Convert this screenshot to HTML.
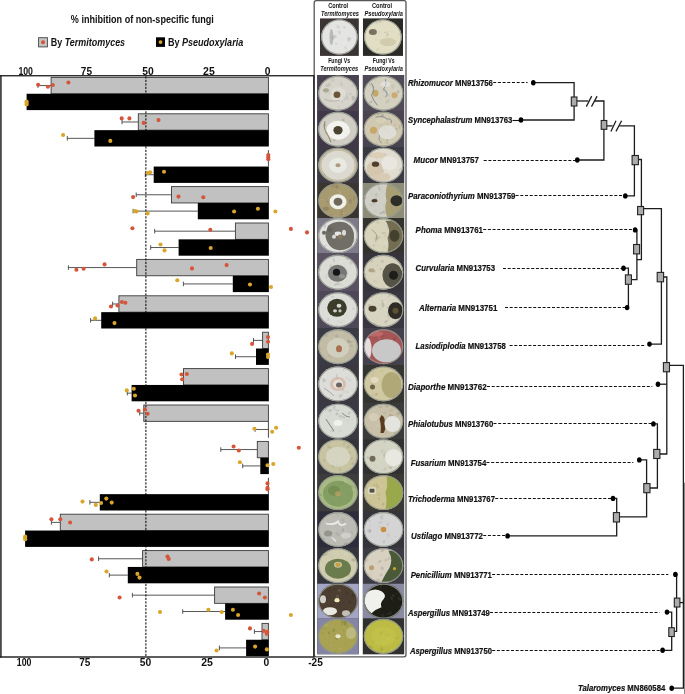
<!DOCTYPE html>
<html><head><meta charset="utf-8"><style>
html,body{margin:0;padding:0;background:#fff;}
svg{display:block;font-family:"Liberation Sans", sans-serif;filter:blur(0.3px);}
</style></head><body>
<svg width="685" height="694" viewBox="0 0 685 694">
<rect width="685" height="694" fill="#fff"/>
<line x1="38.0" y1="85.58" x2="51.1" y2="85.58" stroke="#444" stroke-width="0.9"/>
<line x1="38.0" y1="83.28" x2="38.0" y2="87.88" stroke="#444" stroke-width="0.9"/>
<line x1="122.0" y1="121.98" x2="138.3" y2="121.98" stroke="#444" stroke-width="0.9"/>
<line x1="122.0" y1="119.68" x2="122.0" y2="124.28" stroke="#444" stroke-width="0.9"/>
<line x1="67.3" y1="138.33" x2="94.4" y2="138.33" stroke="#444" stroke-width="0.9"/>
<line x1="67.3" y1="136.03" x2="67.3" y2="140.63" stroke="#444" stroke-width="0.9"/>
<line x1="145.3" y1="174.72" x2="153.7" y2="174.72" stroke="#444" stroke-width="0.9"/>
<line x1="145.3" y1="172.42" x2="145.3" y2="177.03" stroke="#444" stroke-width="0.9"/>
<line x1="136.2" y1="194.78" x2="171.5" y2="194.78" stroke="#444" stroke-width="0.9"/>
<line x1="136.2" y1="192.47" x2="136.2" y2="197.08" stroke="#444" stroke-width="0.9"/>
<line x1="133.1" y1="211.12" x2="197.8" y2="211.12" stroke="#444" stroke-width="0.9"/>
<line x1="133.1" y1="208.82" x2="133.1" y2="213.43" stroke="#444" stroke-width="0.9"/>
<line x1="154.7" y1="231.18" x2="235.4" y2="231.18" stroke="#444" stroke-width="0.9"/>
<line x1="154.7" y1="228.88" x2="154.7" y2="233.48" stroke="#444" stroke-width="0.9"/>
<line x1="150.7" y1="247.53" x2="178.6" y2="247.53" stroke="#444" stroke-width="0.9"/>
<line x1="150.7" y1="245.22" x2="150.7" y2="249.83" stroke="#444" stroke-width="0.9"/>
<line x1="68.4" y1="267.57" x2="136.7" y2="267.57" stroke="#444" stroke-width="0.9"/>
<line x1="68.4" y1="265.27" x2="68.4" y2="269.88" stroke="#444" stroke-width="0.9"/>
<line x1="183.4" y1="283.93" x2="232.8" y2="283.93" stroke="#444" stroke-width="0.9"/>
<line x1="183.4" y1="281.62" x2="183.4" y2="286.23" stroke="#444" stroke-width="0.9"/>
<line x1="112.6" y1="303.97" x2="118.9" y2="303.97" stroke="#444" stroke-width="0.9"/>
<line x1="112.6" y1="301.67" x2="112.6" y2="306.27" stroke="#444" stroke-width="0.9"/>
<line x1="90.6" y1="320.32" x2="101.2" y2="320.32" stroke="#444" stroke-width="0.9"/>
<line x1="90.6" y1="318.02" x2="90.6" y2="322.62" stroke="#444" stroke-width="0.9"/>
<line x1="253.5" y1="340.38" x2="262.6" y2="340.38" stroke="#444" stroke-width="0.9"/>
<line x1="253.5" y1="338.07" x2="253.5" y2="342.68" stroke="#444" stroke-width="0.9"/>
<line x1="235.5" y1="356.73" x2="256.0" y2="356.73" stroke="#444" stroke-width="0.9"/>
<line x1="235.5" y1="354.43" x2="235.5" y2="359.03" stroke="#444" stroke-width="0.9"/>
<line x1="127.3" y1="393.13" x2="131.6" y2="393.13" stroke="#444" stroke-width="0.9"/>
<line x1="127.3" y1="390.83" x2="127.3" y2="395.43" stroke="#444" stroke-width="0.9"/>
<line x1="139.7" y1="413.18" x2="143.8" y2="413.18" stroke="#444" stroke-width="0.9"/>
<line x1="139.7" y1="410.88" x2="139.7" y2="415.48" stroke="#444" stroke-width="0.9"/>
<line x1="255.1" y1="429.53" x2="268.4" y2="429.53" stroke="#444" stroke-width="0.9"/>
<line x1="255.1" y1="427.23" x2="255.1" y2="431.83" stroke="#444" stroke-width="0.9"/>
<line x1="220.8" y1="449.57" x2="257.3" y2="449.57" stroke="#444" stroke-width="0.9"/>
<line x1="220.8" y1="447.27" x2="220.8" y2="451.88" stroke="#444" stroke-width="0.9"/>
<line x1="242.7" y1="465.93" x2="260.3" y2="465.93" stroke="#444" stroke-width="0.9"/>
<line x1="242.7" y1="463.62" x2="242.7" y2="468.23" stroke="#444" stroke-width="0.9"/>
<line x1="89.9" y1="502.32" x2="99.8" y2="502.32" stroke="#444" stroke-width="0.9"/>
<line x1="89.9" y1="500.02" x2="89.9" y2="504.62" stroke="#444" stroke-width="0.9"/>
<line x1="51.4" y1="522.37" x2="60.3" y2="522.37" stroke="#444" stroke-width="0.9"/>
<line x1="51.4" y1="520.07" x2="51.4" y2="524.67" stroke="#444" stroke-width="0.9"/>
<line x1="98.6" y1="558.77" x2="142.6" y2="558.77" stroke="#444" stroke-width="0.9"/>
<line x1="98.6" y1="556.48" x2="98.6" y2="561.07" stroke="#444" stroke-width="0.9"/>
<line x1="109.3" y1="575.12" x2="127.8" y2="575.12" stroke="#444" stroke-width="0.9"/>
<line x1="109.3" y1="572.83" x2="109.3" y2="577.42" stroke="#444" stroke-width="0.9"/>
<line x1="132.4" y1="595.17" x2="214.6" y2="595.17" stroke="#444" stroke-width="0.9"/>
<line x1="132.4" y1="592.88" x2="132.4" y2="597.47" stroke="#444" stroke-width="0.9"/>
<line x1="182.7" y1="611.52" x2="225.1" y2="611.52" stroke="#444" stroke-width="0.9"/>
<line x1="182.7" y1="609.23" x2="182.7" y2="613.82" stroke="#444" stroke-width="0.9"/>
<line x1="254.4" y1="631.57" x2="262.0" y2="631.57" stroke="#444" stroke-width="0.9"/>
<line x1="254.4" y1="629.27" x2="254.4" y2="633.87" stroke="#444" stroke-width="0.9"/>
<line x1="219.4" y1="647.92" x2="246.1" y2="647.92" stroke="#444" stroke-width="0.9"/>
<line x1="219.4" y1="645.62" x2="219.4" y2="650.22" stroke="#444" stroke-width="0.9"/>
<rect x="51.1" y="77.40" width="217.30" height="16.35" fill="#c0c1c0" stroke="#3a3a3a" stroke-width="0.9"/>
<rect x="26.6" y="93.75" width="242.25" height="16.35" fill="#000"/>
<rect x="138.3" y="113.80" width="130.10" height="16.35" fill="#c0c1c0" stroke="#3a3a3a" stroke-width="0.9"/>
<rect x="94.4" y="130.15" width="174.45" height="16.35" fill="#000"/>
<line x1="268.4" y1="150.20" x2="268.4" y2="166.55" stroke="#333" stroke-width="0.9"/>
<rect x="153.7" y="166.55" width="115.15" height="16.35" fill="#000"/>
<rect x="171.5" y="186.60" width="96.90" height="16.35" fill="#c0c1c0" stroke="#3a3a3a" stroke-width="0.9"/>
<rect x="197.8" y="202.95" width="71.05" height="16.35" fill="#000"/>
<rect x="235.4" y="223.00" width="33.00" height="16.35" fill="#c0c1c0" stroke="#3a3a3a" stroke-width="0.9"/>
<rect x="178.6" y="239.35" width="90.25" height="16.35" fill="#000"/>
<rect x="136.7" y="259.40" width="131.70" height="16.35" fill="#c0c1c0" stroke="#3a3a3a" stroke-width="0.9"/>
<rect x="232.8" y="275.75" width="36.05" height="16.35" fill="#000"/>
<rect x="118.9" y="295.80" width="149.50" height="16.35" fill="#c0c1c0" stroke="#3a3a3a" stroke-width="0.9"/>
<rect x="101.2" y="312.15" width="167.65" height="16.35" fill="#000"/>
<rect x="262.6" y="332.20" width="5.80" height="16.35" fill="#c0c1c0" stroke="#3a3a3a" stroke-width="0.9"/>
<rect x="256.0" y="348.55" width="12.85" height="16.35" fill="#000"/>
<rect x="183.5" y="368.60" width="84.90" height="16.35" fill="#c0c1c0" stroke="#3a3a3a" stroke-width="0.9"/>
<rect x="131.6" y="384.95" width="137.25" height="16.35" fill="#000"/>
<rect x="143.8" y="405.00" width="124.60" height="16.35" fill="#c0c1c0" stroke="#3a3a3a" stroke-width="0.9"/>
<line x1="268.4" y1="421.35" x2="268.4" y2="437.70" stroke="#333" stroke-width="0.9"/>
<rect x="257.3" y="441.40" width="11.10" height="16.35" fill="#c0c1c0" stroke="#3a3a3a" stroke-width="0.9"/>
<rect x="260.3" y="457.75" width="8.55" height="16.35" fill="#000"/>
<line x1="268.4" y1="477.80" x2="268.4" y2="494.15" stroke="#333" stroke-width="0.9"/>
<rect x="99.8" y="494.15" width="169.05" height="16.35" fill="#000"/>
<rect x="60.3" y="514.20" width="208.10" height="16.35" fill="#c0c1c0" stroke="#3a3a3a" stroke-width="0.9"/>
<rect x="25.1" y="530.55" width="243.75" height="16.35" fill="#000"/>
<rect x="142.6" y="550.60" width="125.80" height="16.35" fill="#c0c1c0" stroke="#3a3a3a" stroke-width="0.9"/>
<rect x="127.8" y="566.95" width="141.05" height="16.35" fill="#000"/>
<rect x="214.6" y="587.00" width="53.80" height="16.35" fill="#c0c1c0" stroke="#3a3a3a" stroke-width="0.9"/>
<rect x="225.1" y="603.35" width="43.75" height="16.35" fill="#000"/>
<rect x="262.0" y="623.40" width="6.40" height="16.35" fill="#c0c1c0" stroke="#3a3a3a" stroke-width="0.9"/>
<rect x="246.1" y="639.75" width="22.75" height="16.35" fill="#000"/>
<line x1="145.9" y1="76.3" x2="145.9" y2="656" stroke="#000" stroke-width="1" stroke-dasharray="2.2,1.3"/>
<circle cx="38.1" cy="84.8" r="2.05" fill="#d5553a"/>
<circle cx="47.9" cy="86.7" r="2.05" fill="#d5553a"/>
<circle cx="52.8" cy="85" r="2.05" fill="#d5553a"/>
<circle cx="68.4" cy="82.5" r="2.05" fill="#d5553a"/>
<circle cx="121.7" cy="118.4" r="2.05" fill="#d5553a"/>
<circle cx="129.4" cy="118.4" r="2.05" fill="#d5553a"/>
<circle cx="143.7" cy="122.9" r="2.05" fill="#d5553a"/>
<circle cx="158.5" cy="120.1" r="2.05" fill="#d5553a"/>
<circle cx="268.3" cy="155" r="2.05" fill="#d5553a"/>
<circle cx="268.3" cy="157.3" r="2.05" fill="#d5553a"/>
<circle cx="268.3" cy="159.2" r="2.05" fill="#d5553a"/>
<circle cx="133.1" cy="197.1" r="2.05" fill="#d5553a"/>
<circle cx="178.5" cy="196.6" r="2.05" fill="#d5553a"/>
<circle cx="203.3" cy="197.3" r="2.05" fill="#d5553a"/>
<circle cx="132.4" cy="228.2" r="2.05" fill="#d5553a"/>
<circle cx="210.3" cy="229.8" r="2.05" fill="#d5553a"/>
<circle cx="290.9" cy="228.9" r="2.05" fill="#d5553a"/>
<circle cx="307" cy="232.4" r="2.05" fill="#d5553a"/>
<circle cx="76.4" cy="269.8" r="2.05" fill="#d5553a"/>
<circle cx="83.6" cy="268.8" r="2.05" fill="#d5553a"/>
<circle cx="104.6" cy="264.4" r="2.05" fill="#d5553a"/>
<circle cx="192" cy="268.4" r="2.05" fill="#d5553a"/>
<circle cx="226.6" cy="265.1" r="2.05" fill="#d5553a"/>
<circle cx="111" cy="306.5" r="2.05" fill="#d5553a"/>
<circle cx="117.5" cy="305.5" r="2.05" fill="#d5553a"/>
<circle cx="121.9" cy="302" r="2.05" fill="#d5553a"/>
<circle cx="125.4" cy="302.7" r="2.05" fill="#d5553a"/>
<circle cx="268" cy="337.1" r="2.05" fill="#d5553a"/>
<circle cx="268" cy="341.8" r="2.05" fill="#d5553a"/>
<circle cx="252.1" cy="343.9" r="2.05" fill="#d5553a"/>
<circle cx="181.5" cy="374.5" r="2.05" fill="#d5553a"/>
<circle cx="186.9" cy="374" r="2.05" fill="#d5553a"/>
<circle cx="182.2" cy="379.2" r="2.05" fill="#d5553a"/>
<circle cx="138.5" cy="410.7" r="2.05" fill="#d5553a"/>
<circle cx="144.8" cy="409.5" r="2.05" fill="#d5553a"/>
<circle cx="147.6" cy="413.8" r="2.05" fill="#d5553a"/>
<circle cx="233.6" cy="446.5" r="2.05" fill="#d5553a"/>
<circle cx="238.8" cy="450.5" r="2.05" fill="#d5553a"/>
<circle cx="298.8" cy="447.7" r="2.05" fill="#d5553a"/>
<circle cx="267.5" cy="483.4" r="2.05" fill="#d5553a"/>
<circle cx="267.5" cy="487.9" r="2.05" fill="#d5553a"/>
<circle cx="267.5" cy="489.3" r="2.05" fill="#d5553a"/>
<circle cx="51.4" cy="519.2" r="2.05" fill="#d5553a"/>
<circle cx="60.3" cy="519.2" r="2.05" fill="#d5553a"/>
<circle cx="70.1" cy="522.5" r="2.05" fill="#d5553a"/>
<circle cx="91.8" cy="559.4" r="2.05" fill="#d5553a"/>
<circle cx="167.5" cy="556.6" r="2.05" fill="#d5553a"/>
<circle cx="168.7" cy="558.9" r="2.05" fill="#d5553a"/>
<circle cx="119.6" cy="597.5" r="2.05" fill="#d5553a"/>
<circle cx="259.1" cy="593.5" r="2.05" fill="#d5553a"/>
<circle cx="264.9" cy="597.5" r="2.05" fill="#d5553a"/>
<circle cx="250" cy="628.4" r="2.05" fill="#d5553a"/>
<circle cx="263.8" cy="630.9" r="2.05" fill="#d5553a"/>
<circle cx="266.8" cy="633.7" r="2.05" fill="#d5553a"/>
<circle cx="267.3" cy="631.9" r="2.05" fill="#d5553a"/>
<circle cx="26.6" cy="101.5" r="2.05" fill="#d9a52a"/>
<circle cx="26.6" cy="103" r="2.05" fill="#d9a52a"/>
<circle cx="26.6" cy="104.5" r="2.05" fill="#d9a52a"/>
<circle cx="63.1" cy="135" r="2.05" fill="#d9a52a"/>
<circle cx="110.3" cy="140.9" r="2.05" fill="#d9a52a"/>
<circle cx="147.9" cy="173" r="2.05" fill="#d9a52a"/>
<circle cx="150.2" cy="172.3" r="2.05" fill="#d9a52a"/>
<circle cx="164" cy="171.8" r="2.05" fill="#d9a52a"/>
<circle cx="135" cy="211.1" r="2.05" fill="#d9a52a"/>
<circle cx="136.5" cy="211.5" r="2.05" fill="#d9a52a"/>
<circle cx="147.6" cy="213.4" r="2.05" fill="#d9a52a"/>
<circle cx="234.1" cy="211.5" r="2.05" fill="#d9a52a"/>
<circle cx="257.9" cy="208.7" r="2.05" fill="#d9a52a"/>
<circle cx="275.4" cy="211.5" r="2.05" fill="#d9a52a"/>
<circle cx="160.5" cy="244.5" r="2.05" fill="#d9a52a"/>
<circle cx="164.5" cy="250.4" r="2.05" fill="#d9a52a"/>
<circle cx="210.7" cy="248" r="2.05" fill="#d9a52a"/>
<circle cx="177.3" cy="280.3" r="2.05" fill="#d9a52a"/>
<circle cx="250" cy="284.5" r="2.05" fill="#d9a52a"/>
<circle cx="271" cy="287" r="2.05" fill="#d9a52a"/>
<circle cx="95.1" cy="318.4" r="2.05" fill="#d9a52a"/>
<circle cx="114.5" cy="323.1" r="2.05" fill="#d9a52a"/>
<circle cx="231.8" cy="353.4" r="2.05" fill="#d9a52a"/>
<circle cx="268" cy="354.5" r="2.05" fill="#d9a52a"/>
<circle cx="268" cy="357" r="2.05" fill="#d9a52a"/>
<circle cx="126.8" cy="390.4" r="2.05" fill="#d9a52a"/>
<circle cx="133.8" cy="388.8" r="2.05" fill="#d9a52a"/>
<circle cx="135" cy="395.5" r="2.05" fill="#d9a52a"/>
<circle cx="254.4" cy="428.7" r="2.05" fill="#d9a52a"/>
<circle cx="272.2" cy="431.7" r="2.05" fill="#d9a52a"/>
<circle cx="276.1" cy="427.8" r="2.05" fill="#d9a52a"/>
<circle cx="239.9" cy="462.2" r="2.05" fill="#d9a52a"/>
<circle cx="267.5" cy="465.2" r="2.05" fill="#d9a52a"/>
<circle cx="273.3" cy="464" r="2.05" fill="#d9a52a"/>
<circle cx="82.5" cy="501.6" r="2.05" fill="#d9a52a"/>
<circle cx="95.8" cy="504.9" r="2.05" fill="#d9a52a"/>
<circle cx="101.1" cy="503" r="2.05" fill="#d9a52a"/>
<circle cx="106.3" cy="498.6" r="2.05" fill="#d9a52a"/>
<circle cx="111.7" cy="502.6" r="2.05" fill="#d9a52a"/>
<circle cx="25.2" cy="536.5" r="2.05" fill="#d9a52a"/>
<circle cx="25.2" cy="537.9" r="2.05" fill="#d9a52a"/>
<circle cx="25.2" cy="539.3" r="2.05" fill="#d9a52a"/>
<circle cx="106.5" cy="571.5" r="2.05" fill="#d9a52a"/>
<circle cx="137.4" cy="573.9" r="2.05" fill="#d9a52a"/>
<circle cx="139.5" cy="577.6" r="2.05" fill="#d9a52a"/>
<circle cx="160" cy="612" r="2.05" fill="#d9a52a"/>
<circle cx="208.4" cy="609.7" r="2.05" fill="#d9a52a"/>
<circle cx="221.7" cy="612" r="2.05" fill="#d9a52a"/>
<circle cx="232.9" cy="609.7" r="2.05" fill="#d9a52a"/>
<circle cx="238.1" cy="615" r="2.05" fill="#d9a52a"/>
<circle cx="290.9" cy="615" r="2.05" fill="#d9a52a"/>
<circle cx="216.6" cy="650.5" r="2.05" fill="#d9a52a"/>
<circle cx="255.1" cy="646.6" r="2.05" fill="#d9a52a"/>
<circle cx="266.8" cy="649.4" r="2.05" fill="#d9a52a"/>
<rect x="0" y="75.2" width="1.8" height="582.4" fill="#4a4a4a"/>
<rect x="0" y="75.1" width="314.5" height="1.3" fill="#1a1a1a"/>
<rect x="0" y="656.3" width="314.5" height="1.4" fill="#1a1a1a"/>
<text x="25.7" y="74.6" font-size="10.4" font-weight="bold" text-anchor="middle" fill="#111" textLength="14.6" lengthAdjust="spacingAndGlyphs">100</text>
<text x="86.4" y="74.6" font-size="10.4" font-weight="bold" text-anchor="middle" fill="#111" textLength="11.2" lengthAdjust="spacingAndGlyphs">75</text>
<text x="148.1" y="74.6" font-size="10.4" font-weight="bold" text-anchor="middle" fill="#111" textLength="11.5" lengthAdjust="spacingAndGlyphs">50</text>
<text x="208.9" y="74.6" font-size="10.4" font-weight="bold" text-anchor="middle" fill="#111" textLength="11.7" lengthAdjust="spacingAndGlyphs">25</text>
<text x="267.5" y="74.6" font-size="10.4" font-weight="bold" text-anchor="middle" fill="#111" textLength="5.7" lengthAdjust="spacingAndGlyphs">0</text>
<text x="24.1" y="666" font-size="10.4" font-weight="bold" text-anchor="middle" fill="#111" textLength="14.6" lengthAdjust="spacingAndGlyphs">100</text>
<text x="84.8" y="666" font-size="10.4" font-weight="bold" text-anchor="middle" fill="#111" textLength="11.2" lengthAdjust="spacingAndGlyphs">75</text>
<text x="145.5" y="666" font-size="10.4" font-weight="bold" text-anchor="middle" fill="#111" textLength="11.5" lengthAdjust="spacingAndGlyphs">50</text>
<text x="207.1" y="666" font-size="10.4" font-weight="bold" text-anchor="middle" fill="#111" textLength="11.7" lengthAdjust="spacingAndGlyphs">25</text>
<text x="266.4" y="666" font-size="10.4" font-weight="bold" text-anchor="middle" fill="#111" textLength="5.7" lengthAdjust="spacingAndGlyphs">0</text>
<text x="315.5" y="666" font-size="10.4" font-weight="bold" text-anchor="middle" fill="#111" textLength="14.6" lengthAdjust="spacingAndGlyphs">-25</text>
<text x="70.8" y="23.3" font-size="10.2" font-weight="bold" fill="#111" textLength="143" lengthAdjust="spacingAndGlyphs">% inhibition of non-specific fungi</text>
<rect x="38.6" y="37.7" width="8.8" height="9.2" fill="#c4c4c4" stroke="#444" stroke-width="0.9"/>
<circle cx="43" cy="42.3" r="2" fill="#d5553a"/>
<text x="50.8" y="45.9" font-size="10.2" font-weight="bold" fill="#111" textLength="74.3" lengthAdjust="spacingAndGlyphs">By <tspan font-style="italic">Termitomyces</tspan></text>
<rect x="156" y="37.3" width="9" height="9.6" fill="#000"/>
<circle cx="160.5" cy="42.1" r="1.9" fill="#d9a52a"/>
<text x="167.9" y="45.9" font-size="10.2" font-weight="bold" fill="#111" textLength="75.3" lengthAdjust="spacingAndGlyphs">By <tspan font-style="italic">Pseudoxylaria</tspan></text>
<rect x="314.2" y="0.6" width="91.8" height="656.2" rx="2" fill="#fff" stroke="#555" stroke-width="1.3"/>
<rect x="313.1" y="75.1" width="1.5" height="582.5" fill="#2a2a2a"/>
<text x="328.2" y="7.9" font-size="6.8" font-weight="bold" fill="#111" textLength="20" lengthAdjust="spacingAndGlyphs">Control</text>
<text x="321" y="15.9" font-size="6.8" font-weight="bold" fill="#111" font-style="italic" textLength="37.9" lengthAdjust="spacingAndGlyphs">Termitomyces</text>
<text x="372" y="7.9" font-size="6.8" font-weight="bold" fill="#111" textLength="20.1" lengthAdjust="spacingAndGlyphs">Control</text>
<text x="364.5" y="15.9" font-size="6.8" font-weight="bold" fill="#111" font-style="italic" textLength="38.5" lengthAdjust="spacingAndGlyphs">Pseudoxylaria</text>
<text x="328.2" y="63.1" font-size="6.8" font-weight="bold" fill="#111" textLength="21.9" lengthAdjust="spacingAndGlyphs">Fungi Vs</text>
<text x="320.2" y="71.4" font-size="6.8" font-weight="bold" fill="#111" font-style="italic" textLength="38" lengthAdjust="spacingAndGlyphs">Termitomyces</text>
<text x="372.8" y="63.1" font-size="6.8" font-weight="bold" fill="#111" textLength="21.9" lengthAdjust="spacingAndGlyphs">Fungi Vs</text>
<text x="364.5" y="71.4" font-size="6.8" font-weight="bold" fill="#111" font-style="italic" textLength="38.5" lengthAdjust="spacingAndGlyphs">Pseudoxylaria</text>
<clipPath id="cp1"><rect x="319.9" y="18.20" width="39" height="37.70"/></clipPath>
<clipPath id="cp1d"><ellipse cx="339.40" cy="37.05" rx="18.2" ry="17.5"/></clipPath>
<g clip-path="url(#cp1)">
<rect x="319.9" y="18.20" width="39" height="37.70" fill="#3a3434"/>
<ellipse cx="339.40" cy="37.05" rx="18.2" ry="17.5" fill="#e4e4e2"/>
<g clip-path="url(#cp1d)"><g transform="translate(339.40,37.05)">
<ellipse cx="9.8" cy="2.5" rx="2.4" ry="1.4" transform="rotate(131 9.8 2.5)" fill="#bdbdbc" opacity="0.55"/>
<ellipse cx="-3.7" cy="-13.3" rx="0.9" ry="0.7" transform="rotate(61 -3.7 -13.3)" fill="#e6e6e5" opacity="0.55"/>
<ellipse cx="-0.2" cy="-4.6" rx="1.7" ry="1.7" transform="rotate(110 -0.2 -4.6)" fill="#c3c3c1" opacity="0.55"/>
<ellipse cx="-6.1" cy="0.3" rx="2.2" ry="1.8" transform="rotate(130 -6.1 0.3)" fill="#b6b6b5" opacity="0.55"/>
<ellipse cx="7.7" cy="-7.2" rx="0.9" ry="1.8" transform="rotate(176 7.7 -7.2)" fill="#e8e8e6" opacity="0.55"/>
<ellipse cx="5.8" cy="5.4" rx="2.5" ry="1.6" transform="rotate(111 5.8 5.4)" fill="#e7e7e5" opacity="0.55"/>
<ellipse cx="-7.8" cy="-5.4" rx="1.8" ry="1.6" transform="rotate(70 -7.8 -5.4)" fill="#e2e2e0" opacity="0.55"/>
<ellipse cx="8.6" cy="10.7" rx="0.9" ry="0.6" transform="rotate(168 8.6 10.7)" fill="#e3e3e1" opacity="0.55"/>
<ellipse cx="-1.5" cy="-4.0" rx="1.4" ry="0.8" transform="rotate(2 -1.5 -4.0)" fill="#e5e5e4" opacity="0.55"/>
<ellipse cx="-2.7" cy="-10.4" rx="1.9" ry="0.8" transform="rotate(48 -2.7 -10.4)" fill="#d3d3d1" opacity="0.55"/>
<ellipse cx="-2.1" cy="-13.7" rx="0.9" ry="0.8" transform="rotate(129 -2.1 -13.7)" fill="#e7e7e5" opacity="0.55"/>
<ellipse cx="-5.8" cy="14.0" rx="2.4" ry="0.8" transform="rotate(23 -5.8 14.0)" fill="#e4e4e2" opacity="0.55"/>
<ellipse cx="3.6" cy="2.5" rx="2.3" ry="0.7" transform="rotate(0 3.6 2.5)" fill="#dededc" opacity="0.55"/>
<ellipse cx="9.2" cy="1.3" rx="1.7" ry="1.0" transform="rotate(15 9.2 1.3)" fill="#bcbcbb" opacity="0.55"/>
<ellipse cx="-3.2" cy="-11.7" rx="1.6" ry="0.8" transform="rotate(115 -3.2 -11.7)" fill="#e6e6e4" opacity="0.55"/>
<ellipse cx="-10.3" cy="-11.5" rx="2.5" ry="1.4" transform="rotate(124 -10.3 -11.5)" fill="#d7d7d5" opacity="0.55"/>
<ellipse cx="-5.2" cy="7.1" rx="1.0" ry="1.7" transform="rotate(156 -5.2 7.1)" fill="#e8e8e6" opacity="0.55"/>
<ellipse cx="4.9" cy="-9.7" rx="1.2" ry="1.2" transform="rotate(158 4.9 -9.7)" fill="#c2c2c1" opacity="0.55"/>
<ellipse cx="-9.3" cy="-4.0" rx="1.8" ry="1.3" transform="rotate(84 -9.3 -4.0)" fill="#e6e6e4" opacity="0.55"/>
<ellipse cx="1.3" cy="8.7" rx="1.2" ry="1.2" transform="rotate(137 1.3 8.7)" fill="#e4e4e2" opacity="0.55"/>
<ellipse cx="-1.0" cy="-10.4" rx="2.3" ry="1.3" transform="rotate(54 -1.0 -10.4)" fill="#cccccb" opacity="0.55"/>
<ellipse cx="3.3" cy="4.6" rx="1.4" ry="1.3" transform="rotate(32 3.3 4.6)" fill="#e5e5e3" opacity="0.55"/>
<ellipse cx="-7.4" cy="4.5" rx="1.5" ry="0.6" transform="rotate(53 -7.4 4.5)" fill="#e6e6e4" opacity="0.55"/>
<ellipse cx="7.2" cy="14.7" rx="1.4" ry="1.5" transform="rotate(115 7.2 14.7)" fill="#d8d8d6" opacity="0.55"/>
<ellipse cx="-3.2" cy="6.6" rx="1.1" ry="0.9" transform="rotate(120 -3.2 6.6)" fill="#bebebd" opacity="0.55"/>
<ellipse cx="9.1" cy="-3.5" rx="1.8" ry="1.2" transform="rotate(127 9.1 -3.5)" fill="#e6e6e4" opacity="0.55"/>
<ellipse cx="-3.9" cy="-0.6" rx="1.2" ry="1.4" transform="rotate(154 -3.9 -0.6)" fill="#babab8" opacity="0.55"/>
<ellipse cx="14.8" cy="6.9" rx="1.1" ry="1.6" transform="rotate(95 14.8 6.9)" fill="#e8e8e6" opacity="0.55"/>
<ellipse cx="-1.1" cy="9.9" rx="1.1" ry="0.9" transform="rotate(127 -1.1 9.9)" fill="#e7e7e5" opacity="0.55"/>
<ellipse cx="6.3" cy="10.9" rx="0.9" ry="1.4" transform="rotate(158 6.3 10.9)" fill="#b9b9b7" opacity="0.55"/>
<ellipse cx="-8" cy="0" rx="2" ry="8" fill="#909090" opacity="0.5"/>
</g></g>
<ellipse cx="339.40" cy="37.05" rx="17.7" ry="17.0" fill="none" stroke="#8e968c" stroke-width="1.1" opacity="0.9"/>
</g>
<clipPath id="cp2"><rect x="362.8" y="18.20" width="40.2" height="37.70"/></clipPath>
<clipPath id="cp2d"><ellipse cx="382.90" cy="37.05" rx="18.8" ry="17.5"/></clipPath>
<g clip-path="url(#cp2)">
<rect x="362.8" y="18.20" width="40.2" height="37.70" fill="#2a2a26"/>
<ellipse cx="382.90" cy="37.05" rx="18.8" ry="17.5" fill="#e2dec4"/>
<g clip-path="url(#cp2d)"><g transform="translate(382.90,37.05)">
<ellipse cx="-2.1" cy="3.3" rx="1.0" ry="1.6" transform="rotate(51 -2.1 3.3)" fill="#d1ceb6" opacity="0.55"/>
<ellipse cx="8.1" cy="10.2" rx="2.4" ry="1.0" transform="rotate(82 8.1 10.2)" fill="#e6e2cc" opacity="0.55"/>
<ellipse cx="-13.3" cy="2.3" rx="1.5" ry="0.8" transform="rotate(12 -13.3 2.3)" fill="#e3e0c7" opacity="0.55"/>
<ellipse cx="13.3" cy="-6.6" rx="1.3" ry="1.2" transform="rotate(140 13.3 -6.6)" fill="#e5e2cb" opacity="0.55"/>
<ellipse cx="-6.3" cy="-14.2" rx="2.2" ry="0.9" transform="rotate(44 -6.3 -14.2)" fill="#c4c1aa" opacity="0.55"/>
<ellipse cx="1.9" cy="10.4" rx="2.3" ry="1.7" transform="rotate(71 1.9 10.4)" fill="#e1ddc3" opacity="0.55"/>
<ellipse cx="12.6" cy="4.2" rx="1.1" ry="1.0" transform="rotate(17 12.6 4.2)" fill="#dfdbc1" opacity="0.55"/>
<ellipse cx="-11.9" cy="2.6" rx="1.2" ry="1.3" transform="rotate(33 -11.9 2.6)" fill="#e4e1c9" opacity="0.55"/>
<ellipse cx="-3.5" cy="-15.8" rx="1.9" ry="1.3" transform="rotate(20 -3.5 -15.8)" fill="#b2af9a" opacity="0.55"/>
<ellipse cx="4.6" cy="-2.4" rx="2.0" ry="1.1" transform="rotate(104 4.6 -2.4)" fill="#bdbaa4" opacity="0.55"/>
<ellipse cx="16.9" cy="1.5" rx="0.9" ry="0.6" transform="rotate(106 16.9 1.5)" fill="#e2dec5" opacity="0.55"/>
<ellipse cx="-11.6" cy="-4.2" rx="1.6" ry="1.3" transform="rotate(77 -11.6 -4.2)" fill="#c1bda7" opacity="0.55"/>
<ellipse cx="-4.1" cy="-4.7" rx="1.4" ry="0.8" transform="rotate(121 -4.1 -4.7)" fill="#bdbaa4" opacity="0.55"/>
<ellipse cx="3.2" cy="14.5" rx="2.6" ry="1.5" transform="rotate(169 3.2 14.5)" fill="#dddac0" opacity="0.55"/>
<ellipse cx="16.9" cy="-1.4" rx="2.6" ry="0.7" transform="rotate(104 16.9 -1.4)" fill="#e6e3cc" opacity="0.55"/>
<ellipse cx="3.6" cy="-7.0" rx="2.2" ry="1.4" transform="rotate(92 3.6 -7.0)" fill="#e3dfc6" opacity="0.55"/>
<ellipse cx="16.7" cy="-2.4" rx="1.8" ry="1.2" transform="rotate(86 16.7 -2.4)" fill="#cecab2" opacity="0.55"/>
<ellipse cx="-7.4" cy="-8.3" rx="0.9" ry="1.4" transform="rotate(112 -7.4 -8.3)" fill="#e5e1ca" opacity="0.55"/>
<ellipse cx="-7.0" cy="3.0" rx="1.5" ry="0.8" transform="rotate(23 -7.0 3.0)" fill="#d5d2b9" opacity="0.55"/>
<ellipse cx="5.6" cy="-10.6" rx="2.5" ry="1.2" transform="rotate(7 5.6 -10.6)" fill="#e2dec5" opacity="0.55"/>
<ellipse cx="-7.0" cy="-6.8" rx="1.0" ry="1.4" transform="rotate(6 -7.0 -6.8)" fill="#e4e0c8" opacity="0.55"/>
<ellipse cx="3.1" cy="-4.8" rx="2.1" ry="0.6" transform="rotate(168 3.1 -4.8)" fill="#b9b5a0" opacity="0.55"/>
<ellipse cx="-7.9" cy="-3.7" rx="2.3" ry="1.7" transform="rotate(62 -7.9 -3.7)" fill="#d9d5bc" opacity="0.55"/>
<ellipse cx="-11.3" cy="-11.6" rx="2.1" ry="0.9" transform="rotate(168 -11.3 -11.6)" fill="#e6e3cd" opacity="0.55"/>
<ellipse cx="-8.8" cy="-12.3" rx="2.4" ry="1.7" transform="rotate(129 -8.8 -12.3)" fill="#e0dcc2" opacity="0.55"/>
<ellipse cx="-5.6" cy="-6.6" rx="0.9" ry="1.0" transform="rotate(176 -5.6 -6.6)" fill="#e5e2cb" opacity="0.55"/>
<ellipse cx="-5.3" cy="12.6" rx="1.7" ry="1.4" transform="rotate(166 -5.3 12.6)" fill="#cdc9b2" opacity="0.55"/>
<ellipse cx="-4.6" cy="-4.6" rx="1.0" ry="1.5" transform="rotate(86 -4.6 -4.6)" fill="#e6e3cd" opacity="0.55"/>
<ellipse cx="-15.5" cy="-8.0" rx="1.2" ry="1.6" transform="rotate(5 -15.5 -8.0)" fill="#e4e0c8" opacity="0.55"/>
<ellipse cx="-1.1" cy="-15.9" rx="1.8" ry="1.1" transform="rotate(100 -1.1 -15.9)" fill="#d5d1b9" opacity="0.55"/>
<ellipse cx="-10" cy="-5" rx="4" ry="3" fill="#605848" opacity="0.8"/>
<ellipse cx="5" cy="5" rx="8" ry="4" fill="#c8c0a0" opacity="0.6"/>
</g></g>
<ellipse cx="382.90" cy="37.05" rx="18.3" ry="17.0" fill="none" stroke="#8e968c" stroke-width="1.1" opacity="0.9"/>
</g>
<rect x="317.2" y="75" width="41.6" height="579.3" fill="#3a3840"/>
<rect x="362.8" y="75" width="41.4" height="579.3" fill="#3a3840"/>
<clipPath id="c0_0"><rect x="317.2" y="75.00" width="41.6" height="36.50"/></clipPath>
<clipPath id="c0_0d"><ellipse cx="338.00" cy="93.25" rx="19.7" ry="17.4"/></clipPath>
<g clip-path="url(#c0_0)">
<rect x="317.2" y="75.00" width="41.6" height="36.50" fill="#4a4250"/>
<ellipse cx="338.00" cy="93.25" rx="19.7" ry="17.4" fill="#d6d4ca"/>
<g clip-path="url(#c0_0d)"><g transform="translate(338.00,93.25)">
<ellipse cx="8.6" cy="0.8" rx="1.8" ry="1.3" transform="rotate(17 8.6 0.8)" fill="#b5b4ab" opacity="0.55"/>
<ellipse cx="15.0" cy="-7.6" rx="2.3" ry="0.8" transform="rotate(133 15.0 -7.6)" fill="#bdbbb2" opacity="0.55"/>
<ellipse cx="-15.2" cy="0.6" rx="2.4" ry="1.1" transform="rotate(51 -15.2 0.6)" fill="#dbd9d0" opacity="0.55"/>
<ellipse cx="1.1" cy="13.7" rx="1.4" ry="0.8" transform="rotate(94 1.1 13.7)" fill="#bfbdb4" opacity="0.55"/>
<ellipse cx="9.4" cy="1.3" rx="1.1" ry="1.5" transform="rotate(148 9.4 1.3)" fill="#dcdad1" opacity="0.55"/>
<ellipse cx="-7.2" cy="0.3" rx="1.7" ry="1.5" transform="rotate(58 -7.2 0.3)" fill="#b2b0a8" opacity="0.55"/>
<ellipse cx="12.4" cy="0.7" rx="1.4" ry="1.2" transform="rotate(163 12.4 0.7)" fill="#b9b8af" opacity="0.55"/>
<ellipse cx="-11.3" cy="-2.1" rx="2.2" ry="1.6" transform="rotate(4 -11.3 -2.1)" fill="#d6d4ca" opacity="0.55"/>
<ellipse cx="-0.5" cy="-2.0" rx="2.1" ry="0.8" transform="rotate(46 -0.5 -2.0)" fill="#aeaca4" opacity="0.55"/>
<ellipse cx="14.8" cy="3.9" rx="1.5" ry="1.6" transform="rotate(156 14.8 3.9)" fill="#c4c2b9" opacity="0.55"/>
<ellipse cx="-10.4" cy="-7.8" rx="2.6" ry="1.2" transform="rotate(176 -10.4 -7.8)" fill="#b1b0a7" opacity="0.55"/>
<ellipse cx="6.2" cy="4.4" rx="2.6" ry="1.8" transform="rotate(64 6.2 4.4)" fill="#bbb9b0" opacity="0.55"/>
<ellipse cx="-8.3" cy="-8.9" rx="2.4" ry="1.8" transform="rotate(54 -8.3 -8.9)" fill="#c1bfb6" opacity="0.55"/>
<ellipse cx="16.2" cy="4.9" rx="2.4" ry="1.3" transform="rotate(135 16.2 4.9)" fill="#d6d4ca" opacity="0.55"/>
<ellipse cx="14.8" cy="6.3" rx="1.4" ry="1.1" transform="rotate(93 14.8 6.3)" fill="#b4b2aa" opacity="0.55"/>
<ellipse cx="15.7" cy="4.6" rx="2.1" ry="1.8" transform="rotate(23 15.7 4.6)" fill="#afada5" opacity="0.55"/>
<ellipse cx="-5.2" cy="-8.9" rx="2.2" ry="0.8" transform="rotate(23 -5.2 -8.9)" fill="#dbd9d1" opacity="0.55"/>
<ellipse cx="9.6" cy="5.5" rx="0.9" ry="1.5" transform="rotate(127 9.6 5.5)" fill="#bcbab1" opacity="0.55"/>
<ellipse cx="-3.6" cy="-9.8" rx="1.9" ry="1.1" transform="rotate(128 -3.6 -9.8)" fill="#d6d4ca" opacity="0.55"/>
<ellipse cx="-11.3" cy="-4.8" rx="2.1" ry="0.9" transform="rotate(149 -11.3 -4.8)" fill="#d1cfc6" opacity="0.55"/>
<ellipse cx="3.5" cy="-9.1" rx="2.2" ry="0.9" transform="rotate(57 3.5 -9.1)" fill="#b7b5ad" opacity="0.55"/>
<ellipse cx="9.2" cy="3.4" rx="1.7" ry="1.3" transform="rotate(117 9.2 3.4)" fill="#c7c5bc" opacity="0.55"/>
<ellipse cx="10.5" cy="-0.4" rx="0.9" ry="1.6" transform="rotate(44 10.5 -0.4)" fill="#d8d7cd" opacity="0.55"/>
<ellipse cx="-5.1" cy="-13.4" rx="2.3" ry="1.7" transform="rotate(128 -5.1 -13.4)" fill="#c2c1b7" opacity="0.55"/>
<ellipse cx="-0.4" cy="2.5" rx="1.2" ry="1.1" transform="rotate(179 -0.4 2.5)" fill="#d7d5cb" opacity="0.55"/>
<ellipse cx="4.2" cy="8.3" rx="1.2" ry="1.2" transform="rotate(167 4.2 8.3)" fill="#c0bfb6" opacity="0.55"/>
<ellipse cx="-9.0" cy="-1.4" rx="1.2" ry="1.3" transform="rotate(58 -9.0 -1.4)" fill="#d3d1c7" opacity="0.55"/>
<ellipse cx="-6.5" cy="-6.5" rx="1.8" ry="1.8" transform="rotate(96 -6.5 -6.5)" fill="#d7d5cb" opacity="0.55"/>
<ellipse cx="-13.1" cy="-4.3" rx="2.3" ry="1.0" transform="rotate(36 -13.1 -4.3)" fill="#dcdbd2" opacity="0.55"/>
<ellipse cx="-12.4" cy="-1.0" rx="2.0" ry="1.8" transform="rotate(76 -12.4 -1.0)" fill="#cccac0" opacity="0.55"/>
<ellipse cx="0" cy="1" rx="8" ry="7" fill="#e0e0da" opacity="0.7"/>
<ellipse cx="-1" cy="1.5" rx="3.4" ry="3.2" fill="#6a5636" opacity="1"/>
<ellipse cx="-12" cy="-3" rx="3" ry="2" fill="#a09c88" opacity="0.8"/>
<path d="M-14 6 Q-6 9 2 7" fill="none" stroke="#b8b4a4" stroke-width="1.2" opacity="0.8"/>
</g></g>
<ellipse cx="338.00" cy="93.25" rx="19.2" ry="16.9" fill="none" stroke="#8e968c" stroke-width="1.1" opacity="0.9"/>
</g>
<clipPath id="c0_1"><rect x="362.8" y="75.00" width="41.4" height="36.50"/></clipPath>
<clipPath id="c0_1d"><ellipse cx="383.50" cy="93.25" rx="19.7" ry="17.4"/></clipPath>
<g clip-path="url(#c0_1)">
<rect x="362.8" y="75.00" width="41.4" height="36.50" fill="#504a58"/>
<ellipse cx="383.50" cy="93.25" rx="19.7" ry="17.4" fill="#d4d0c0"/>
<g clip-path="url(#c0_1d)"><g transform="translate(383.50,93.25)">
<ellipse cx="16.8" cy="2.8" rx="2.1" ry="1.3" transform="rotate(75 16.8 2.8)" fill="#d5d1c1" opacity="0.55"/>
<ellipse cx="9.3" cy="-6.4" rx="2.3" ry="1.7" transform="rotate(85 9.3 -6.4)" fill="#c2beb0" opacity="0.55"/>
<ellipse cx="5.4" cy="2.0" rx="1.4" ry="1.1" transform="rotate(66 5.4 2.0)" fill="#bbb7a9" opacity="0.55"/>
<ellipse cx="16.0" cy="-0.0" rx="2.1" ry="1.1" transform="rotate(65 16.0 -0.0)" fill="#d7d3c5" opacity="0.55"/>
<ellipse cx="-16.8" cy="-6.6" rx="1.8" ry="1.6" transform="rotate(70 -16.8 -6.6)" fill="#d5d1c1" opacity="0.55"/>
<ellipse cx="11.6" cy="-4.5" rx="1.5" ry="1.1" transform="rotate(78 11.6 -4.5)" fill="#dad7ca" opacity="0.55"/>
<ellipse cx="-3.8" cy="-8.6" rx="1.9" ry="1.7" transform="rotate(149 -3.8 -8.6)" fill="#dbd7ca" opacity="0.55"/>
<ellipse cx="-7.7" cy="-13.2" rx="2.2" ry="1.0" transform="rotate(112 -7.7 -13.2)" fill="#c4c0b2" opacity="0.55"/>
<ellipse cx="3.4" cy="-15.9" rx="2.5" ry="1.3" transform="rotate(178 3.4 -15.9)" fill="#d6d2c2" opacity="0.55"/>
<ellipse cx="0.6" cy="-2.8" rx="1.3" ry="1.5" transform="rotate(169 0.6 -2.8)" fill="#c6c3b4" opacity="0.55"/>
<ellipse cx="8.3" cy="0.7" rx="2.4" ry="0.7" transform="rotate(22 8.3 0.7)" fill="#d7d3c5" opacity="0.55"/>
<ellipse cx="15.3" cy="0.6" rx="1.1" ry="1.3" transform="rotate(45 15.3 0.6)" fill="#d9d5c7" opacity="0.55"/>
<ellipse cx="-14.4" cy="5.4" rx="1.0" ry="1.5" transform="rotate(89 -14.4 5.4)" fill="#d3cfbf" opacity="0.55"/>
<ellipse cx="-11.9" cy="-1.6" rx="1.9" ry="0.8" transform="rotate(89 -11.9 -1.6)" fill="#d4d1c1" opacity="0.55"/>
<ellipse cx="0.1" cy="-3.0" rx="1.8" ry="1.0" transform="rotate(92 0.1 -3.0)" fill="#bfbbad" opacity="0.55"/>
<ellipse cx="6.8" cy="-3.8" rx="2.1" ry="0.6" transform="rotate(109 6.8 -3.8)" fill="#d8d5c7" opacity="0.55"/>
<ellipse cx="-10.4" cy="-6.1" rx="1.3" ry="1.2" transform="rotate(138 -10.4 -6.1)" fill="#bebaac" opacity="0.55"/>
<ellipse cx="14.7" cy="-1.4" rx="1.3" ry="1.7" transform="rotate(9 14.7 -1.4)" fill="#a6a396" opacity="0.55"/>
<ellipse cx="4.0" cy="8.2" rx="2.6" ry="1.3" transform="rotate(137 4.0 8.2)" fill="#b9b6a8" opacity="0.55"/>
<ellipse cx="-13.2" cy="-8.6" rx="1.4" ry="1.7" transform="rotate(165 -13.2 -8.6)" fill="#bcb9ab" opacity="0.55"/>
<ellipse cx="-3.3" cy="5.3" rx="2.1" ry="0.6" transform="rotate(40 -3.3 5.3)" fill="#cfcbbc" opacity="0.55"/>
<ellipse cx="5.5" cy="11.7" rx="1.8" ry="1.1" transform="rotate(31 5.5 11.7)" fill="#d5d1c2" opacity="0.55"/>
<ellipse cx="-12.5" cy="8.8" rx="1.4" ry="1.6" transform="rotate(65 -12.5 8.8)" fill="#aaa699" opacity="0.55"/>
<ellipse cx="-4.9" cy="-9.7" rx="1.2" ry="0.6" transform="rotate(140 -4.9 -9.7)" fill="#a6a396" opacity="0.55"/>
<ellipse cx="11.9" cy="4.0" rx="2.6" ry="1.1" transform="rotate(19 11.9 4.0)" fill="#d6d2c3" opacity="0.55"/>
<ellipse cx="5.4" cy="-0.3" rx="2.5" ry="1.4" transform="rotate(84 5.4 -0.3)" fill="#d7d3c5" opacity="0.55"/>
<ellipse cx="-17.2" cy="-3.0" rx="1.6" ry="1.0" transform="rotate(104 -17.2 -3.0)" fill="#d2cebe" opacity="0.55"/>
<ellipse cx="-5.6" cy="-9.6" rx="2.3" ry="1.4" transform="rotate(91 -5.6 -9.6)" fill="#d9d5c7" opacity="0.55"/>
<ellipse cx="4.7" cy="-13.4" rx="1.5" ry="1.2" transform="rotate(162 4.7 -13.4)" fill="#d4d0c0" opacity="0.55"/>
<ellipse cx="-13.0" cy="0.1" rx="1.6" ry="0.6" transform="rotate(98 -13.0 0.1)" fill="#d4d0c1" opacity="0.55"/>
<ellipse cx="-8" cy="0" rx="3" ry="3.5" fill="#c4a868" opacity="1"/>
<ellipse cx="11" cy="2" rx="3" ry="3" fill="#c8ac70" opacity="1"/>
<path d="M-12 -10 Q-8 -4 -12 2 Q-10 8 -6 12" fill="none" stroke="#6a7890" stroke-width="1" opacity="0.8"/>
<path d="M2 -14 Q4 -8 0 -4 Q6 0 2 4" fill="none" stroke="#6a7890" stroke-width="1" opacity="0.8"/>
<ellipse cx="2" cy="-9" rx="5" ry="3" fill="#e8e8e6" opacity="0.6"/>
</g></g>
<ellipse cx="383.50" cy="93.25" rx="19.2" ry="16.9" fill="none" stroke="#8e968c" stroke-width="1.1" opacity="0.9"/>
</g>
<clipPath id="c1_0"><rect x="317.2" y="111.00" width="41.6" height="36.50"/></clipPath>
<clipPath id="c1_0d"><ellipse cx="338.00" cy="129.25" rx="19.7" ry="17.4"/></clipPath>
<g clip-path="url(#c1_0)">
<rect x="317.2" y="111.00" width="41.6" height="36.50" fill="#403848"/>
<ellipse cx="338.00" cy="129.25" rx="19.7" ry="17.4" fill="#d0cec4"/>
<g clip-path="url(#c1_0d)"><g transform="translate(338.00,129.25)">
<ellipse cx="-4.4" cy="2.6" rx="1.1" ry="1.6" transform="rotate(53 -4.4 2.6)" fill="#d8d6ce" opacity="0.55"/>
<ellipse cx="5.3" cy="-5.8" rx="1.5" ry="1.7" transform="rotate(36 5.3 -5.8)" fill="#d7d6ce" opacity="0.55"/>
<ellipse cx="3.6" cy="6.5" rx="2.2" ry="1.1" transform="rotate(179 3.6 6.5)" fill="#d5d3ca" opacity="0.55"/>
<ellipse cx="9.9" cy="-4.1" rx="2.4" ry="1.0" transform="rotate(67 9.9 -4.1)" fill="#cdcbc1" opacity="0.55"/>
<ellipse cx="7.2" cy="-0.1" rx="2.4" ry="0.8" transform="rotate(58 7.2 -0.1)" fill="#a8a69e" opacity="0.55"/>
<ellipse cx="17.6" cy="-2.6" rx="2.3" ry="0.7" transform="rotate(73 17.6 -2.6)" fill="#d1cfc6" opacity="0.55"/>
<ellipse cx="7.2" cy="10.9" rx="0.9" ry="1.0" transform="rotate(126 7.2 10.9)" fill="#c0bfb5" opacity="0.55"/>
<ellipse cx="-6.7" cy="7.6" rx="1.1" ry="1.0" transform="rotate(131 -6.7 7.6)" fill="#d4d2ca" opacity="0.55"/>
<ellipse cx="0.9" cy="4.5" rx="1.8" ry="1.2" transform="rotate(173 0.9 4.5)" fill="#d4d2c9" opacity="0.55"/>
<ellipse cx="1.2" cy="2.5" rx="1.4" ry="1.5" transform="rotate(138 1.2 2.5)" fill="#d2d0c6" opacity="0.55"/>
<ellipse cx="-12.7" cy="-9.9" rx="1.9" ry="1.1" transform="rotate(37 -12.7 -9.9)" fill="#d3d1c8" opacity="0.55"/>
<ellipse cx="-13.4" cy="-3.9" rx="1.6" ry="1.2" transform="rotate(94 -13.4 -3.9)" fill="#a6a59d" opacity="0.55"/>
<ellipse cx="-0.5" cy="-4.8" rx="1.7" ry="1.6" transform="rotate(4 -0.5 -4.8)" fill="#c9c7bd" opacity="0.55"/>
<ellipse cx="-4.3" cy="-3.5" rx="1.8" ry="1.0" transform="rotate(88 -4.3 -3.5)" fill="#bfbdb4" opacity="0.55"/>
<ellipse cx="-7.0" cy="-4.9" rx="2.2" ry="0.6" transform="rotate(55 -7.0 -4.9)" fill="#d3d1c8" opacity="0.55"/>
<ellipse cx="6.1" cy="3.0" rx="2.0" ry="0.9" transform="rotate(61 6.1 3.0)" fill="#cfcdc3" opacity="0.55"/>
<ellipse cx="-4.4" cy="-9.1" rx="2.6" ry="0.9" transform="rotate(3 -4.4 -9.1)" fill="#d7d5cc" opacity="0.55"/>
<ellipse cx="-2.4" cy="7.5" rx="1.1" ry="0.9" transform="rotate(140 -2.4 7.5)" fill="#d6d5cc" opacity="0.55"/>
<ellipse cx="11.5" cy="-1.5" rx="1.7" ry="1.4" transform="rotate(141 11.5 -1.5)" fill="#d3d1c8" opacity="0.55"/>
<ellipse cx="8.0" cy="12.2" rx="1.7" ry="1.6" transform="rotate(51 8.0 12.2)" fill="#d7d5cd" opacity="0.55"/>
<ellipse cx="-12.0" cy="4.1" rx="1.2" ry="1.4" transform="rotate(18 -12.0 4.1)" fill="#b8b7ae" opacity="0.55"/>
<ellipse cx="-8.5" cy="3.6" rx="1.3" ry="1.6" transform="rotate(50 -8.5 3.6)" fill="#aaa8a0" opacity="0.55"/>
<ellipse cx="5.2" cy="-9.3" rx="1.2" ry="1.4" transform="rotate(99 5.2 -9.3)" fill="#a4a29b" opacity="0.55"/>
<ellipse cx="7.3" cy="-2.4" rx="1.6" ry="1.5" transform="rotate(20 7.3 -2.4)" fill="#d7d6ce" opacity="0.55"/>
<ellipse cx="-11.8" cy="-12.0" rx="1.9" ry="1.0" transform="rotate(126 -11.8 -12.0)" fill="#c4c2b9" opacity="0.55"/>
<ellipse cx="-6.9" cy="-14.5" rx="1.6" ry="0.9" transform="rotate(161 -6.9 -14.5)" fill="#d7d5cc" opacity="0.55"/>
<ellipse cx="5.5" cy="-2.3" rx="1.0" ry="1.5" transform="rotate(12 5.5 -2.3)" fill="#d1cfc6" opacity="0.55"/>
<ellipse cx="5.1" cy="15.0" rx="1.6" ry="1.0" transform="rotate(160 5.1 15.0)" fill="#c1bfb6" opacity="0.55"/>
<ellipse cx="-6.2" cy="13.1" rx="1.8" ry="0.9" transform="rotate(169 -6.2 13.1)" fill="#cccac0" opacity="0.55"/>
<ellipse cx="-3.8" cy="10.4" rx="2.1" ry="1.3" transform="rotate(90 -3.8 10.4)" fill="#acaaa2" opacity="0.55"/>
<ellipse cx="0" cy="1" rx="11.5" ry="9.5" fill="#f2f2ee" opacity="1"/>
<ellipse cx="9" cy="2" rx="3" ry="3" fill="#f0f0ec" opacity="1"/>
<ellipse cx="0" cy="1" rx="4.6" ry="4.2" fill="#4a4430" opacity="1"/>
<path d="M-13 -8 Q-15 0 -11 4 Q-9 8 -7 13" fill="none" stroke="#8a8260" stroke-width="1.2" opacity="0.8"/>
</g></g>
<ellipse cx="338.00" cy="129.25" rx="19.2" ry="16.9" fill="none" stroke="#8e968c" stroke-width="1.1" opacity="0.9"/>
</g>
<clipPath id="c1_1"><rect x="362.8" y="111.00" width="41.4" height="36.50"/></clipPath>
<clipPath id="c1_1d"><ellipse cx="383.50" cy="129.25" rx="19.7" ry="17.4"/></clipPath>
<g clip-path="url(#c1_1)">
<rect x="362.8" y="111.00" width="41.4" height="36.50" fill="#4a4450"/>
<ellipse cx="383.50" cy="129.25" rx="19.7" ry="17.4" fill="#d0c8b0"/>
<g clip-path="url(#c1_1d)"><g transform="translate(383.50,129.25)">
<ellipse cx="8.1" cy="5.9" rx="0.8" ry="1.2" transform="rotate(128 8.1 5.9)" fill="#bdb6a0" opacity="0.55"/>
<ellipse cx="-1.2" cy="-13.9" rx="1.8" ry="1.8" transform="rotate(7 -1.2 -13.9)" fill="#a39c89" opacity="0.55"/>
<ellipse cx="-5.2" cy="4.1" rx="1.0" ry="1.6" transform="rotate(163 -5.2 4.1)" fill="#c4bca6" opacity="0.55"/>
<ellipse cx="3.3" cy="13.8" rx="2.1" ry="0.7" transform="rotate(6 3.3 13.8)" fill="#b2ab97" opacity="0.55"/>
<ellipse cx="-6.4" cy="14.0" rx="1.6" ry="0.8" transform="rotate(66 -6.4 14.0)" fill="#c4bda6" opacity="0.55"/>
<ellipse cx="-8.7" cy="-2.1" rx="1.3" ry="1.5" transform="rotate(2 -8.7 -2.1)" fill="#d2cab3" opacity="0.55"/>
<ellipse cx="-2.8" cy="-3.6" rx="0.9" ry="0.7" transform="rotate(142 -2.8 -3.6)" fill="#bbb49e" opacity="0.55"/>
<ellipse cx="-0.4" cy="5.1" rx="1.2" ry="1.3" transform="rotate(104 -0.4 5.1)" fill="#bdb6a0" opacity="0.55"/>
<ellipse cx="-15.7" cy="-1.1" rx="2.5" ry="0.7" transform="rotate(16 -15.7 -1.1)" fill="#d6cfba" opacity="0.55"/>
<ellipse cx="3.8" cy="11.2" rx="1.6" ry="1.0" transform="rotate(95 3.8 11.2)" fill="#a6a08d" opacity="0.55"/>
<ellipse cx="-4.7" cy="-15.7" rx="2.5" ry="1.4" transform="rotate(125 -4.7 -15.7)" fill="#aea793" opacity="0.55"/>
<ellipse cx="-4.3" cy="7.0" rx="2.3" ry="1.0" transform="rotate(155 -4.3 7.0)" fill="#d0c8b0" opacity="0.55"/>
<ellipse cx="5.5" cy="12.4" rx="1.3" ry="1.4" transform="rotate(26 5.5 12.4)" fill="#d6cfba" opacity="0.55"/>
<ellipse cx="-9.8" cy="1.0" rx="1.7" ry="1.1" transform="rotate(26 -9.8 1.0)" fill="#b1aa96" opacity="0.55"/>
<ellipse cx="7.8" cy="0.4" rx="1.9" ry="1.1" transform="rotate(54 7.8 0.4)" fill="#d8d1bd" opacity="0.55"/>
<ellipse cx="5.3" cy="0.9" rx="2.3" ry="1.2" transform="rotate(16 5.3 0.9)" fill="#d3ccb6" opacity="0.55"/>
<ellipse cx="16.1" cy="-2.2" rx="2.2" ry="1.0" transform="rotate(95 16.1 -2.2)" fill="#b3ad98" opacity="0.55"/>
<ellipse cx="-8.6" cy="2.5" rx="1.2" ry="1.1" transform="rotate(111 -8.6 2.5)" fill="#d3cbb5" opacity="0.55"/>
<ellipse cx="1.7" cy="-8.8" rx="2.4" ry="1.1" transform="rotate(61 1.7 -8.8)" fill="#d7d0bb" opacity="0.55"/>
<ellipse cx="3.9" cy="-4.1" rx="1.9" ry="1.0" transform="rotate(79 3.9 -4.1)" fill="#bdb59f" opacity="0.55"/>
<ellipse cx="11.6" cy="-4.2" rx="1.9" ry="1.5" transform="rotate(179 11.6 -4.2)" fill="#c5bda7" opacity="0.55"/>
<ellipse cx="12.0" cy="-0.1" rx="1.9" ry="0.8" transform="rotate(156 12.0 -0.1)" fill="#afa894" opacity="0.55"/>
<ellipse cx="17.6" cy="-4.4" rx="0.9" ry="1.2" transform="rotate(26 17.6 -4.4)" fill="#c0b9a3" opacity="0.55"/>
<ellipse cx="-8.4" cy="-2.3" rx="1.3" ry="1.7" transform="rotate(103 -8.4 -2.3)" fill="#d6cfba" opacity="0.55"/>
<ellipse cx="-16.8" cy="4.8" rx="1.7" ry="0.7" transform="rotate(34 -16.8 4.8)" fill="#d2cbb4" opacity="0.55"/>
<ellipse cx="3.4" cy="1.4" rx="1.4" ry="1.0" transform="rotate(46 3.4 1.4)" fill="#a29c89" opacity="0.55"/>
<ellipse cx="-0.6" cy="11.0" rx="2.5" ry="1.3" transform="rotate(39 -0.6 11.0)" fill="#d0c9b1" opacity="0.55"/>
<ellipse cx="-2.5" cy="15.5" rx="2.4" ry="1.2" transform="rotate(157 -2.5 15.5)" fill="#d5cdb8" opacity="0.55"/>
<ellipse cx="12.4" cy="0.8" rx="2.3" ry="1.5" transform="rotate(94 12.4 0.8)" fill="#b3ac97" opacity="0.55"/>
<ellipse cx="0.7" cy="-0.9" rx="1.8" ry="1.5" transform="rotate(115 0.7 -0.9)" fill="#ada793" opacity="0.55"/>
<ellipse cx="-10" cy="1" rx="3.6" ry="3.6" fill="#c8a868" opacity="1"/>
<ellipse cx="4" cy="3" rx="9" ry="7" fill="#e2e2de" opacity="0.8"/>
<ellipse cx="-3" cy="-9" rx="5" ry="3" fill="#d8d0b8" opacity="0.8"/>
<path d="M-8 -12 Q0 -14 4 -10 Q8 -12 8 -6" fill="none" stroke="#6a7890" stroke-width="1" opacity="0.7"/>
<path d="M-4 6 Q-6 10 -2 14" fill="none" stroke="#6a7890" stroke-width="1" opacity="0.6"/>
</g></g>
<ellipse cx="383.50" cy="129.25" rx="19.2" ry="16.9" fill="none" stroke="#8e968c" stroke-width="1.1" opacity="0.9"/>
</g>
<clipPath id="c2_0"><rect x="317.2" y="147.00" width="41.6" height="36.40"/></clipPath>
<clipPath id="c2_0d"><ellipse cx="338.00" cy="165.20" rx="19.7" ry="17.4"/></clipPath>
<g clip-path="url(#c2_0)">
<rect x="317.2" y="147.00" width="41.6" height="36.40" fill="#3e3a44"/>
<ellipse cx="338.00" cy="165.20" rx="19.7" ry="17.4" fill="#c4bca4"/>
<g clip-path="url(#c2_0d)"><g transform="translate(338.00,165.20)">
<ellipse cx="16.8" cy="2.8" rx="2.1" ry="1.3" transform="rotate(75 16.8 2.8)" fill="#c5bda6" opacity="0.55"/>
<ellipse cx="9.3" cy="-6.4" rx="2.3" ry="1.7" transform="rotate(85 9.3 -6.4)" fill="#b3ac96" opacity="0.55"/>
<ellipse cx="5.4" cy="2.0" rx="1.4" ry="1.1" transform="rotate(66 5.4 2.0)" fill="#ada690" opacity="0.55"/>
<ellipse cx="16.0" cy="-0.0" rx="2.1" ry="1.1" transform="rotate(65 16.0 -0.0)" fill="#c9c1ab" opacity="0.55"/>
<ellipse cx="-16.8" cy="-6.6" rx="1.8" ry="1.6" transform="rotate(70 -16.8 -6.6)" fill="#c5bda6" opacity="0.55"/>
<ellipse cx="11.6" cy="-4.5" rx="1.5" ry="1.1" transform="rotate(78 11.6 -4.5)" fill="#cdc6b2" opacity="0.55"/>
<ellipse cx="-3.8" cy="-8.6" rx="1.9" ry="1.7" transform="rotate(149 -3.8 -8.6)" fill="#cdc7b3" opacity="0.55"/>
<ellipse cx="-7.7" cy="-13.2" rx="2.2" ry="1.0" transform="rotate(112 -7.7 -13.2)" fill="#b5ae98" opacity="0.55"/>
<ellipse cx="3.4" cy="-15.9" rx="2.5" ry="1.3" transform="rotate(178 3.4 -15.9)" fill="#c6bfa8" opacity="0.55"/>
<ellipse cx="0.6" cy="-2.8" rx="1.3" ry="1.5" transform="rotate(169 0.6 -2.8)" fill="#b7b099" opacity="0.55"/>
<ellipse cx="8.3" cy="0.7" rx="2.4" ry="0.7" transform="rotate(22 8.3 0.7)" fill="#c8c1ab" opacity="0.55"/>
<ellipse cx="15.3" cy="0.6" rx="1.1" ry="1.3" transform="rotate(45 15.3 0.6)" fill="#cbc4af" opacity="0.55"/>
<ellipse cx="-14.4" cy="5.4" rx="1.0" ry="1.5" transform="rotate(89 -14.4 5.4)" fill="#c3bba3" opacity="0.55"/>
<ellipse cx="-11.9" cy="-1.6" rx="1.9" ry="0.8" transform="rotate(89 -11.9 -1.6)" fill="#c5bda5" opacity="0.55"/>
<ellipse cx="0.1" cy="-3.0" rx="1.8" ry="1.0" transform="rotate(92 0.1 -3.0)" fill="#b0a994" opacity="0.55"/>
<ellipse cx="6.8" cy="-3.8" rx="2.1" ry="0.6" transform="rotate(109 6.8 -3.8)" fill="#cac3ae" opacity="0.55"/>
<ellipse cx="-10.4" cy="-6.1" rx="1.3" ry="1.2" transform="rotate(138 -10.4 -6.1)" fill="#b0a893" opacity="0.55"/>
<ellipse cx="14.7" cy="-1.4" rx="1.3" ry="1.7" transform="rotate(9 14.7 -1.4)" fill="#999380" opacity="0.55"/>
<ellipse cx="4.0" cy="8.2" rx="2.6" ry="1.3" transform="rotate(137 4.0 8.2)" fill="#aba48f" opacity="0.55"/>
<ellipse cx="-13.2" cy="-8.6" rx="1.4" ry="1.7" transform="rotate(165 -13.2 -8.6)" fill="#aea792" opacity="0.55"/>
<ellipse cx="-3.3" cy="5.3" rx="2.1" ry="0.6" transform="rotate(40 -3.3 5.3)" fill="#c0b8a0" opacity="0.55"/>
<ellipse cx="5.5" cy="11.7" rx="1.8" ry="1.1" transform="rotate(31 5.5 11.7)" fill="#c6bea7" opacity="0.55"/>
<ellipse cx="-12.5" cy="8.8" rx="1.4" ry="1.6" transform="rotate(65 -12.5 8.8)" fill="#9d9683" opacity="0.55"/>
<ellipse cx="-4.9" cy="-9.7" rx="1.2" ry="0.6" transform="rotate(140 -4.9 -9.7)" fill="#999380" opacity="0.55"/>
<ellipse cx="11.9" cy="4.0" rx="2.6" ry="1.1" transform="rotate(19 11.9 4.0)" fill="#c7bfa9" opacity="0.55"/>
<ellipse cx="5.4" cy="-0.3" rx="2.5" ry="1.4" transform="rotate(84 5.4 -0.3)" fill="#c8c1ab" opacity="0.55"/>
<ellipse cx="-17.2" cy="-3.0" rx="1.6" ry="1.0" transform="rotate(104 -17.2 -3.0)" fill="#c2baa2" opacity="0.55"/>
<ellipse cx="-5.6" cy="-9.6" rx="2.3" ry="1.4" transform="rotate(91 -5.6 -9.6)" fill="#cbc4af" opacity="0.55"/>
<ellipse cx="4.7" cy="-13.4" rx="1.5" ry="1.2" transform="rotate(162 4.7 -13.4)" fill="#c4bca4" opacity="0.55"/>
<ellipse cx="-13.0" cy="0.1" rx="1.6" ry="0.6" transform="rotate(98 -13.0 0.1)" fill="#c5bda5" opacity="0.55"/>
<ellipse cx="0" cy="0" rx="16.5" ry="14.5" fill="#dcdad0" opacity="1"/>
<ellipse cx="0" cy="0" rx="9" ry="7.5" fill="#eaeae6" opacity="0.9"/>
<ellipse cx="0" cy="0" rx="2.5" ry="2" fill="#a89070" opacity="0.9"/>
</g></g>
<ellipse cx="338.00" cy="165.20" rx="19.2" ry="16.9" fill="none" stroke="#8e968c" stroke-width="1.1" opacity="0.9"/>
</g>
<clipPath id="c2_1"><rect x="362.8" y="147.00" width="41.4" height="36.40"/></clipPath>
<clipPath id="c2_1d"><ellipse cx="383.50" cy="165.20" rx="19.7" ry="17.4"/></clipPath>
<g clip-path="url(#c2_1)">
<rect x="362.8" y="147.00" width="41.4" height="36.40" fill="#3a3840"/>
<ellipse cx="383.50" cy="165.20" rx="19.7" ry="17.4" fill="#e0dcd0"/>
<g clip-path="url(#c2_1d)"><g transform="translate(383.50,165.20)">
<ellipse cx="-13.1" cy="-9.8" rx="2.2" ry="1.2" transform="rotate(98 -13.1 -9.8)" fill="#bab7ad" opacity="0.55"/>
<ellipse cx="15.8" cy="-1.2" rx="1.4" ry="1.5" transform="rotate(24 15.8 -1.2)" fill="#dedace" opacity="0.55"/>
<ellipse cx="-9.5" cy="7.0" rx="1.7" ry="1.4" transform="rotate(48 -9.5 7.0)" fill="#e3dfd5" opacity="0.55"/>
<ellipse cx="-9.1" cy="-11.2" rx="2.4" ry="1.7" transform="rotate(84 -9.1 -11.2)" fill="#e4e1d6" opacity="0.55"/>
<ellipse cx="-1.2" cy="6.0" rx="1.8" ry="1.6" transform="rotate(59 -1.2 6.0)" fill="#b6b3a9" opacity="0.55"/>
<ellipse cx="-10.7" cy="-13.1" rx="1.2" ry="1.3" transform="rotate(26 -10.7 -13.1)" fill="#e0dcd0" opacity="0.55"/>
<ellipse cx="3.0" cy="-11.2" rx="1.0" ry="0.6" transform="rotate(80 3.0 -11.2)" fill="#d8d4c9" opacity="0.55"/>
<ellipse cx="17.0" cy="4.7" rx="1.4" ry="1.5" transform="rotate(30 17.0 4.7)" fill="#e1ddd2" opacity="0.55"/>
<ellipse cx="-10.8" cy="-3.5" rx="1.6" ry="0.6" transform="rotate(81 -10.8 -3.5)" fill="#d2cec3" opacity="0.55"/>
<ellipse cx="-4.8" cy="-1.1" rx="2.1" ry="1.8" transform="rotate(22 -4.8 -1.1)" fill="#b8b5ab" opacity="0.55"/>
<ellipse cx="3.1" cy="9.0" rx="1.9" ry="1.7" transform="rotate(173 3.1 9.0)" fill="#d6d2c7" opacity="0.55"/>
<ellipse cx="1.5" cy="-10.7" rx="1.5" ry="0.9" transform="rotate(18 1.5 -10.7)" fill="#b0ada3" opacity="0.55"/>
<ellipse cx="8.4" cy="5.6" rx="1.2" ry="0.8" transform="rotate(40 8.4 5.6)" fill="#e3dfd5" opacity="0.55"/>
<ellipse cx="-12.0" cy="11.9" rx="2.0" ry="0.9" transform="rotate(119 -12.0 11.9)" fill="#e0dcd0" opacity="0.55"/>
<ellipse cx="-12.8" cy="4.7" rx="1.5" ry="1.8" transform="rotate(103 -12.8 4.7)" fill="#e5e2d8" opacity="0.55"/>
<ellipse cx="-5.8" cy="4.8" rx="1.1" ry="1.1" transform="rotate(156 -5.8 4.8)" fill="#c1beb4" opacity="0.55"/>
<ellipse cx="16.8" cy="4.3" rx="2.2" ry="0.8" transform="rotate(128 16.8 4.3)" fill="#bfbcb2" opacity="0.55"/>
<ellipse cx="13.0" cy="3.1" rx="2.3" ry="1.7" transform="rotate(147 13.0 3.1)" fill="#e3e0d5" opacity="0.55"/>
<ellipse cx="-1.4" cy="-8.6" rx="1.9" ry="1.5" transform="rotate(115 -1.4 -8.6)" fill="#c2bfb4" opacity="0.55"/>
<ellipse cx="-6.5" cy="-14.7" rx="1.6" ry="1.5" transform="rotate(55 -6.5 -14.7)" fill="#e2ded3" opacity="0.55"/>
<ellipse cx="-13.3" cy="10.3" rx="2.5" ry="1.1" transform="rotate(142 -13.3 10.3)" fill="#bab6ac" opacity="0.55"/>
<ellipse cx="-11.5" cy="5.8" rx="2.0" ry="1.6" transform="rotate(69 -11.5 5.8)" fill="#e0dcd1" opacity="0.55"/>
<ellipse cx="-1.1" cy="-7.6" rx="1.1" ry="1.5" transform="rotate(86 -1.1 -7.6)" fill="#e3dfd4" opacity="0.55"/>
<ellipse cx="-13.7" cy="9.1" rx="1.4" ry="1.6" transform="rotate(19 -13.7 9.1)" fill="#e0dcd0" opacity="0.55"/>
<ellipse cx="-3.8" cy="3.0" rx="2.1" ry="0.9" transform="rotate(149 -3.8 3.0)" fill="#c4c1b6" opacity="0.55"/>
<ellipse cx="14.6" cy="-3.0" rx="1.6" ry="1.5" transform="rotate(43 14.6 -3.0)" fill="#dcd8cc" opacity="0.55"/>
<ellipse cx="-7.2" cy="7.1" rx="1.2" ry="1.1" transform="rotate(39 -7.2 7.1)" fill="#b8b5ab" opacity="0.55"/>
<ellipse cx="6.3" cy="5.6" rx="1.9" ry="1.6" transform="rotate(148 6.3 5.6)" fill="#e5e2d8" opacity="0.55"/>
<ellipse cx="-4.5" cy="14.8" rx="0.9" ry="1.4" transform="rotate(16 -4.5 14.8)" fill="#e4e1d6" opacity="0.55"/>
<ellipse cx="-6.9" cy="-7.1" rx="1.4" ry="0.6" transform="rotate(29 -6.9 -7.1)" fill="#bdb9af" opacity="0.55"/>
<ellipse cx="-9" cy="4" rx="8" ry="8" fill="#d4c4a8" opacity="0.9"/>
<ellipse cx="-2" cy="12" rx="9" ry="4" fill="#d8c8b0" opacity="0.9"/>
<ellipse cx="-6" cy="-10" rx="8" ry="3" fill="#dccbb0" opacity="0.8"/>
<ellipse cx="-8" cy="-1" rx="3.6" ry="2.6" fill="#4e3e2c" opacity="1"/>
<ellipse cx="6" cy="-2" rx="8" ry="7" fill="#ecece8" opacity="0.6"/>
</g></g>
<ellipse cx="383.50" cy="165.20" rx="19.2" ry="16.9" fill="none" stroke="#8e968c" stroke-width="1.1" opacity="0.9"/>
</g>
<clipPath id="c3_0"><rect x="317.2" y="182.90" width="41.6" height="35.60"/></clipPath>
<clipPath id="c3_0d"><ellipse cx="338.00" cy="200.70" rx="19.7" ry="17.4"/></clipPath>
<g clip-path="url(#c3_0)">
<rect x="317.2" y="182.90" width="41.6" height="35.60" fill="#3a3530"/>
<ellipse cx="338.00" cy="200.70" rx="19.7" ry="17.4" fill="#a89a70"/>
<g clip-path="url(#c3_0d)"><g transform="translate(338.00,200.70)">
<ellipse cx="8.1" cy="5.9" rx="0.8" ry="1.2" transform="rotate(128 8.1 5.9)" fill="#998c66" opacity="0.55"/>
<ellipse cx="-1.2" cy="-13.9" rx="1.8" ry="1.8" transform="rotate(7 -1.2 -13.9)" fill="#837857" opacity="0.55"/>
<ellipse cx="-5.2" cy="4.1" rx="1.0" ry="1.6" transform="rotate(163 -5.2 4.1)" fill="#9e9169" opacity="0.55"/>
<ellipse cx="3.3" cy="13.8" rx="2.1" ry="0.7" transform="rotate(6 3.3 13.8)" fill="#908460" opacity="0.55"/>
<ellipse cx="-6.4" cy="14.0" rx="1.6" ry="0.8" transform="rotate(66 -6.4 14.0)" fill="#9e9169" opacity="0.55"/>
<ellipse cx="-8.7" cy="-2.1" rx="1.3" ry="1.5" transform="rotate(2 -8.7 -2.1)" fill="#ac9e76" opacity="0.55"/>
<ellipse cx="-2.8" cy="-3.6" rx="0.9" ry="0.7" transform="rotate(142 -2.8 -3.6)" fill="#978a64" opacity="0.55"/>
<ellipse cx="-0.4" cy="5.1" rx="1.2" ry="1.3" transform="rotate(104 -0.4 5.1)" fill="#998c66" opacity="0.55"/>
<ellipse cx="-15.7" cy="-1.1" rx="2.5" ry="0.7" transform="rotate(16 -15.7 -1.1)" fill="#b4a883" opacity="0.55"/>
<ellipse cx="3.8" cy="11.2" rx="1.6" ry="1.0" transform="rotate(95 3.8 11.2)" fill="#867b59" opacity="0.55"/>
<ellipse cx="-4.7" cy="-15.7" rx="2.5" ry="1.4" transform="rotate(125 -4.7 -15.7)" fill="#8c805d" opacity="0.55"/>
<ellipse cx="-4.3" cy="7.0" rx="2.3" ry="1.0" transform="rotate(155 -4.3 7.0)" fill="#a89a70" opacity="0.55"/>
<ellipse cx="5.5" cy="12.4" rx="1.3" ry="1.4" transform="rotate(26 5.5 12.4)" fill="#b3a782" opacity="0.55"/>
<ellipse cx="-9.8" cy="1.0" rx="1.7" ry="1.1" transform="rotate(26 -9.8 1.0)" fill="#8f835f" opacity="0.55"/>
<ellipse cx="7.8" cy="0.4" rx="1.9" ry="1.1" transform="rotate(54 7.8 0.4)" fill="#b6ab88" opacity="0.55"/>
<ellipse cx="5.3" cy="0.9" rx="2.3" ry="1.2" transform="rotate(16 5.3 0.9)" fill="#afa27b" opacity="0.55"/>
<ellipse cx="16.1" cy="-2.2" rx="2.2" ry="1.0" transform="rotate(95 16.1 -2.2)" fill="#918560" opacity="0.55"/>
<ellipse cx="-8.6" cy="2.5" rx="1.2" ry="1.1" transform="rotate(111 -8.6 2.5)" fill="#aea17a" opacity="0.55"/>
<ellipse cx="1.7" cy="-8.8" rx="2.4" ry="1.1" transform="rotate(61 1.7 -8.8)" fill="#b5a985" opacity="0.55"/>
<ellipse cx="3.9" cy="-4.1" rx="1.9" ry="1.0" transform="rotate(79 3.9 -4.1)" fill="#988b65" opacity="0.55"/>
<ellipse cx="11.6" cy="-4.2" rx="1.9" ry="1.5" transform="rotate(179 11.6 -4.2)" fill="#9f926a" opacity="0.55"/>
<ellipse cx="12.0" cy="-0.1" rx="1.9" ry="0.8" transform="rotate(156 12.0 -0.1)" fill="#8d815e" opacity="0.55"/>
<ellipse cx="17.6" cy="-4.4" rx="0.9" ry="1.2" transform="rotate(26 17.6 -4.4)" fill="#9b8e67" opacity="0.55"/>
<ellipse cx="-8.4" cy="-2.3" rx="1.3" ry="1.7" transform="rotate(103 -8.4 -2.3)" fill="#b3a783" opacity="0.55"/>
<ellipse cx="-16.8" cy="4.8" rx="1.7" ry="0.7" transform="rotate(34 -16.8 4.8)" fill="#ad9f78" opacity="0.55"/>
<ellipse cx="3.4" cy="1.4" rx="1.4" ry="1.0" transform="rotate(46 3.4 1.4)" fill="#837857" opacity="0.55"/>
<ellipse cx="-0.6" cy="11.0" rx="2.5" ry="1.3" transform="rotate(39 -0.6 11.0)" fill="#a99c72" opacity="0.55"/>
<ellipse cx="-2.5" cy="15.5" rx="2.4" ry="1.2" transform="rotate(157 -2.5 15.5)" fill="#b1a47f" opacity="0.55"/>
<ellipse cx="12.4" cy="0.8" rx="2.3" ry="1.5" transform="rotate(94 12.4 0.8)" fill="#908460" opacity="0.55"/>
<ellipse cx="0.7" cy="-0.9" rx="1.8" ry="1.5" transform="rotate(115 0.7 -0.9)" fill="#8c805d" opacity="0.55"/>
<ellipse cx="0" cy="1" rx="8.5" ry="7.5" fill="#f0f0ea" opacity="1"/>
<ellipse cx="0" cy="1" rx="4.4" ry="4" fill="#6e6858" opacity="1"/>
<ellipse cx="-12" cy="8" rx="3" ry="2" fill="#8a7e5c" opacity="0.7"/>
</g></g>
<ellipse cx="338.00" cy="200.70" rx="19.2" ry="16.9" fill="none" stroke="#8e968c" stroke-width="1.1" opacity="0.9"/>
</g>
<clipPath id="c3_1"><rect x="362.8" y="182.90" width="41.4" height="35.60"/></clipPath>
<clipPath id="c3_1d"><ellipse cx="383.50" cy="200.70" rx="19.7" ry="17.4"/></clipPath>
<g clip-path="url(#c3_1)">
<rect x="362.8" y="182.90" width="41.4" height="35.60" fill="#8c8c78"/>
<ellipse cx="383.50" cy="200.70" rx="19.7" ry="17.4" fill="#cfcfc6"/>
<g clip-path="url(#c3_1d)"><g transform="translate(383.50,200.70)">
<ellipse cx="-8.2" cy="-1.3" rx="2.0" ry="1.5" transform="rotate(154 -8.2 -1.3)" fill="#a5a59e" opacity="0.55"/>
<ellipse cx="-9.7" cy="2.3" rx="1.5" ry="1.3" transform="rotate(170 -9.7 2.3)" fill="#b4b4ac" opacity="0.55"/>
<ellipse cx="0.1" cy="-14.7" rx="2.2" ry="0.7" transform="rotate(58 0.1 -14.7)" fill="#d4d4cc" opacity="0.55"/>
<ellipse cx="14.4" cy="-3.9" rx="0.9" ry="0.9" transform="rotate(5 14.4 -3.9)" fill="#d6d6cf" opacity="0.55"/>
<ellipse cx="-12.3" cy="4.5" rx="1.8" ry="1.1" transform="rotate(48 -12.3 4.5)" fill="#bcbcb4" opacity="0.55"/>
<ellipse cx="0.2" cy="11.4" rx="1.7" ry="1.3" transform="rotate(19 0.2 11.4)" fill="#a3a39c" opacity="0.55"/>
<ellipse cx="-9.3" cy="3.0" rx="1.2" ry="0.7" transform="rotate(88 -9.3 3.0)" fill="#bdbdb5" opacity="0.55"/>
<ellipse cx="0.6" cy="5.5" rx="2.0" ry="1.5" transform="rotate(81 0.6 5.5)" fill="#c9c9c0" opacity="0.55"/>
<ellipse cx="3.8" cy="8.4" rx="1.3" ry="1.0" transform="rotate(108 3.8 8.4)" fill="#d1d1c8" opacity="0.55"/>
<ellipse cx="2.1" cy="4.1" rx="1.9" ry="0.9" transform="rotate(73 2.1 4.1)" fill="#d1d1c9" opacity="0.55"/>
<ellipse cx="-17.3" cy="-0.8" rx="2.5" ry="0.8" transform="rotate(153 -17.3 -0.8)" fill="#cbcbc2" opacity="0.55"/>
<ellipse cx="-6.6" cy="-11.1" rx="1.5" ry="1.4" transform="rotate(153 -6.6 -11.1)" fill="#d4d4cc" opacity="0.55"/>
<ellipse cx="2.9" cy="-10.5" rx="1.5" ry="1.3" transform="rotate(168 2.9 -10.5)" fill="#d7d7d0" opacity="0.55"/>
<ellipse cx="-7.9" cy="10.4" rx="1.9" ry="1.5" transform="rotate(128 -7.9 10.4)" fill="#c9c9c0" opacity="0.55"/>
<ellipse cx="-18.5" cy="-2.6" rx="1.1" ry="1.5" transform="rotate(77 -18.5 -2.6)" fill="#a5a59d" opacity="0.55"/>
<ellipse cx="3.0" cy="12.7" rx="2.3" ry="1.2" transform="rotate(163 3.0 12.7)" fill="#c5c5bc" opacity="0.55"/>
<ellipse cx="-4.2" cy="-12.2" rx="2.5" ry="1.1" transform="rotate(75 -4.2 -12.2)" fill="#b1b1aa" opacity="0.55"/>
<ellipse cx="-5.7" cy="-4.3" rx="0.8" ry="1.2" transform="rotate(169 -5.7 -4.3)" fill="#cfcfc6" opacity="0.55"/>
<ellipse cx="-2.9" cy="13.0" rx="1.3" ry="1.4" transform="rotate(113 -2.9 13.0)" fill="#d4d4cc" opacity="0.55"/>
<ellipse cx="11.2" cy="-11.4" rx="1.5" ry="1.1" transform="rotate(152 11.2 -11.4)" fill="#d2d2ca" opacity="0.55"/>
<ellipse cx="-2.3" cy="12.3" rx="2.1" ry="1.0" transform="rotate(167 -2.3 12.3)" fill="#a2a29b" opacity="0.55"/>
<ellipse cx="-18.6" cy="1.1" rx="1.1" ry="1.4" transform="rotate(99 -18.6 1.1)" fill="#d4d4cd" opacity="0.55"/>
<ellipse cx="8.7" cy="0.1" rx="2.1" ry="1.6" transform="rotate(77 8.7 0.1)" fill="#b2b2aa" opacity="0.55"/>
<ellipse cx="2.3" cy="-2.1" rx="2.6" ry="1.2" transform="rotate(37 2.3 -2.1)" fill="#d7d7cf" opacity="0.55"/>
<ellipse cx="0.8" cy="10.4" rx="1.3" ry="1.4" transform="rotate(175 0.8 10.4)" fill="#c3c3bb" opacity="0.55"/>
<ellipse cx="9.3" cy="-13.7" rx="1.7" ry="1.2" transform="rotate(38 9.3 -13.7)" fill="#a1a19a" opacity="0.55"/>
<ellipse cx="-16.6" cy="-0.3" rx="2.1" ry="0.9" transform="rotate(83 -16.6 -0.3)" fill="#d4d4cc" opacity="0.55"/>
<ellipse cx="13.0" cy="-9.4" rx="1.8" ry="1.8" transform="rotate(173 13.0 -9.4)" fill="#b4b4ac" opacity="0.55"/>
<ellipse cx="-7.2" cy="-6.0" rx="2.0" ry="1.3" transform="rotate(122 -7.2 -6.0)" fill="#b4b4ac" opacity="0.55"/>
<ellipse cx="-11.8" cy="-7.2" rx="1.1" ry="0.6" transform="rotate(156 -11.8 -7.2)" fill="#c3c3ba" opacity="0.55"/>
<path d="M4 -17 Q1 -8 3 0 Q0 8 4 17 L21 17 L21 -17 Z" fill="#a89e74" opacity="1"/>
<ellipse cx="13" cy="0" rx="6" ry="5.5" fill="#2e2e28" opacity="1"/>
<ellipse cx="-9" cy="0" rx="3" ry="1.6" fill="#4a3a28" opacity="1"/>
</g></g>
<ellipse cx="383.50" cy="200.70" rx="19.2" ry="16.9" fill="none" stroke="#8e968c" stroke-width="1.1" opacity="0.9"/>
</g>
<clipPath id="c4_0"><rect x="317.2" y="218.00" width="41.6" height="35.50"/></clipPath>
<clipPath id="c4_0d"><ellipse cx="338.00" cy="235.75" rx="19.7" ry="17.4"/></clipPath>
<g clip-path="url(#c4_0)">
<rect x="317.2" y="218.00" width="41.6" height="35.50" fill="#7e7a8a"/>
<ellipse cx="338.00" cy="235.75" rx="19.7" ry="17.4" fill="#e0e0dc"/>
<g clip-path="url(#c4_0d)"><g transform="translate(338.00,235.75)">
<ellipse cx="-13.1" cy="-9.8" rx="2.2" ry="1.2" transform="rotate(98 -13.1 -9.8)" fill="#babab7" opacity="0.55"/>
<ellipse cx="15.8" cy="-1.2" rx="1.4" ry="1.5" transform="rotate(24 15.8 -1.2)" fill="#dededa" opacity="0.55"/>
<ellipse cx="-9.5" cy="7.0" rx="1.7" ry="1.4" transform="rotate(48 -9.5 7.0)" fill="#e3e3df" opacity="0.55"/>
<ellipse cx="-9.1" cy="-11.2" rx="2.4" ry="1.7" transform="rotate(84 -9.1 -11.2)" fill="#e4e4e1" opacity="0.55"/>
<ellipse cx="-1.2" cy="6.0" rx="1.8" ry="1.6" transform="rotate(59 -1.2 6.0)" fill="#b6b6b3" opacity="0.55"/>
<ellipse cx="-10.7" cy="-13.1" rx="1.2" ry="1.3" transform="rotate(26 -10.7 -13.1)" fill="#e0e0dc" opacity="0.55"/>
<ellipse cx="3.0" cy="-11.2" rx="1.0" ry="0.6" transform="rotate(80 3.0 -11.2)" fill="#d8d8d4" opacity="0.55"/>
<ellipse cx="17.0" cy="4.7" rx="1.4" ry="1.5" transform="rotate(30 17.0 4.7)" fill="#e1e1dd" opacity="0.55"/>
<ellipse cx="-10.8" cy="-3.5" rx="1.6" ry="0.6" transform="rotate(81 -10.8 -3.5)" fill="#d2d2ce" opacity="0.55"/>
<ellipse cx="-4.8" cy="-1.1" rx="2.1" ry="1.8" transform="rotate(22 -4.8 -1.1)" fill="#b8b8b5" opacity="0.55"/>
<ellipse cx="3.1" cy="9.0" rx="1.9" ry="1.7" transform="rotate(173 3.1 9.0)" fill="#d6d6d2" opacity="0.55"/>
<ellipse cx="1.5" cy="-10.7" rx="1.5" ry="0.9" transform="rotate(18 1.5 -10.7)" fill="#b0b0ad" opacity="0.55"/>
<ellipse cx="8.4" cy="5.6" rx="1.2" ry="0.8" transform="rotate(40 8.4 5.6)" fill="#e3e3df" opacity="0.55"/>
<ellipse cx="-12.0" cy="11.9" rx="2.0" ry="0.9" transform="rotate(119 -12.0 11.9)" fill="#e0e0dc" opacity="0.55"/>
<ellipse cx="-12.8" cy="4.7" rx="1.5" ry="1.8" transform="rotate(103 -12.8 4.7)" fill="#e5e5e2" opacity="0.55"/>
<ellipse cx="-5.8" cy="4.8" rx="1.1" ry="1.1" transform="rotate(156 -5.8 4.8)" fill="#c1c1be" opacity="0.55"/>
<ellipse cx="16.8" cy="4.3" rx="2.2" ry="0.8" transform="rotate(128 16.8 4.3)" fill="#bfbfbc" opacity="0.55"/>
<ellipse cx="13.0" cy="3.1" rx="2.3" ry="1.7" transform="rotate(147 13.0 3.1)" fill="#e3e3e0" opacity="0.55"/>
<ellipse cx="-1.4" cy="-8.6" rx="1.9" ry="1.5" transform="rotate(115 -1.4 -8.6)" fill="#c2c2bf" opacity="0.55"/>
<ellipse cx="-6.5" cy="-14.7" rx="1.6" ry="1.5" transform="rotate(55 -6.5 -14.7)" fill="#e2e2de" opacity="0.55"/>
<ellipse cx="-13.3" cy="10.3" rx="2.5" ry="1.1" transform="rotate(142 -13.3 10.3)" fill="#babab6" opacity="0.55"/>
<ellipse cx="-11.5" cy="5.8" rx="2.0" ry="1.6" transform="rotate(69 -11.5 5.8)" fill="#e0e0dc" opacity="0.55"/>
<ellipse cx="-1.1" cy="-7.6" rx="1.1" ry="1.5" transform="rotate(86 -1.1 -7.6)" fill="#e3e3df" opacity="0.55"/>
<ellipse cx="-13.7" cy="9.1" rx="1.4" ry="1.6" transform="rotate(19 -13.7 9.1)" fill="#e0e0dc" opacity="0.55"/>
<ellipse cx="-3.8" cy="3.0" rx="2.1" ry="0.9" transform="rotate(149 -3.8 3.0)" fill="#c4c4c1" opacity="0.55"/>
<ellipse cx="14.6" cy="-3.0" rx="1.6" ry="1.5" transform="rotate(43 14.6 -3.0)" fill="#dcdcd8" opacity="0.55"/>
<ellipse cx="-7.2" cy="7.1" rx="1.2" ry="1.1" transform="rotate(39 -7.2 7.1)" fill="#b8b8b5" opacity="0.55"/>
<ellipse cx="6.3" cy="5.6" rx="1.9" ry="1.6" transform="rotate(148 6.3 5.6)" fill="#e5e5e2" opacity="0.55"/>
<ellipse cx="-4.5" cy="14.8" rx="0.9" ry="1.4" transform="rotate(16 -4.5 14.8)" fill="#e4e4e1" opacity="0.55"/>
<ellipse cx="-6.9" cy="-7.1" rx="1.4" ry="0.6" transform="rotate(29 -6.9 -7.1)" fill="#bdbdb9" opacity="0.55"/>
<path d="M-10 -10 Q-2 -16 8 -13 Q17 -8 16 2 Q16 12 6 14 Q-4 16 -9 9 Q-14 2 -12 -4 Z" fill="#6a6760" opacity="0.95"/>
<ellipse cx="0" cy="-2" rx="3.4" ry="2.2" fill="#ececec" opacity="0.95"/>
<ellipse cx="6" cy="-3" rx="2" ry="3" fill="#e4e4e4" opacity="0.9"/>
<ellipse cx="-8" cy="-6" rx="2.6" ry="2.4" fill="#66625c" opacity="0.9"/>
<ellipse cx="-4" cy="1" rx="2" ry="2" fill="#e8e8e8" opacity="0.9"/>
<ellipse cx="2" cy="1" rx="2.2" ry="2.2" fill="#8a7858" opacity="1"/>
<ellipse cx="-14" cy="-3" rx="2" ry="2" fill="#5e5a54" opacity="0.9"/>
</g></g>
<ellipse cx="338.00" cy="235.75" rx="19.2" ry="16.9" fill="none" stroke="#8e968c" stroke-width="1.1" opacity="0.9"/>
</g>
<clipPath id="c4_1"><rect x="362.8" y="218.00" width="41.4" height="35.50"/></clipPath>
<clipPath id="c4_1d"><ellipse cx="383.50" cy="235.75" rx="19.7" ry="17.4"/></clipPath>
<g clip-path="url(#c4_1)">
<rect x="362.8" y="218.00" width="41.4" height="35.50" fill="#34322c"/>
<ellipse cx="383.50" cy="235.75" rx="19.7" ry="17.4" fill="#d8d4bc"/>
<g clip-path="url(#c4_1d)"><g transform="translate(383.50,235.75)">
<ellipse cx="-11.1" cy="8.3" rx="1.8" ry="1.1" transform="rotate(47 -11.1 8.3)" fill="#dddac6" opacity="0.55"/>
<ellipse cx="-7.8" cy="-8.4" rx="2.1" ry="1.0" transform="rotate(28 -7.8 -8.4)" fill="#d1cdb6" opacity="0.55"/>
<ellipse cx="3.4" cy="12.8" rx="0.8" ry="0.8" transform="rotate(53 3.4 12.8)" fill="#b1ae9a" opacity="0.55"/>
<ellipse cx="15.4" cy="-1.1" rx="1.4" ry="1.5" transform="rotate(50 15.4 -1.1)" fill="#c6c3ad" opacity="0.55"/>
<ellipse cx="-7.2" cy="-6.2" rx="1.7" ry="1.3" transform="rotate(114 -7.2 -6.2)" fill="#dad6bf" opacity="0.55"/>
<ellipse cx="14.3" cy="6.5" rx="1.3" ry="0.6" transform="rotate(122 14.3 6.5)" fill="#d8d4bd" opacity="0.55"/>
<ellipse cx="-0.9" cy="15.7" rx="1.3" ry="0.9" transform="rotate(8 -0.9 15.7)" fill="#bebba5" opacity="0.55"/>
<ellipse cx="-5.6" cy="-13.2" rx="1.9" ry="0.7" transform="rotate(10 -5.6 -13.2)" fill="#b8b5a0" opacity="0.55"/>
<ellipse cx="2.7" cy="7.9" rx="1.6" ry="1.6" transform="rotate(2 2.7 7.9)" fill="#dddac6" opacity="0.55"/>
<ellipse cx="14.3" cy="-4.5" rx="1.6" ry="1.1" transform="rotate(97 14.3 -4.5)" fill="#d6d2ba" opacity="0.55"/>
<ellipse cx="5.4" cy="11.0" rx="1.9" ry="1.3" transform="rotate(92 5.4 11.0)" fill="#d2ceb6" opacity="0.55"/>
<ellipse cx="4.0" cy="3.4" rx="1.7" ry="0.7" transform="rotate(176 4.0 3.4)" fill="#d8d5bd" opacity="0.55"/>
<ellipse cx="4.5" cy="-9.4" rx="2.0" ry="1.1" transform="rotate(48 4.5 -9.4)" fill="#bfbba6" opacity="0.55"/>
<ellipse cx="9.2" cy="5.8" rx="1.3" ry="1.1" transform="rotate(123 9.2 5.8)" fill="#d0ccb5" opacity="0.55"/>
<ellipse cx="11.9" cy="10.8" rx="0.8" ry="1.0" transform="rotate(69 11.9 10.8)" fill="#dedac6" opacity="0.55"/>
<ellipse cx="-7.1" cy="-0.2" rx="0.8" ry="0.8" transform="rotate(120 -7.1 -0.2)" fill="#c3bfa9" opacity="0.55"/>
<ellipse cx="-4.0" cy="6.8" rx="1.4" ry="1.7" transform="rotate(42 -4.0 6.8)" fill="#d9d5be" opacity="0.55"/>
<ellipse cx="-5.2" cy="1.2" rx="2.2" ry="1.2" transform="rotate(5 -5.2 1.2)" fill="#b9b6a1" opacity="0.55"/>
<ellipse cx="-9.9" cy="9.7" rx="1.5" ry="1.4" transform="rotate(178 -9.9 9.7)" fill="#bfbca6" opacity="0.55"/>
<ellipse cx="-2.8" cy="7.1" rx="0.8" ry="1.8" transform="rotate(130 -2.8 7.1)" fill="#dedbc6" opacity="0.55"/>
<ellipse cx="1.7" cy="-1.8" rx="1.2" ry="0.7" transform="rotate(1 1.7 -1.8)" fill="#dddac5" opacity="0.55"/>
<ellipse cx="-0.1" cy="-2.8" rx="2.2" ry="0.8" transform="rotate(174 -0.1 -2.8)" fill="#afab98" opacity="0.55"/>
<ellipse cx="0.7" cy="6.3" rx="1.2" ry="1.8" transform="rotate(23 0.7 6.3)" fill="#dddac5" opacity="0.55"/>
<ellipse cx="4.6" cy="-7.4" rx="2.2" ry="1.3" transform="rotate(137 4.6 -7.4)" fill="#b1ae9a" opacity="0.55"/>
<ellipse cx="9.7" cy="-8.1" rx="2.1" ry="1.5" transform="rotate(154 9.7 -8.1)" fill="#d9d6bf" opacity="0.55"/>
<ellipse cx="4.8" cy="-6.7" rx="2.5" ry="0.9" transform="rotate(8 4.8 -6.7)" fill="#dedac6" opacity="0.55"/>
<ellipse cx="1.9" cy="-0.6" rx="0.8" ry="1.6" transform="rotate(45 1.9 -0.6)" fill="#c4c0aa" opacity="0.55"/>
<ellipse cx="13.5" cy="-10.4" rx="2.1" ry="1.1" transform="rotate(12 13.5 -10.4)" fill="#d2ceb7" opacity="0.55"/>
<ellipse cx="-7.2" cy="2.7" rx="2.6" ry="1.4" transform="rotate(179 -7.2 2.7)" fill="#b7b39f" opacity="0.55"/>
<ellipse cx="0.7" cy="11.4" rx="1.1" ry="1.7" transform="rotate(39 0.7 11.4)" fill="#cbc7b0" opacity="0.55"/>
<path d="M2 -15 Q8 -6 4 2 Q6 10 4 16 L21 16 L21 -15 Z" fill="#6a6246" opacity="0.9"/>
<ellipse cx="11" cy="0" rx="5" ry="6" fill="#3a3828" opacity="0.85"/>
<path d="M-12 -6 Q-4 -2 -8 6" fill="none" stroke="#a09070" stroke-width="1" opacity="0.7"/>
</g></g>
<ellipse cx="383.50" cy="235.75" rx="19.2" ry="16.9" fill="none" stroke="#8e968c" stroke-width="1.1" opacity="0.9"/>
</g>
<clipPath id="c5_0"><rect x="317.2" y="253.00" width="41.6" height="38.50"/></clipPath>
<clipPath id="c5_0d"><ellipse cx="338.00" cy="272.25" rx="19.7" ry="17.4"/></clipPath>
<g clip-path="url(#c5_0)">
<rect x="317.2" y="253.00" width="41.6" height="38.50" fill="#5a5262"/>
<ellipse cx="338.00" cy="272.25" rx="19.7" ry="17.4" fill="#dcdcd6"/>
<g clip-path="url(#c5_0d)"><g transform="translate(338.00,272.25)">
<ellipse cx="-8.2" cy="-1.3" rx="2.0" ry="1.5" transform="rotate(154 -8.2 -1.3)" fill="#b0b0ab" opacity="0.55"/>
<ellipse cx="-9.7" cy="2.3" rx="1.5" ry="1.3" transform="rotate(170 -9.7 2.3)" fill="#c0c0ba" opacity="0.55"/>
<ellipse cx="0.1" cy="-14.7" rx="2.2" ry="0.7" transform="rotate(58 0.1 -14.7)" fill="#dfdfda" opacity="0.55"/>
<ellipse cx="14.4" cy="-3.9" rx="0.9" ry="0.9" transform="rotate(5 14.4 -3.9)" fill="#e1e1dc" opacity="0.55"/>
<ellipse cx="-12.3" cy="4.5" rx="1.8" ry="1.1" transform="rotate(48 -12.3 4.5)" fill="#c8c8c3" opacity="0.55"/>
<ellipse cx="0.2" cy="11.4" rx="1.7" ry="1.3" transform="rotate(19 0.2 11.4)" fill="#adada8" opacity="0.55"/>
<ellipse cx="-9.3" cy="3.0" rx="1.2" ry="0.7" transform="rotate(88 -9.3 3.0)" fill="#c9c9c4" opacity="0.55"/>
<ellipse cx="0.6" cy="5.5" rx="2.0" ry="1.5" transform="rotate(81 0.6 5.5)" fill="#d5d5cf" opacity="0.55"/>
<ellipse cx="3.8" cy="8.4" rx="1.3" ry="1.0" transform="rotate(108 3.8 8.4)" fill="#ddddd7" opacity="0.55"/>
<ellipse cx="2.1" cy="4.1" rx="1.9" ry="0.9" transform="rotate(73 2.1 4.1)" fill="#deded8" opacity="0.55"/>
<ellipse cx="-17.3" cy="-0.8" rx="2.5" ry="0.8" transform="rotate(153 -17.3 -0.8)" fill="#d8d8d2" opacity="0.55"/>
<ellipse cx="-6.6" cy="-11.1" rx="1.5" ry="1.4" transform="rotate(153 -6.6 -11.1)" fill="#e0e0db" opacity="0.55"/>
<ellipse cx="2.9" cy="-10.5" rx="1.5" ry="1.3" transform="rotate(168 2.9 -10.5)" fill="#e2e2dd" opacity="0.55"/>
<ellipse cx="-7.9" cy="10.4" rx="1.9" ry="1.5" transform="rotate(128 -7.9 10.4)" fill="#d6d6d0" opacity="0.55"/>
<ellipse cx="-18.5" cy="-2.6" rx="1.1" ry="1.5" transform="rotate(77 -18.5 -2.6)" fill="#afafaa" opacity="0.55"/>
<ellipse cx="3.0" cy="12.7" rx="2.3" ry="1.2" transform="rotate(163 3.0 12.7)" fill="#d1d1cc" opacity="0.55"/>
<ellipse cx="-4.2" cy="-12.2" rx="2.5" ry="1.1" transform="rotate(75 -4.2 -12.2)" fill="#bcbcb7" opacity="0.55"/>
<ellipse cx="-5.7" cy="-4.3" rx="0.8" ry="1.2" transform="rotate(169 -5.7 -4.3)" fill="#dcdcd6" opacity="0.55"/>
<ellipse cx="-2.9" cy="13.0" rx="1.3" ry="1.4" transform="rotate(113 -2.9 13.0)" fill="#dfdfda" opacity="0.55"/>
<ellipse cx="11.2" cy="-11.4" rx="1.5" ry="1.1" transform="rotate(152 11.2 -11.4)" fill="#deded9" opacity="0.55"/>
<ellipse cx="-2.3" cy="12.3" rx="2.1" ry="1.0" transform="rotate(167 -2.3 12.3)" fill="#acaca7" opacity="0.55"/>
<ellipse cx="-18.6" cy="1.1" rx="1.1" ry="1.4" transform="rotate(99 -18.6 1.1)" fill="#e0e0db" opacity="0.55"/>
<ellipse cx="8.7" cy="0.1" rx="2.1" ry="1.6" transform="rotate(77 8.7 0.1)" fill="#bdbdb8" opacity="0.55"/>
<ellipse cx="2.3" cy="-2.1" rx="2.6" ry="1.2" transform="rotate(37 2.3 -2.1)" fill="#e1e1dc" opacity="0.55"/>
<ellipse cx="0.8" cy="10.4" rx="1.3" ry="1.4" transform="rotate(175 0.8 10.4)" fill="#cfcfca" opacity="0.55"/>
<ellipse cx="9.3" cy="-13.7" rx="1.7" ry="1.2" transform="rotate(38 9.3 -13.7)" fill="#ababa7" opacity="0.55"/>
<ellipse cx="-16.6" cy="-0.3" rx="2.1" ry="0.9" transform="rotate(83 -16.6 -0.3)" fill="#e0e0da" opacity="0.55"/>
<ellipse cx="13.0" cy="-9.4" rx="1.8" ry="1.8" transform="rotate(173 13.0 -9.4)" fill="#bfbfba" opacity="0.55"/>
<ellipse cx="-7.2" cy="-6.0" rx="2.0" ry="1.3" transform="rotate(122 -7.2 -6.0)" fill="#bfbfba" opacity="0.55"/>
<ellipse cx="-11.8" cy="-7.2" rx="1.1" ry="0.6" transform="rotate(156 -11.8 -7.2)" fill="#cfcfc9" opacity="0.55"/>
<ellipse cx="-0.5" cy="1" rx="9.5" ry="8.6" fill="#767674" opacity="1"/>
<ellipse cx="-1.5" cy="0" rx="3.6" ry="3.6" fill="#15151a" opacity="1"/>
<ellipse cx="4" cy="4" rx="3" ry="2" fill="#9a9a98" opacity="0.8"/>
</g></g>
<ellipse cx="338.00" cy="272.25" rx="19.2" ry="16.9" fill="none" stroke="#8e968c" stroke-width="1.1" opacity="0.9"/>
</g>
<clipPath id="c5_1"><rect x="362.8" y="253.00" width="41.4" height="38.50"/></clipPath>
<clipPath id="c5_1d"><ellipse cx="383.50" cy="272.25" rx="19.7" ry="17.4"/></clipPath>
<g clip-path="url(#c5_1)">
<rect x="362.8" y="253.00" width="41.4" height="38.50" fill="#36343a"/>
<ellipse cx="383.50" cy="272.25" rx="19.7" ry="17.4" fill="#d6d2bc"/>
<g clip-path="url(#c5_1d)"><g transform="translate(383.50,272.25)">
<ellipse cx="13.5" cy="-1.1" rx="1.3" ry="1.6" transform="rotate(69 13.5 -1.1)" fill="#c0bca8" opacity="0.55"/>
<ellipse cx="13.7" cy="-5.7" rx="1.0" ry="1.5" transform="rotate(94 13.7 -5.7)" fill="#bfbba7" opacity="0.55"/>
<ellipse cx="13.8" cy="-6.8" rx="1.2" ry="1.6" transform="rotate(94 13.8 -6.8)" fill="#dad6c3" opacity="0.55"/>
<ellipse cx="-3.4" cy="-3.1" rx="1.4" ry="1.1" transform="rotate(33 -3.4 -3.1)" fill="#bdbaa6" opacity="0.55"/>
<ellipse cx="-18.3" cy="3.0" rx="2.2" ry="0.7" transform="rotate(138 -18.3 3.0)" fill="#b3b09d" opacity="0.55"/>
<ellipse cx="-9.0" cy="8.9" rx="1.4" ry="1.0" transform="rotate(155 -9.0 8.9)" fill="#c4c0ac" opacity="0.55"/>
<ellipse cx="12.6" cy="6.7" rx="0.9" ry="0.9" transform="rotate(72 12.6 6.7)" fill="#cac6b2" opacity="0.55"/>
<ellipse cx="5.8" cy="-10.9" rx="1.8" ry="1.4" transform="rotate(3 5.8 -10.9)" fill="#d6d2bc" opacity="0.55"/>
<ellipse cx="16.6" cy="-2.7" rx="2.4" ry="1.3" transform="rotate(7 16.6 -2.7)" fill="#d8d5c0" opacity="0.55"/>
<ellipse cx="-17.2" cy="-4.0" rx="0.9" ry="0.7" transform="rotate(136 -17.2 -4.0)" fill="#dcd9c6" opacity="0.55"/>
<ellipse cx="-2.4" cy="-3.4" rx="1.7" ry="0.9" transform="rotate(173 -2.4 -3.4)" fill="#b3b09d" opacity="0.55"/>
<ellipse cx="0.9" cy="-5.7" rx="1.9" ry="0.7" transform="rotate(93 0.9 -5.7)" fill="#d3cfba" opacity="0.55"/>
<ellipse cx="4.0" cy="9.1" rx="1.4" ry="0.7" transform="rotate(56 4.0 9.1)" fill="#dddac7" opacity="0.55"/>
<ellipse cx="-5.4" cy="-14.6" rx="0.8" ry="0.7" transform="rotate(159 -5.4 -14.6)" fill="#c2bfab" opacity="0.55"/>
<ellipse cx="4.0" cy="-13.3" rx="2.0" ry="0.8" transform="rotate(142 4.0 -13.3)" fill="#ddd9c7" opacity="0.55"/>
<ellipse cx="11.4" cy="-5.1" rx="2.5" ry="1.0" transform="rotate(29 11.4 -5.1)" fill="#b0ad9a" opacity="0.55"/>
<ellipse cx="-9.0" cy="-0.9" rx="1.4" ry="1.4" transform="rotate(148 -9.0 -0.9)" fill="#b6b29f" opacity="0.55"/>
<ellipse cx="-4.4" cy="-3.5" rx="1.8" ry="0.9" transform="rotate(48 -4.4 -3.5)" fill="#d9d6c2" opacity="0.55"/>
<ellipse cx="-6.6" cy="10.0" rx="1.8" ry="1.1" transform="rotate(147 -6.6 10.0)" fill="#cdc9b4" opacity="0.55"/>
<ellipse cx="10.1" cy="2.0" rx="2.2" ry="1.0" transform="rotate(138 10.1 2.0)" fill="#dbd8c5" opacity="0.55"/>
<ellipse cx="-5.9" cy="-6.8" rx="0.8" ry="0.7" transform="rotate(65 -5.9 -6.8)" fill="#aba896" opacity="0.55"/>
<ellipse cx="6.5" cy="5.3" rx="2.1" ry="1.8" transform="rotate(105 6.5 5.3)" fill="#c0bca8" opacity="0.55"/>
<ellipse cx="0.1" cy="14.1" rx="1.4" ry="1.7" transform="rotate(50 0.1 14.1)" fill="#cfcbb6" opacity="0.55"/>
<ellipse cx="-6.7" cy="2.3" rx="1.9" ry="0.7" transform="rotate(130 -6.7 2.3)" fill="#dbd8c5" opacity="0.55"/>
<ellipse cx="10.0" cy="-5.0" rx="2.0" ry="1.4" transform="rotate(165 10.0 -5.0)" fill="#b0ad9b" opacity="0.55"/>
<ellipse cx="-1.2" cy="-10.6" rx="1.7" ry="1.4" transform="rotate(46 -1.2 -10.6)" fill="#b5b29f" opacity="0.55"/>
<ellipse cx="-12.1" cy="-11.5" rx="2.1" ry="1.4" transform="rotate(36 -12.1 -11.5)" fill="#b9b6a3" opacity="0.55"/>
<ellipse cx="9.1" cy="13.5" rx="2.1" ry="1.0" transform="rotate(104 9.1 13.5)" fill="#d8d4c0" opacity="0.55"/>
<ellipse cx="-1.0" cy="5.1" rx="2.3" ry="0.6" transform="rotate(91 -1.0 5.1)" fill="#d9d5c1" opacity="0.55"/>
<ellipse cx="-1.8" cy="-4.7" rx="1.7" ry="1.1" transform="rotate(163 -1.8 -4.7)" fill="#d8d5c0" opacity="0.55"/>
<ellipse cx="9" cy="3" rx="10" ry="12" fill="#4e4c3e" opacity="0.95"/>
<ellipse cx="10" cy="3" rx="4.5" ry="4.5" fill="#1e1e1a" opacity="1"/>
<ellipse cx="-12" cy="-2" rx="3" ry="2" fill="#a89a78" opacity="0.8"/>
</g></g>
<ellipse cx="383.50" cy="272.25" rx="19.2" ry="16.9" fill="none" stroke="#8e968c" stroke-width="1.1" opacity="0.9"/>
</g>
<clipPath id="c6_0"><rect x="317.2" y="291.00" width="41.6" height="37.60"/></clipPath>
<clipPath id="c6_0d"><ellipse cx="338.00" cy="309.80" rx="19.7" ry="17.4"/></clipPath>
<g clip-path="url(#c6_0)">
<rect x="317.2" y="291.00" width="41.6" height="37.60" fill="#4e4858"/>
<ellipse cx="338.00" cy="309.80" rx="19.7" ry="17.4" fill="#dcdcd8"/>
<g clip-path="url(#c6_0d)"><g transform="translate(338.00,309.80)">
<ellipse cx="-11.1" cy="8.3" rx="1.8" ry="1.1" transform="rotate(47 -11.1 8.3)" fill="#e1e1dd" opacity="0.55"/>
<ellipse cx="-7.8" cy="-8.4" rx="2.1" ry="1.0" transform="rotate(28 -7.8 -8.4)" fill="#d5d5d1" opacity="0.55"/>
<ellipse cx="3.4" cy="12.8" rx="0.8" ry="0.8" transform="rotate(53 3.4 12.8)" fill="#b4b4b1" opacity="0.55"/>
<ellipse cx="15.4" cy="-1.1" rx="1.4" ry="1.5" transform="rotate(50 15.4 -1.1)" fill="#cacac6" opacity="0.55"/>
<ellipse cx="-7.2" cy="-6.2" rx="1.7" ry="1.3" transform="rotate(114 -7.2 -6.2)" fill="#ddddda" opacity="0.55"/>
<ellipse cx="14.3" cy="6.5" rx="1.3" ry="0.6" transform="rotate(122 14.3 6.5)" fill="#dcdcd8" opacity="0.55"/>
<ellipse cx="-0.9" cy="15.7" rx="1.3" ry="0.9" transform="rotate(8 -0.9 15.7)" fill="#c2c2be" opacity="0.55"/>
<ellipse cx="-5.6" cy="-13.2" rx="1.9" ry="0.7" transform="rotate(10 -5.6 -13.2)" fill="#bcbcb8" opacity="0.55"/>
<ellipse cx="2.7" cy="7.9" rx="1.6" ry="1.6" transform="rotate(2 2.7 7.9)" fill="#e1e1dd" opacity="0.55"/>
<ellipse cx="14.3" cy="-4.5" rx="1.6" ry="1.1" transform="rotate(97 14.3 -4.5)" fill="#dadad6" opacity="0.55"/>
<ellipse cx="5.4" cy="11.0" rx="1.9" ry="1.3" transform="rotate(92 5.4 11.0)" fill="#d5d5d2" opacity="0.55"/>
<ellipse cx="4.0" cy="3.4" rx="1.7" ry="0.7" transform="rotate(176 4.0 3.4)" fill="#dcdcd8" opacity="0.55"/>
<ellipse cx="4.5" cy="-9.4" rx="2.0" ry="1.1" transform="rotate(48 4.5 -9.4)" fill="#c3c3bf" opacity="0.55"/>
<ellipse cx="9.2" cy="5.8" rx="1.3" ry="1.1" transform="rotate(123 9.2 5.8)" fill="#d4d4d0" opacity="0.55"/>
<ellipse cx="11.9" cy="10.8" rx="0.8" ry="1.0" transform="rotate(69 11.9 10.8)" fill="#e1e1de" opacity="0.55"/>
<ellipse cx="-7.1" cy="-0.2" rx="0.8" ry="0.8" transform="rotate(120 -7.1 -0.2)" fill="#c6c6c3" opacity="0.55"/>
<ellipse cx="-4.0" cy="6.8" rx="1.4" ry="1.7" transform="rotate(42 -4.0 6.8)" fill="#ddddd9" opacity="0.55"/>
<ellipse cx="-5.2" cy="1.2" rx="2.2" ry="1.2" transform="rotate(5 -5.2 1.2)" fill="#bdbdb9" opacity="0.55"/>
<ellipse cx="-9.9" cy="9.7" rx="1.5" ry="1.4" transform="rotate(178 -9.9 9.7)" fill="#c3c3bf" opacity="0.55"/>
<ellipse cx="-2.8" cy="7.1" rx="0.8" ry="1.8" transform="rotate(130 -2.8 7.1)" fill="#e1e1de" opacity="0.55"/>
<ellipse cx="1.7" cy="-1.8" rx="1.2" ry="0.7" transform="rotate(1 1.7 -1.8)" fill="#e1e1dd" opacity="0.55"/>
<ellipse cx="-0.1" cy="-2.8" rx="2.2" ry="0.8" transform="rotate(174 -0.1 -2.8)" fill="#b2b2af" opacity="0.55"/>
<ellipse cx="0.7" cy="6.3" rx="1.2" ry="1.8" transform="rotate(23 0.7 6.3)" fill="#e1e1dd" opacity="0.55"/>
<ellipse cx="4.6" cy="-7.4" rx="2.2" ry="1.3" transform="rotate(137 4.6 -7.4)" fill="#b4b4b1" opacity="0.55"/>
<ellipse cx="9.7" cy="-8.1" rx="2.1" ry="1.5" transform="rotate(154 9.7 -8.1)" fill="#ddddd9" opacity="0.55"/>
<ellipse cx="4.8" cy="-6.7" rx="2.5" ry="0.9" transform="rotate(8 4.8 -6.7)" fill="#e1e1de" opacity="0.55"/>
<ellipse cx="1.9" cy="-0.6" rx="0.8" ry="1.6" transform="rotate(45 1.9 -0.6)" fill="#c8c8c4" opacity="0.55"/>
<ellipse cx="13.5" cy="-10.4" rx="2.1" ry="1.1" transform="rotate(12 13.5 -10.4)" fill="#d6d6d2" opacity="0.55"/>
<ellipse cx="-7.2" cy="2.7" rx="2.6" ry="1.4" transform="rotate(179 -7.2 2.7)" fill="#babab7" opacity="0.55"/>
<ellipse cx="0.7" cy="11.4" rx="1.1" ry="1.7" transform="rotate(39 0.7 11.4)" fill="#cfcfcb" opacity="0.55"/>
<ellipse cx="-1" cy="-2" rx="9.8" ry="9" fill="#3c3c2a" opacity="1"/>
<ellipse cx="1" cy="-4" rx="2.4" ry="2" fill="#e0e0dc" opacity="0.95"/>
<ellipse cx="-3" cy="1" rx="2" ry="1.6" fill="#e0e0dc" opacity="0.9"/>
<ellipse cx="2" cy="1" rx="1.6" ry="1.6" fill="#d8d8d0" opacity="0.9"/>
</g></g>
<ellipse cx="338.00" cy="309.80" rx="19.2" ry="16.9" fill="none" stroke="#8e968c" stroke-width="1.1" opacity="0.9"/>
</g>
<clipPath id="c6_1"><rect x="362.8" y="291.00" width="41.4" height="37.60"/></clipPath>
<clipPath id="c6_1d"><ellipse cx="383.50" cy="309.80" rx="19.7" ry="17.4"/></clipPath>
<g clip-path="url(#c6_1)">
<rect x="362.8" y="291.00" width="41.4" height="37.60" fill="#3a3640"/>
<ellipse cx="383.50" cy="309.80" rx="19.7" ry="17.4" fill="#d8d4c2"/>
<g clip-path="url(#c6_1d)"><g transform="translate(383.50,309.80)">
<ellipse cx="6.2" cy="-14.8" rx="2.5" ry="0.9" transform="rotate(125 6.2 -14.8)" fill="#bfbcac" opacity="0.55"/>
<ellipse cx="4.8" cy="5.9" rx="1.0" ry="1.2" transform="rotate(84 4.8 5.9)" fill="#aba799" opacity="0.55"/>
<ellipse cx="11.8" cy="-4.0" rx="1.4" ry="1.6" transform="rotate(143 11.8 -4.0)" fill="#c6c2b2" opacity="0.55"/>
<ellipse cx="17.0" cy="-2.9" rx="2.4" ry="1.6" transform="rotate(94 17.0 -2.9)" fill="#dddaca" opacity="0.55"/>
<ellipse cx="3.1" cy="11.5" rx="2.4" ry="1.0" transform="rotate(136 3.1 11.5)" fill="#bab6a7" opacity="0.55"/>
<ellipse cx="15.2" cy="-0.1" rx="1.7" ry="1.4" transform="rotate(102 15.2 -0.1)" fill="#dad6c5" opacity="0.55"/>
<ellipse cx="-2.6" cy="-1.7" rx="1.2" ry="1.0" transform="rotate(36 -2.6 -1.7)" fill="#cecab9" opacity="0.55"/>
<ellipse cx="13.5" cy="-8.8" rx="2.0" ry="1.0" transform="rotate(43 13.5 -8.8)" fill="#d9d6c5" opacity="0.55"/>
<ellipse cx="6.1" cy="8.1" rx="2.1" ry="1.5" transform="rotate(148 6.1 8.1)" fill="#cdc9b8" opacity="0.55"/>
<ellipse cx="4.6" cy="3.3" rx="1.1" ry="0.6" transform="rotate(78 4.6 3.3)" fill="#a8a597" opacity="0.55"/>
<ellipse cx="14.6" cy="5.7" rx="2.0" ry="1.8" transform="rotate(77 14.6 5.7)" fill="#d2cfbd" opacity="0.55"/>
<ellipse cx="-12.9" cy="-7.0" rx="1.7" ry="1.3" transform="rotate(65 -12.9 -7.0)" fill="#dedacb" opacity="0.55"/>
<ellipse cx="8.7" cy="-5.9" rx="1.1" ry="1.2" transform="rotate(169 8.7 -5.9)" fill="#c7c3b3" opacity="0.55"/>
<ellipse cx="2.2" cy="12.2" rx="1.5" ry="1.4" transform="rotate(0 2.2 12.2)" fill="#b3b0a1" opacity="0.55"/>
<ellipse cx="-2.3" cy="-5.4" rx="2.4" ry="1.5" transform="rotate(158 -2.3 -5.4)" fill="#cecbb9" opacity="0.55"/>
<ellipse cx="4.5" cy="-1.6" rx="1.7" ry="1.4" transform="rotate(51 4.5 -1.6)" fill="#bdbaaa" opacity="0.55"/>
<ellipse cx="10.0" cy="7.5" rx="1.5" ry="1.7" transform="rotate(166 10.0 7.5)" fill="#bdbaaa" opacity="0.55"/>
<ellipse cx="-1.2" cy="-8.4" rx="1.7" ry="0.8" transform="rotate(97 -1.2 -8.4)" fill="#b5b1a2" opacity="0.55"/>
<ellipse cx="2.0" cy="-8.1" rx="1.3" ry="1.7" transform="rotate(96 2.0 -8.1)" fill="#dddacb" opacity="0.55"/>
<ellipse cx="10.2" cy="6.6" rx="2.6" ry="1.0" transform="rotate(46 10.2 6.6)" fill="#dddacb" opacity="0.55"/>
<ellipse cx="0.2" cy="-12.8" rx="2.0" ry="1.0" transform="rotate(49 0.2 -12.8)" fill="#dcd9c9" opacity="0.55"/>
<ellipse cx="1.1" cy="-6.8" rx="1.6" ry="1.5" transform="rotate(153 1.1 -6.8)" fill="#dbd8c7" opacity="0.55"/>
<ellipse cx="-14.0" cy="-3.7" rx="2.0" ry="1.8" transform="rotate(55 -14.0 -3.7)" fill="#afac9d" opacity="0.55"/>
<ellipse cx="0.6" cy="-5.0" rx="2.5" ry="1.1" transform="rotate(118 0.6 -5.0)" fill="#ddd9c9" opacity="0.55"/>
<ellipse cx="-0.5" cy="9.1" rx="1.6" ry="1.3" transform="rotate(44 -0.5 9.1)" fill="#dbd8c8" opacity="0.55"/>
<ellipse cx="-8.7" cy="14.4" rx="0.8" ry="1.7" transform="rotate(176 -8.7 14.4)" fill="#adaa9b" opacity="0.55"/>
<ellipse cx="2.8" cy="13.0" rx="2.2" ry="0.6" transform="rotate(109 2.8 13.0)" fill="#d1cdbb" opacity="0.55"/>
<ellipse cx="3.0" cy="-0.4" rx="1.6" ry="1.3" transform="rotate(32 3.0 -0.4)" fill="#dcd9c9" opacity="0.55"/>
<ellipse cx="13.1" cy="5.8" rx="1.5" ry="0.7" transform="rotate(52 13.1 5.8)" fill="#dcd8c8" opacity="0.55"/>
<ellipse cx="-0.4" cy="-4.8" rx="2.4" ry="1.3" transform="rotate(84 -0.4 -4.8)" fill="#a8a597" opacity="0.55"/>
<ellipse cx="12" cy="1" rx="7.5" ry="8.5" fill="#2e2c24" opacity="1"/>
<ellipse cx="12" cy="1" rx="3" ry="3" fill="#6a5a3a" opacity="0.8"/>
<ellipse cx="-11" cy="-1" rx="4" ry="3" fill="#4a4030" opacity="1"/>
</g></g>
<ellipse cx="383.50" cy="309.80" rx="19.2" ry="16.9" fill="none" stroke="#8e968c" stroke-width="1.1" opacity="0.9"/>
</g>
<clipPath id="c7_0"><rect x="317.2" y="328.10" width="41.6" height="37.30"/></clipPath>
<clipPath id="c7_0d"><ellipse cx="338.00" cy="346.75" rx="19.7" ry="17.4"/></clipPath>
<g clip-path="url(#c7_0)">
<rect x="317.2" y="328.10" width="41.6" height="37.30" fill="#3a3a44"/>
<ellipse cx="338.00" cy="346.75" rx="19.7" ry="17.4" fill="#c2bca6"/>
<g clip-path="url(#c7_0d)"><g transform="translate(338.00,346.75)">
<ellipse cx="13.5" cy="-1.1" rx="1.3" ry="1.6" transform="rotate(69 13.5 -1.1)" fill="#aea894" opacity="0.55"/>
<ellipse cx="13.7" cy="-5.7" rx="1.0" ry="1.5" transform="rotate(94 13.7 -5.7)" fill="#ada794" opacity="0.55"/>
<ellipse cx="13.8" cy="-6.8" rx="1.2" ry="1.6" transform="rotate(94 13.8 -6.8)" fill="#c8c3af" opacity="0.55"/>
<ellipse cx="-3.4" cy="-3.1" rx="1.4" ry="1.1" transform="rotate(33 -3.4 -3.1)" fill="#aca693" opacity="0.55"/>
<ellipse cx="-18.3" cy="3.0" rx="2.2" ry="0.7" transform="rotate(138 -18.3 3.0)" fill="#a29d8b" opacity="0.55"/>
<ellipse cx="-9.0" cy="8.9" rx="1.4" ry="1.0" transform="rotate(155 -9.0 8.9)" fill="#b1ac98" opacity="0.55"/>
<ellipse cx="12.6" cy="6.7" rx="0.9" ry="0.9" transform="rotate(72 12.6 6.7)" fill="#b7b29d" opacity="0.55"/>
<ellipse cx="5.8" cy="-10.9" rx="1.8" ry="1.4" transform="rotate(3 5.8 -10.9)" fill="#c2bca6" opacity="0.55"/>
<ellipse cx="16.6" cy="-2.7" rx="2.4" ry="1.3" transform="rotate(7 16.6 -2.7)" fill="#c6c0ac" opacity="0.55"/>
<ellipse cx="-17.2" cy="-4.0" rx="0.9" ry="0.7" transform="rotate(136 -17.2 -4.0)" fill="#cbc6b4" opacity="0.55"/>
<ellipse cx="-2.4" cy="-3.4" rx="1.7" ry="0.9" transform="rotate(173 -2.4 -3.4)" fill="#a39d8b" opacity="0.55"/>
<ellipse cx="0.9" cy="-5.7" rx="1.9" ry="0.7" transform="rotate(93 0.9 -5.7)" fill="#c0baa4" opacity="0.55"/>
<ellipse cx="4.0" cy="9.1" rx="1.4" ry="0.7" transform="rotate(56 4.0 9.1)" fill="#ccc7b5" opacity="0.55"/>
<ellipse cx="-5.4" cy="-14.6" rx="0.8" ry="0.7" transform="rotate(159 -5.4 -14.6)" fill="#b0ab97" opacity="0.55"/>
<ellipse cx="4.0" cy="-13.3" rx="2.0" ry="0.8" transform="rotate(142 4.0 -13.3)" fill="#ccc7b5" opacity="0.55"/>
<ellipse cx="11.4" cy="-5.1" rx="2.5" ry="1.0" transform="rotate(29 11.4 -5.1)" fill="#9f9a88" opacity="0.55"/>
<ellipse cx="-9.0" cy="-0.9" rx="1.4" ry="1.4" transform="rotate(148 -9.0 -0.9)" fill="#a59f8d" opacity="0.55"/>
<ellipse cx="-4.4" cy="-3.5" rx="1.8" ry="0.9" transform="rotate(48 -4.4 -3.5)" fill="#c7c2ae" opacity="0.55"/>
<ellipse cx="-6.6" cy="10.0" rx="1.8" ry="1.1" transform="rotate(147 -6.6 10.0)" fill="#bab49f" opacity="0.55"/>
<ellipse cx="10.1" cy="2.0" rx="2.2" ry="1.0" transform="rotate(138 10.1 2.0)" fill="#cac5b2" opacity="0.55"/>
<ellipse cx="-5.9" cy="-6.8" rx="0.8" ry="0.7" transform="rotate(65 -5.9 -6.8)" fill="#9b9685" opacity="0.55"/>
<ellipse cx="6.5" cy="5.3" rx="2.1" ry="1.8" transform="rotate(105 6.5 5.3)" fill="#aea895" opacity="0.55"/>
<ellipse cx="0.1" cy="14.1" rx="1.4" ry="1.7" transform="rotate(50 0.1 14.1)" fill="#bcb6a1" opacity="0.55"/>
<ellipse cx="-6.7" cy="2.3" rx="1.9" ry="0.7" transform="rotate(130 -6.7 2.3)" fill="#cac5b2" opacity="0.55"/>
<ellipse cx="10.0" cy="-5.0" rx="2.0" ry="1.4" transform="rotate(165 10.0 -5.0)" fill="#a09b89" opacity="0.55"/>
<ellipse cx="-1.2" cy="-10.6" rx="1.7" ry="1.4" transform="rotate(46 -1.2 -10.6)" fill="#a49f8d" opacity="0.55"/>
<ellipse cx="-12.1" cy="-11.5" rx="2.1" ry="1.4" transform="rotate(36 -12.1 -11.5)" fill="#a8a390" opacity="0.55"/>
<ellipse cx="9.1" cy="13.5" rx="2.1" ry="1.0" transform="rotate(104 9.1 13.5)" fill="#c5c0ab" opacity="0.55"/>
<ellipse cx="-1.0" cy="5.1" rx="2.3" ry="0.6" transform="rotate(91 -1.0 5.1)" fill="#c6c1ac" opacity="0.55"/>
<ellipse cx="-1.8" cy="-4.7" rx="1.7" ry="1.1" transform="rotate(163 -1.8 -4.7)" fill="#c6c0ac" opacity="0.55"/>
<ellipse cx="0" cy="1" rx="11" ry="10" fill="#d2d0c0" opacity="0.9"/>
<ellipse cx="1" cy="2" rx="3" ry="3.5" fill="#a87050" opacity="1"/>
</g></g>
<ellipse cx="338.00" cy="346.75" rx="19.2" ry="16.9" fill="none" stroke="#8e968c" stroke-width="1.1" opacity="0.9"/>
</g>
<clipPath id="c7_1"><rect x="362.8" y="328.10" width="41.4" height="37.30"/></clipPath>
<clipPath id="c7_1d"><ellipse cx="383.50" cy="346.75" rx="19.7" ry="17.4"/></clipPath>
<g clip-path="url(#c7_1)">
<rect x="362.8" y="328.10" width="41.4" height="37.30" fill="#44404c"/>
<ellipse cx="383.50" cy="346.75" rx="19.7" ry="17.4" fill="#a65656"/>
<g clip-path="url(#c7_1d)"><g transform="translate(383.50,346.75)">
<ellipse cx="-5.9" cy="9.9" rx="2.1" ry="0.7" transform="rotate(24 -5.9 9.9)" fill="#8d4949" opacity="0.55"/>
<ellipse cx="13.0" cy="-6.7" rx="1.9" ry="1.3" transform="rotate(14 13.0 -6.7)" fill="#ac6262" opacity="0.55"/>
<ellipse cx="11.1" cy="-7.9" rx="1.5" ry="1.4" transform="rotate(147 11.1 -7.9)" fill="#874646" opacity="0.55"/>
<ellipse cx="2.3" cy="-4.9" rx="1.2" ry="1.6" transform="rotate(58 2.3 -4.9)" fill="#894646" opacity="0.55"/>
<ellipse cx="13.0" cy="-9.1" rx="1.3" ry="1.5" transform="rotate(159 13.0 -9.1)" fill="#a25454" opacity="0.55"/>
<ellipse cx="1.6" cy="9.7" rx="1.6" ry="1.8" transform="rotate(148 1.6 9.7)" fill="#9e5252" opacity="0.55"/>
<ellipse cx="13.4" cy="8.1" rx="1.2" ry="1.0" transform="rotate(174 13.4 8.1)" fill="#a85a5a" opacity="0.55"/>
<ellipse cx="-3.3" cy="4.9" rx="2.1" ry="0.9" transform="rotate(33 -3.3 4.9)" fill="#b47272" opacity="0.55"/>
<ellipse cx="-9.5" cy="-3.7" rx="0.9" ry="1.2" transform="rotate(150 -9.5 -3.7)" fill="#aa5e5e" opacity="0.55"/>
<ellipse cx="-0.9" cy="-7.1" rx="1.3" ry="1.7" transform="rotate(120 -0.9 -7.1)" fill="#834343" opacity="0.55"/>
<ellipse cx="-9.2" cy="-3.7" rx="1.0" ry="1.2" transform="rotate(112 -9.2 -3.7)" fill="#a25454" opacity="0.55"/>
<ellipse cx="-7.8" cy="-10.6" rx="1.9" ry="1.7" transform="rotate(152 -7.8 -10.6)" fill="#894747" opacity="0.55"/>
<ellipse cx="-3.6" cy="-14.6" rx="1.4" ry="0.8" transform="rotate(60 -3.6 -14.6)" fill="#824343" opacity="0.55"/>
<ellipse cx="0.0" cy="-5.6" rx="2.1" ry="0.8" transform="rotate(146 0.0 -5.6)" fill="#a35454" opacity="0.55"/>
<ellipse cx="-0.3" cy="-10.8" rx="1.5" ry="1.0" transform="rotate(174 -0.3 -10.8)" fill="#8e4a4a" opacity="0.55"/>
<ellipse cx="-3.6" cy="-12.2" rx="2.5" ry="0.9" transform="rotate(35 -3.6 -12.2)" fill="#924b4b" opacity="0.55"/>
<ellipse cx="9.3" cy="-0.7" rx="1.8" ry="1.2" transform="rotate(177 9.3 -0.7)" fill="#9f5252" opacity="0.55"/>
<ellipse cx="-10.9" cy="-12.2" rx="0.9" ry="1.6" transform="rotate(146 -10.9 -12.2)" fill="#904b4b" opacity="0.55"/>
<ellipse cx="-7.0" cy="-4.5" rx="1.4" ry="1.5" transform="rotate(42 -7.0 -4.5)" fill="#a45555" opacity="0.55"/>
<ellipse cx="16.5" cy="-6.7" rx="0.9" ry="1.7" transform="rotate(2 16.5 -6.7)" fill="#a55555" opacity="0.55"/>
<ellipse cx="-7.7" cy="-3.9" rx="2.4" ry="1.8" transform="rotate(116 -7.7 -3.9)" fill="#a95d5d" opacity="0.55"/>
<ellipse cx="5.7" cy="-3.9" rx="2.4" ry="1.5" transform="rotate(33 5.7 -3.9)" fill="#a55555" opacity="0.55"/>
<ellipse cx="-3.6" cy="-15.4" rx="2.4" ry="0.6" transform="rotate(113 -3.6 -15.4)" fill="#914b4b" opacity="0.55"/>
<ellipse cx="8.5" cy="-6.6" rx="1.2" ry="1.6" transform="rotate(48 8.5 -6.6)" fill="#a95d5d" opacity="0.55"/>
<ellipse cx="-12.6" cy="-11.6" rx="1.7" ry="0.9" transform="rotate(82 -12.6 -11.6)" fill="#904a4a" opacity="0.55"/>
<ellipse cx="5.2" cy="-3.8" rx="2.0" ry="0.9" transform="rotate(26 5.2 -3.8)" fill="#864545" opacity="0.55"/>
<ellipse cx="14.0" cy="-1.2" rx="1.4" ry="1.6" transform="rotate(36 14.0 -1.2)" fill="#a35454" opacity="0.55"/>
<ellipse cx="-0.9" cy="-4.5" rx="1.9" ry="1.0" transform="rotate(107 -0.9 -4.5)" fill="#ad6565" opacity="0.55"/>
<ellipse cx="-6.2" cy="-2.7" rx="2.1" ry="1.2" transform="rotate(26 -6.2 -2.7)" fill="#ad6464" opacity="0.55"/>
<ellipse cx="-4.1" cy="-8.5" rx="1.3" ry="1.3" transform="rotate(156 -4.1 -8.5)" fill="#b67474" opacity="0.55"/>
<ellipse cx="3" cy="4" rx="14.5" ry="11.5" fill="#c8c8c8" opacity="1"/>
<ellipse cx="-16" cy="2" rx="4" ry="11" fill="#ececec" opacity="0.9"/>
<ellipse cx="-8" cy="-13" rx="8" ry="3" fill="#c86c6c" opacity="0.8"/>
</g></g>
<ellipse cx="383.50" cy="346.75" rx="19.2" ry="16.9" fill="none" stroke="#8e968c" stroke-width="1.1" opacity="0.9"/>
</g>
<clipPath id="c8_0"><rect x="317.2" y="364.90" width="41.6" height="38.10"/></clipPath>
<clipPath id="c8_0d"><ellipse cx="338.00" cy="383.95" rx="19.7" ry="17.4"/></clipPath>
<g clip-path="url(#c8_0)">
<rect x="317.2" y="364.90" width="41.6" height="38.10" fill="#3c3842"/>
<ellipse cx="338.00" cy="383.95" rx="19.7" ry="17.4" fill="#dcdcd8"/>
<g clip-path="url(#c8_0d)"><g transform="translate(338.00,383.95)">
<ellipse cx="6.2" cy="-14.8" rx="2.5" ry="0.9" transform="rotate(125 6.2 -14.8)" fill="#c3c3bf" opacity="0.55"/>
<ellipse cx="4.8" cy="5.9" rx="1.0" ry="1.2" transform="rotate(84 4.8 5.9)" fill="#aeaeab" opacity="0.55"/>
<ellipse cx="11.8" cy="-4.0" rx="1.4" ry="1.6" transform="rotate(143 11.8 -4.0)" fill="#cacac6" opacity="0.55"/>
<ellipse cx="17.0" cy="-2.9" rx="2.4" ry="1.6" transform="rotate(94 17.0 -2.9)" fill="#e0e0dd" opacity="0.55"/>
<ellipse cx="3.1" cy="11.5" rx="2.4" ry="1.0" transform="rotate(136 3.1 11.5)" fill="#bdbdba" opacity="0.55"/>
<ellipse cx="15.2" cy="-0.1" rx="1.7" ry="1.4" transform="rotate(102 15.2 -0.1)" fill="#dededa" opacity="0.55"/>
<ellipse cx="-2.6" cy="-1.7" rx="1.2" ry="1.0" transform="rotate(36 -2.6 -1.7)" fill="#d2d2ce" opacity="0.55"/>
<ellipse cx="13.5" cy="-8.8" rx="2.0" ry="1.0" transform="rotate(43 13.5 -8.8)" fill="#ddddd9" opacity="0.55"/>
<ellipse cx="6.1" cy="8.1" rx="2.1" ry="1.5" transform="rotate(148 6.1 8.1)" fill="#d1d1cd" opacity="0.55"/>
<ellipse cx="4.6" cy="3.3" rx="1.1" ry="0.6" transform="rotate(78 4.6 3.3)" fill="#acaca8" opacity="0.55"/>
<ellipse cx="14.6" cy="5.7" rx="2.0" ry="1.8" transform="rotate(77 14.6 5.7)" fill="#d6d6d2" opacity="0.55"/>
<ellipse cx="-12.9" cy="-7.0" rx="1.7" ry="1.3" transform="rotate(65 -12.9 -7.0)" fill="#e1e1de" opacity="0.55"/>
<ellipse cx="8.7" cy="-5.9" rx="1.1" ry="1.2" transform="rotate(169 8.7 -5.9)" fill="#cbcbc7" opacity="0.55"/>
<ellipse cx="2.2" cy="12.2" rx="1.5" ry="1.4" transform="rotate(0 2.2 12.2)" fill="#b7b7b3" opacity="0.55"/>
<ellipse cx="-2.3" cy="-5.4" rx="2.4" ry="1.5" transform="rotate(158 -2.3 -5.4)" fill="#d2d2ce" opacity="0.55"/>
<ellipse cx="4.5" cy="-1.6" rx="1.7" ry="1.4" transform="rotate(51 4.5 -1.6)" fill="#c1c1bd" opacity="0.55"/>
<ellipse cx="10.0" cy="7.5" rx="1.5" ry="1.7" transform="rotate(166 10.0 7.5)" fill="#c1c1bd" opacity="0.55"/>
<ellipse cx="-1.2" cy="-8.4" rx="1.7" ry="0.8" transform="rotate(97 -1.2 -8.4)" fill="#b8b8b5" opacity="0.55"/>
<ellipse cx="2.0" cy="-8.1" rx="1.3" ry="1.7" transform="rotate(96 2.0 -8.1)" fill="#e1e1dd" opacity="0.55"/>
<ellipse cx="10.2" cy="6.6" rx="2.6" ry="1.0" transform="rotate(46 10.2 6.6)" fill="#e1e1dd" opacity="0.55"/>
<ellipse cx="0.2" cy="-12.8" rx="2.0" ry="1.0" transform="rotate(49 0.2 -12.8)" fill="#e0e0dc" opacity="0.55"/>
<ellipse cx="1.1" cy="-6.8" rx="1.6" ry="1.5" transform="rotate(153 1.1 -6.8)" fill="#dfdfdb" opacity="0.55"/>
<ellipse cx="-14.0" cy="-3.7" rx="2.0" ry="1.8" transform="rotate(55 -14.0 -3.7)" fill="#b2b2af" opacity="0.55"/>
<ellipse cx="0.6" cy="-5.0" rx="2.5" ry="1.1" transform="rotate(118 0.6 -5.0)" fill="#e0e0dd" opacity="0.55"/>
<ellipse cx="-0.5" cy="9.1" rx="1.6" ry="1.3" transform="rotate(44 -0.5 9.1)" fill="#dfdfdb" opacity="0.55"/>
<ellipse cx="-8.7" cy="14.4" rx="0.8" ry="1.7" transform="rotate(176 -8.7 14.4)" fill="#b0b0ad" opacity="0.55"/>
<ellipse cx="2.8" cy="13.0" rx="2.2" ry="0.6" transform="rotate(109 2.8 13.0)" fill="#d4d4d1" opacity="0.55"/>
<ellipse cx="3.0" cy="-0.4" rx="1.6" ry="1.3" transform="rotate(32 3.0 -0.4)" fill="#e0e0dc" opacity="0.55"/>
<ellipse cx="13.1" cy="5.8" rx="1.5" ry="0.7" transform="rotate(52 13.1 5.8)" fill="#dfdfdc" opacity="0.55"/>
<ellipse cx="-0.4" cy="-4.8" rx="2.4" ry="1.3" transform="rotate(84 -0.4 -4.8)" fill="#ababa8" opacity="0.55"/>
<ellipse cx="0" cy="0" rx="8" ry="7" fill="#d4b8a4" opacity="0.8"/>
<ellipse cx="0" cy="0" rx="5" ry="4.5" fill="#e4e4e0" opacity="0.9"/>
<ellipse cx="1" cy="1" rx="3" ry="2.5" fill="#605850" opacity="0.9"/>
<path d="M-14 4 Q-8 8 -4 12" fill="none" stroke="#8a8a80" stroke-width="1" opacity="0.6"/>
</g></g>
<ellipse cx="338.00" cy="383.95" rx="19.2" ry="16.9" fill="none" stroke="#8e968c" stroke-width="1.1" opacity="0.9"/>
</g>
<clipPath id="c8_1"><rect x="362.8" y="364.90" width="41.4" height="38.10"/></clipPath>
<clipPath id="c8_1d"><ellipse cx="383.50" cy="383.95" rx="19.7" ry="17.4"/></clipPath>
<g clip-path="url(#c8_1)">
<rect x="362.8" y="364.90" width="41.4" height="38.10" fill="#343430"/>
<ellipse cx="383.50" cy="383.95" rx="19.7" ry="17.4" fill="#d0c8a0"/>
<g clip-path="url(#c8_1d)"><g transform="translate(383.50,383.95)">
<ellipse cx="10.6" cy="-9.4" rx="1.8" ry="1.2" transform="rotate(81 10.6 -9.4)" fill="#d7d0ae" opacity="0.55"/>
<ellipse cx="3.0" cy="0.7" rx="2.2" ry="0.9" transform="rotate(49 3.0 0.7)" fill="#d0c9a1" opacity="0.55"/>
<ellipse cx="-11.8" cy="4.6" rx="2.4" ry="1.2" transform="rotate(166 -11.8 4.6)" fill="#d0c8a0" opacity="0.55"/>
<ellipse cx="-7.8" cy="10.4" rx="1.6" ry="1.5" transform="rotate(40 -7.8 10.4)" fill="#d4cca8" opacity="0.55"/>
<ellipse cx="-9.7" cy="-11.9" rx="1.2" ry="1.3" transform="rotate(178 -9.7 -11.9)" fill="#c2bb95" opacity="0.55"/>
<ellipse cx="-5.2" cy="-1.5" rx="2.1" ry="1.2" transform="rotate(175 -5.2 -1.5)" fill="#c8c09a" opacity="0.55"/>
<ellipse cx="4.0" cy="16.0" rx="1.6" ry="1.0" transform="rotate(137 4.0 16.0)" fill="#d4cda9" opacity="0.55"/>
<ellipse cx="6.9" cy="-8.8" rx="1.5" ry="1.2" transform="rotate(118 6.9 -8.8)" fill="#c3bb96" opacity="0.55"/>
<ellipse cx="-15.9" cy="2.3" rx="1.9" ry="0.6" transform="rotate(164 -15.9 2.3)" fill="#ccc49d" opacity="0.55"/>
<ellipse cx="-17.0" cy="-5.8" rx="0.8" ry="1.5" transform="rotate(112 -17.0 -5.8)" fill="#d8d1b0" opacity="0.55"/>
<ellipse cx="-7.2" cy="10.4" rx="1.7" ry="1.2" transform="rotate(152 -7.2 10.4)" fill="#a59e7f" opacity="0.55"/>
<ellipse cx="-10.3" cy="10.6" rx="1.0" ry="0.8" transform="rotate(150 -10.3 10.6)" fill="#bab28f" opacity="0.55"/>
<ellipse cx="1.8" cy="5.1" rx="2.5" ry="0.9" transform="rotate(102 1.8 5.1)" fill="#d3cca7" opacity="0.55"/>
<ellipse cx="2.5" cy="-2.5" rx="0.8" ry="1.4" transform="rotate(75 2.5 -2.5)" fill="#d4cda9" opacity="0.55"/>
<ellipse cx="14.3" cy="6.4" rx="2.3" ry="1.2" transform="rotate(50 14.3 6.4)" fill="#d2cba5" opacity="0.55"/>
<ellipse cx="-4.2" cy="15.8" rx="0.8" ry="1.3" transform="rotate(22 -4.2 15.8)" fill="#c3bb96" opacity="0.55"/>
<ellipse cx="3.8" cy="11.1" rx="2.5" ry="1.5" transform="rotate(75 3.8 11.1)" fill="#d7d0ae" opacity="0.55"/>
<ellipse cx="-5.1" cy="-0.8" rx="2.2" ry="1.5" transform="rotate(110 -5.1 -0.8)" fill="#d7d0ae" opacity="0.55"/>
<ellipse cx="-1.6" cy="-12.9" rx="1.5" ry="1.1" transform="rotate(116 -1.6 -12.9)" fill="#c0b994" opacity="0.55"/>
<ellipse cx="-15.6" cy="2.6" rx="1.3" ry="1.8" transform="rotate(60 -15.6 2.6)" fill="#d2cba5" opacity="0.55"/>
<ellipse cx="6.9" cy="-1.5" rx="1.6" ry="1.2" transform="rotate(54 6.9 -1.5)" fill="#d0c8a1" opacity="0.55"/>
<ellipse cx="-6.6" cy="-1.8" rx="1.8" ry="1.0" transform="rotate(139 -6.6 -1.8)" fill="#d1c9a2" opacity="0.55"/>
<ellipse cx="16.5" cy="0.1" rx="2.5" ry="1.4" transform="rotate(134 16.5 0.1)" fill="#d5ceab" opacity="0.55"/>
<ellipse cx="-5.5" cy="12.2" rx="1.6" ry="1.1" transform="rotate(175 -5.5 12.2)" fill="#d0c9a1" opacity="0.55"/>
<ellipse cx="-11.8" cy="-0.7" rx="2.0" ry="1.2" transform="rotate(39 -11.8 -0.7)" fill="#c1ba94" opacity="0.55"/>
<ellipse cx="3.7" cy="-5.9" rx="1.7" ry="1.0" transform="rotate(39 3.7 -5.9)" fill="#bfb893" opacity="0.55"/>
<ellipse cx="14.9" cy="-2.9" rx="1.7" ry="1.1" transform="rotate(148 14.9 -2.9)" fill="#d3cba6" opacity="0.55"/>
<ellipse cx="-5.5" cy="15.7" rx="0.9" ry="1.1" transform="rotate(84 -5.5 15.7)" fill="#d2caa5" opacity="0.55"/>
<ellipse cx="-11.4" cy="-8.7" rx="1.7" ry="1.5" transform="rotate(29 -11.4 -8.7)" fill="#c6be98" opacity="0.55"/>
<ellipse cx="11.6" cy="-4.5" rx="2.5" ry="0.8" transform="rotate(72 11.6 -4.5)" fill="#c4bc97" opacity="0.55"/>
<ellipse cx="8" cy="1" rx="10" ry="13" fill="#aaa270" opacity="0.85"/>
<ellipse cx="-11" cy="3" rx="2.5" ry="2.5" fill="#605840" opacity="0.9"/>
<ellipse cx="-9" cy="-4" rx="4" ry="3" fill="#e4e0c8" opacity="0.8"/>
</g></g>
<ellipse cx="383.50" cy="383.95" rx="19.2" ry="16.9" fill="none" stroke="#8e968c" stroke-width="1.1" opacity="0.9"/>
</g>
<clipPath id="c9_0"><rect x="317.2" y="402.50" width="41.6" height="37.20"/></clipPath>
<clipPath id="c9_0d"><ellipse cx="338.00" cy="421.10" rx="19.7" ry="17.4"/></clipPath>
<g clip-path="url(#c9_0)">
<rect x="317.2" y="402.50" width="41.6" height="37.20" fill="#3a3842"/>
<ellipse cx="338.00" cy="421.10" rx="19.7" ry="17.4" fill="#d8dad4"/>
<g clip-path="url(#c9_0d)"><g transform="translate(338.00,421.10)">
<ellipse cx="-5.9" cy="9.9" rx="2.1" ry="0.7" transform="rotate(24 -5.9 9.9)" fill="#b7b9b4" opacity="0.55"/>
<ellipse cx="13.0" cy="-6.7" rx="1.9" ry="1.3" transform="rotate(14 13.0 -6.7)" fill="#dadcd7" opacity="0.55"/>
<ellipse cx="11.1" cy="-7.9" rx="1.5" ry="1.4" transform="rotate(147 11.1 -7.9)" fill="#b0b2ad" opacity="0.55"/>
<ellipse cx="2.3" cy="-4.9" rx="1.2" ry="1.6" transform="rotate(58 2.3 -4.9)" fill="#b2b3ae" opacity="0.55"/>
<ellipse cx="13.0" cy="-9.1" rx="1.3" ry="1.5" transform="rotate(159 13.0 -9.1)" fill="#d4d6d0" opacity="0.55"/>
<ellipse cx="1.6" cy="9.7" rx="1.6" ry="1.8" transform="rotate(148 1.6 9.7)" fill="#cecfca" opacity="0.55"/>
<ellipse cx="13.4" cy="8.1" rx="1.2" ry="1.0" transform="rotate(174 13.4 8.1)" fill="#d8dad5" opacity="0.55"/>
<ellipse cx="-3.3" cy="4.9" rx="2.1" ry="0.9" transform="rotate(33 -3.3 4.9)" fill="#dee0db" opacity="0.55"/>
<ellipse cx="-9.5" cy="-3.7" rx="0.9" ry="1.2" transform="rotate(150 -9.5 -3.7)" fill="#d9dbd6" opacity="0.55"/>
<ellipse cx="-0.9" cy="-7.1" rx="1.3" ry="1.7" transform="rotate(120 -0.9 -7.1)" fill="#aaaca7" opacity="0.55"/>
<ellipse cx="-9.2" cy="-3.7" rx="1.0" ry="1.2" transform="rotate(112 -9.2 -3.7)" fill="#d3d5cf" opacity="0.55"/>
<ellipse cx="-7.8" cy="-10.6" rx="1.9" ry="1.7" transform="rotate(152 -7.8 -10.6)" fill="#b3b5b0" opacity="0.55"/>
<ellipse cx="-3.6" cy="-14.6" rx="1.4" ry="0.8" transform="rotate(60 -3.6 -14.6)" fill="#a9aba6" opacity="0.55"/>
<ellipse cx="0.0" cy="-5.6" rx="2.1" ry="0.8" transform="rotate(146 0.0 -5.6)" fill="#d4d6d0" opacity="0.55"/>
<ellipse cx="-0.3" cy="-10.8" rx="1.5" ry="1.0" transform="rotate(174 -0.3 -10.8)" fill="#babbb6" opacity="0.55"/>
<ellipse cx="-3.6" cy="-12.2" rx="2.5" ry="0.9" transform="rotate(35 -3.6 -12.2)" fill="#bebfba" opacity="0.55"/>
<ellipse cx="9.3" cy="-0.7" rx="1.8" ry="1.2" transform="rotate(177 9.3 -0.7)" fill="#cfd1cc" opacity="0.55"/>
<ellipse cx="-10.9" cy="-12.2" rx="0.9" ry="1.6" transform="rotate(146 -10.9 -12.2)" fill="#bcbeb8" opacity="0.55"/>
<ellipse cx="-7.0" cy="-4.5" rx="1.4" ry="1.5" transform="rotate(42 -7.0 -4.5)" fill="#d5d7d2" opacity="0.55"/>
<ellipse cx="16.5" cy="-6.7" rx="0.9" ry="1.7" transform="rotate(2 16.5 -6.7)" fill="#d7d9d3" opacity="0.55"/>
<ellipse cx="-7.7" cy="-3.9" rx="2.4" ry="1.8" transform="rotate(116 -7.7 -3.9)" fill="#d9dbd5" opacity="0.55"/>
<ellipse cx="5.7" cy="-3.9" rx="2.4" ry="1.5" transform="rotate(33 5.7 -3.9)" fill="#d7d9d3" opacity="0.55"/>
<ellipse cx="-3.6" cy="-15.4" rx="2.4" ry="0.6" transform="rotate(113 -3.6 -15.4)" fill="#bdbfba" opacity="0.55"/>
<ellipse cx="8.5" cy="-6.6" rx="1.2" ry="1.6" transform="rotate(48 8.5 -6.6)" fill="#d9dbd5" opacity="0.55"/>
<ellipse cx="-12.6" cy="-11.6" rx="1.7" ry="0.9" transform="rotate(82 -12.6 -11.6)" fill="#bbbdb8" opacity="0.55"/>
<ellipse cx="5.2" cy="-3.8" rx="2.0" ry="0.9" transform="rotate(26 5.2 -3.8)" fill="#afb0ab" opacity="0.55"/>
<ellipse cx="14.0" cy="-1.2" rx="1.4" ry="1.6" transform="rotate(36 14.0 -1.2)" fill="#d4d6d0" opacity="0.55"/>
<ellipse cx="-0.9" cy="-4.5" rx="1.9" ry="1.0" transform="rotate(107 -0.9 -4.5)" fill="#dbddd7" opacity="0.55"/>
<ellipse cx="-6.2" cy="-2.7" rx="2.1" ry="1.2" transform="rotate(26 -6.2 -2.7)" fill="#dbddd7" opacity="0.55"/>
<ellipse cx="-4.1" cy="-8.5" rx="1.3" ry="1.3" transform="rotate(156 -4.1 -8.5)" fill="#dfe0db" opacity="0.55"/>
<ellipse cx="0" cy="2" rx="4.4" ry="3" fill="#f0f0ec" opacity="1"/>
<path d="M-12 -2 Q-8 4 -4 10" fill="none" stroke="#6a6a60" stroke-width="1" opacity="0.8"/>
<path d="M4 -8 Q8 -4 12 -4" fill="none" stroke="#6a6a60" stroke-width="1" opacity="0.7"/>
</g></g>
<ellipse cx="338.00" cy="421.10" rx="19.2" ry="16.9" fill="none" stroke="#8e968c" stroke-width="1.1" opacity="0.9"/>
</g>
<clipPath id="c9_1"><rect x="362.8" y="402.50" width="41.4" height="37.20"/></clipPath>
<clipPath id="c9_1d"><ellipse cx="383.50" cy="421.10" rx="19.7" ry="17.4"/></clipPath>
<g clip-path="url(#c9_1)">
<rect x="362.8" y="402.50" width="41.4" height="37.20" fill="#3a3a3a"/>
<ellipse cx="383.50" cy="421.10" rx="19.7" ry="17.4" fill="#c8c0a8"/>
<g clip-path="url(#c9_1d)"><g transform="translate(383.50,421.10)">
<ellipse cx="-5.0" cy="-14.5" rx="1.0" ry="1.6" transform="rotate(52 -5.0 -14.5)" fill="#ccc5af" opacity="0.55"/>
<ellipse cx="6.5" cy="-15.0" rx="2.3" ry="1.5" transform="rotate(84 6.5 -15.0)" fill="#cbc4ad" opacity="0.55"/>
<ellipse cx="1.4" cy="-1.0" rx="1.1" ry="0.7" transform="rotate(126 1.4 -1.0)" fill="#a29c88" opacity="0.55"/>
<ellipse cx="8.1" cy="-10.7" rx="1.9" ry="1.2" transform="rotate(170 8.1 -10.7)" fill="#b4ad97" opacity="0.55"/>
<ellipse cx="10.7" cy="-4.4" rx="1.2" ry="0.7" transform="rotate(142 10.7 -4.4)" fill="#d1cab7" opacity="0.55"/>
<ellipse cx="-3.0" cy="10.7" rx="2.2" ry="1.7" transform="rotate(17 -3.0 10.7)" fill="#c9c1aa" opacity="0.55"/>
<ellipse cx="15.4" cy="-7.7" rx="2.5" ry="1.4" transform="rotate(141 15.4 -7.7)" fill="#aca590" opacity="0.55"/>
<ellipse cx="12.1" cy="11.9" rx="1.9" ry="1.7" transform="rotate(12 12.1 11.9)" fill="#aea792" opacity="0.55"/>
<ellipse cx="7.6" cy="-5.3" rx="2.5" ry="1.5" transform="rotate(23 7.6 -5.3)" fill="#9e9885" opacity="0.55"/>
<ellipse cx="1.2" cy="-8.3" rx="1.6" ry="0.9" transform="rotate(178 1.2 -8.3)" fill="#b2ab95" opacity="0.55"/>
<ellipse cx="2.7" cy="12.1" rx="1.8" ry="1.3" transform="rotate(161 2.7 12.1)" fill="#bcb49d" opacity="0.55"/>
<ellipse cx="-7.3" cy="-2.8" rx="1.9" ry="1.7" transform="rotate(43 -7.3 -2.8)" fill="#b7b09a" opacity="0.55"/>
<ellipse cx="-9.9" cy="-7.8" rx="2.3" ry="1.5" transform="rotate(46 -9.9 -7.8)" fill="#c5bda5" opacity="0.55"/>
<ellipse cx="14.0" cy="-7.9" rx="2.0" ry="0.8" transform="rotate(124 14.0 -7.9)" fill="#afa893" opacity="0.55"/>
<ellipse cx="-1.0" cy="2.3" rx="2.4" ry="0.9" transform="rotate(170 -1.0 2.3)" fill="#c6bea6" opacity="0.55"/>
<ellipse cx="-3.1" cy="-14.1" rx="2.2" ry="1.0" transform="rotate(164 -3.1 -14.1)" fill="#ada691" opacity="0.55"/>
<ellipse cx="5.6" cy="5.6" rx="1.3" ry="1.6" transform="rotate(9 5.6 5.6)" fill="#a09a87" opacity="0.55"/>
<ellipse cx="11.4" cy="7.5" rx="1.6" ry="0.9" transform="rotate(86 11.4 7.5)" fill="#cac3ac" opacity="0.55"/>
<ellipse cx="3.5" cy="-15.8" rx="2.4" ry="1.0" transform="rotate(79 3.5 -15.8)" fill="#a8a18d" opacity="0.55"/>
<ellipse cx="-7.4" cy="-3.5" rx="2.0" ry="1.3" transform="rotate(75 -7.4 -3.5)" fill="#cac2ab" opacity="0.55"/>
<ellipse cx="-1.3" cy="3.9" rx="1.1" ry="0.7" transform="rotate(67 -1.3 3.9)" fill="#a8a28d" opacity="0.55"/>
<ellipse cx="6.0" cy="5.5" rx="1.8" ry="0.7" transform="rotate(160 6.0 5.5)" fill="#cec7b3" opacity="0.55"/>
<ellipse cx="-5.2" cy="-1.8" rx="1.7" ry="1.6" transform="rotate(167 -5.2 -1.8)" fill="#cac3ac" opacity="0.55"/>
<ellipse cx="-9.6" cy="-10.3" rx="2.3" ry="1.2" transform="rotate(128 -9.6 -10.3)" fill="#cec6b1" opacity="0.55"/>
<ellipse cx="-9.1" cy="-11.4" rx="1.5" ry="1.1" transform="rotate(58 -9.1 -11.4)" fill="#cac2ab" opacity="0.55"/>
<ellipse cx="10.9" cy="-2.2" rx="1.7" ry="1.8" transform="rotate(16 10.9 -2.2)" fill="#cec7b1" opacity="0.55"/>
<ellipse cx="-9.7" cy="13.3" rx="1.1" ry="1.5" transform="rotate(20 -9.7 13.3)" fill="#d0c9b5" opacity="0.55"/>
<ellipse cx="-5.3" cy="4.8" rx="1.7" ry="1.7" transform="rotate(155 -5.3 4.8)" fill="#cfc8b4" opacity="0.55"/>
<ellipse cx="-13.9" cy="-5.0" rx="2.5" ry="1.3" transform="rotate(72 -13.9 -5.0)" fill="#c9c1aa" opacity="0.55"/>
<ellipse cx="2.6" cy="-16.2" rx="2.2" ry="1.0" transform="rotate(124 2.6 -16.2)" fill="#b6af99" opacity="0.55"/>
<path d="M-2 -6 Q2 -4 1 2 Q3 8 0 12 L-3 12 Q-2 4 -4 -2 Z" fill="#5a3c20" opacity="1"/>
<ellipse cx="9" cy="3" rx="8" ry="8" fill="#e4e4de" opacity="1"/>
<ellipse cx="-10" cy="-4" rx="5" ry="4" fill="#d8d0bc" opacity="0.8"/>
</g></g>
<ellipse cx="383.50" cy="421.10" rx="19.2" ry="16.9" fill="none" stroke="#8e968c" stroke-width="1.1" opacity="0.9"/>
</g>
<clipPath id="c10_0"><rect x="317.2" y="439.20" width="41.6" height="34.90"/></clipPath>
<clipPath id="c10_0d"><ellipse cx="338.00" cy="456.65" rx="19.7" ry="17.4"/></clipPath>
<g clip-path="url(#c10_0)">
<rect x="317.2" y="439.20" width="41.6" height="34.90" fill="#34343a"/>
<ellipse cx="338.00" cy="456.65" rx="19.7" ry="17.4" fill="#c8c4a2"/>
<g clip-path="url(#c10_0d)"><g transform="translate(338.00,456.65)">
<ellipse cx="-8.6" cy="-9.2" rx="2.4" ry="0.9" transform="rotate(23 -8.6 -9.2)" fill="#a4a185" opacity="0.55"/>
<ellipse cx="-4.4" cy="4.7" rx="2.5" ry="1.3" transform="rotate(77 -4.4 4.7)" fill="#bab697" opacity="0.55"/>
<ellipse cx="15.6" cy="-2.8" rx="1.5" ry="0.8" transform="rotate(9 15.6 -2.8)" fill="#cbc8a8" opacity="0.55"/>
<ellipse cx="-12.2" cy="3.5" rx="1.9" ry="1.7" transform="rotate(91 -12.2 3.5)" fill="#ccc8a9" opacity="0.55"/>
<ellipse cx="4.7" cy="-10.3" rx="1.8" ry="1.0" transform="rotate(82 4.7 -10.3)" fill="#cfcbae" opacity="0.55"/>
<ellipse cx="9.3" cy="2.4" rx="2.5" ry="1.8" transform="rotate(124 9.3 2.4)" fill="#cbc8a8" opacity="0.55"/>
<ellipse cx="10.4" cy="-10.0" rx="2.2" ry="1.1" transform="rotate(139 10.4 -10.0)" fill="#aaa689" opacity="0.55"/>
<ellipse cx="-14.3" cy="-3.1" rx="1.3" ry="1.4" transform="rotate(136 -14.3 -3.1)" fill="#c6c2a0" opacity="0.55"/>
<ellipse cx="-5.5" cy="1.9" rx="2.0" ry="0.6" transform="rotate(23 -5.5 1.9)" fill="#c8c4a2" opacity="0.55"/>
<ellipse cx="-11.0" cy="-7.6" rx="2.5" ry="0.6" transform="rotate(36 -11.0 -7.6)" fill="#c5c19f" opacity="0.55"/>
<ellipse cx="-6.1" cy="14.1" rx="2.3" ry="1.6" transform="rotate(31 -6.1 14.1)" fill="#cbc8a8" opacity="0.55"/>
<ellipse cx="13.2" cy="1.7" rx="1.9" ry="1.3" transform="rotate(3 13.2 1.7)" fill="#aca98b" opacity="0.55"/>
<ellipse cx="-13.7" cy="3.7" rx="1.0" ry="1.4" transform="rotate(165 -13.7 3.7)" fill="#a5a285" opacity="0.55"/>
<ellipse cx="6.3" cy="-10.4" rx="0.9" ry="1.1" transform="rotate(134 6.3 -10.4)" fill="#c2be9d" opacity="0.55"/>
<ellipse cx="18.0" cy="4.1" rx="2.3" ry="1.4" transform="rotate(99 18.0 4.1)" fill="#b8b595" opacity="0.55"/>
<ellipse cx="1.8" cy="13.0" rx="1.8" ry="0.9" transform="rotate(43 1.8 13.0)" fill="#aca98b" opacity="0.55"/>
<ellipse cx="-7.8" cy="2.5" rx="1.0" ry="1.7" transform="rotate(0 -7.8 2.5)" fill="#ccc8a9" opacity="0.55"/>
<ellipse cx="3.1" cy="16.1" rx="0.9" ry="0.6" transform="rotate(124 3.1 16.1)" fill="#bab797" opacity="0.55"/>
<ellipse cx="12.1" cy="0.9" rx="2.1" ry="1.2" transform="rotate(80 12.1 0.9)" fill="#ccc8a9" opacity="0.55"/>
<ellipse cx="11.0" cy="-3.8" rx="2.0" ry="1.3" transform="rotate(71 11.0 -3.8)" fill="#aba88b" opacity="0.55"/>
<ellipse cx="14.9" cy="7.2" rx="1.5" ry="1.7" transform="rotate(107 14.9 7.2)" fill="#adaa8c" opacity="0.55"/>
<ellipse cx="-0.4" cy="8.4" rx="1.3" ry="1.8" transform="rotate(54 -0.4 8.4)" fill="#a8a588" opacity="0.55"/>
<ellipse cx="-0.2" cy="16.2" rx="2.4" ry="0.7" transform="rotate(48 -0.2 16.2)" fill="#c8c4a2" opacity="0.55"/>
<ellipse cx="-9.8" cy="-11.0" rx="1.7" ry="1.7" transform="rotate(20 -9.8 -11.0)" fill="#bcb898" opacity="0.55"/>
<ellipse cx="5.9" cy="-13.0" rx="2.2" ry="1.6" transform="rotate(116 5.9 -13.0)" fill="#bab696" opacity="0.55"/>
<ellipse cx="-5.2" cy="9.5" rx="1.2" ry="1.2" transform="rotate(69 -5.2 9.5)" fill="#a6a286" opacity="0.55"/>
<ellipse cx="7.4" cy="6.4" rx="1.6" ry="1.0" transform="rotate(49 7.4 6.4)" fill="#ccc9aa" opacity="0.55"/>
<ellipse cx="-8.7" cy="-3.8" rx="1.1" ry="1.6" transform="rotate(80 -8.7 -3.8)" fill="#bfbb9b" opacity="0.55"/>
<ellipse cx="0.0" cy="-2.4" rx="1.0" ry="0.9" transform="rotate(156 0.0 -2.4)" fill="#aba88a" opacity="0.55"/>
<ellipse cx="1.5" cy="1.5" rx="2.0" ry="1.7" transform="rotate(90 1.5 1.5)" fill="#d0ccaf" opacity="0.55"/>
<ellipse cx="0" cy="0" rx="12" ry="10" fill="#d8d8c8" opacity="0.8"/>
</g></g>
<ellipse cx="338.00" cy="456.65" rx="19.2" ry="16.9" fill="none" stroke="#8e968c" stroke-width="1.1" opacity="0.9"/>
</g>
<clipPath id="c10_1"><rect x="362.8" y="439.20" width="41.4" height="34.90"/></clipPath>
<clipPath id="c10_1d"><ellipse cx="383.50" cy="456.65" rx="19.7" ry="17.4"/></clipPath>
<g clip-path="url(#c10_1)">
<rect x="362.8" y="439.20" width="41.4" height="34.90" fill="#303030"/>
<ellipse cx="383.50" cy="456.65" rx="19.7" ry="17.4" fill="#d4d4c4"/>
<g clip-path="url(#c10_1d)"><g transform="translate(383.50,456.65)">
<ellipse cx="14.8" cy="2.7" rx="1.6" ry="1.0" transform="rotate(110 14.8 2.7)" fill="#cecebf" opacity="0.55"/>
<ellipse cx="4.5" cy="1.4" rx="1.5" ry="0.8" transform="rotate(103 4.5 1.4)" fill="#d9d9ca" opacity="0.55"/>
<ellipse cx="-0.6" cy="-6.5" rx="1.0" ry="0.7" transform="rotate(77 -0.6 -6.5)" fill="#bcbcae" opacity="0.55"/>
<ellipse cx="7.0" cy="-5.0" rx="0.9" ry="1.2" transform="rotate(116 7.0 -5.0)" fill="#babaac" opacity="0.55"/>
<ellipse cx="1.2" cy="-3.5" rx="2.3" ry="0.9" transform="rotate(117 1.2 -3.5)" fill="#bebeaf" opacity="0.55"/>
<ellipse cx="-17.8" cy="4.7" rx="0.9" ry="1.2" transform="rotate(166 -17.8 4.7)" fill="#d9d9cc" opacity="0.55"/>
<ellipse cx="6.8" cy="10.9" rx="1.9" ry="1.1" transform="rotate(22 6.8 10.9)" fill="#abab9e" opacity="0.55"/>
<ellipse cx="16.0" cy="-3.4" rx="1.4" ry="0.6" transform="rotate(30 16.0 -3.4)" fill="#d9d9ca" opacity="0.55"/>
<ellipse cx="17.0" cy="-0.3" rx="2.5" ry="1.0" transform="rotate(122 17.0 -0.3)" fill="#c0c0b1" opacity="0.55"/>
<ellipse cx="-6.8" cy="6.0" rx="2.3" ry="1.4" transform="rotate(175 -6.8 6.0)" fill="#d7d7c8" opacity="0.55"/>
<ellipse cx="-1.0" cy="13.3" rx="0.8" ry="0.8" transform="rotate(37 -1.0 13.3)" fill="#c4c4b5" opacity="0.55"/>
<ellipse cx="1.1" cy="-15.1" rx="0.9" ry="1.1" transform="rotate(121 1.1 -15.1)" fill="#b1b1a4" opacity="0.55"/>
<ellipse cx="9.8" cy="7.1" rx="1.3" ry="1.0" transform="rotate(174 9.8 7.1)" fill="#c9c9b9" opacity="0.55"/>
<ellipse cx="-12.5" cy="-9.3" rx="0.9" ry="1.3" transform="rotate(113 -12.5 -9.3)" fill="#d5d5c6" opacity="0.55"/>
<ellipse cx="0.5" cy="-0.7" rx="2.1" ry="1.0" transform="rotate(97 0.5 -0.7)" fill="#adada0" opacity="0.55"/>
<ellipse cx="2.6" cy="-3.4" rx="1.0" ry="1.4" transform="rotate(129 2.6 -3.4)" fill="#d7d7c8" opacity="0.55"/>
<ellipse cx="12.6" cy="2.2" rx="1.8" ry="1.1" transform="rotate(127 12.6 2.2)" fill="#d4d4c4" opacity="0.55"/>
<ellipse cx="-11.1" cy="-1.4" rx="2.3" ry="0.9" transform="rotate(38 -11.1 -1.4)" fill="#dbdbce" opacity="0.55"/>
<ellipse cx="-0.9" cy="-5.3" rx="2.1" ry="0.6" transform="rotate(177 -0.9 -5.3)" fill="#d7d7c9" opacity="0.55"/>
<ellipse cx="-1.4" cy="-5.1" rx="1.4" ry="1.4" transform="rotate(164 -1.4 -5.1)" fill="#c0c0b1" opacity="0.55"/>
<ellipse cx="-3.8" cy="10.5" rx="1.5" ry="1.0" transform="rotate(84 -3.8 10.5)" fill="#d8d8ca" opacity="0.55"/>
<ellipse cx="9.1" cy="7.5" rx="2.0" ry="1.4" transform="rotate(14 9.1 7.5)" fill="#d8d8c9" opacity="0.55"/>
<ellipse cx="1.8" cy="12.2" rx="1.6" ry="1.2" transform="rotate(63 1.8 12.2)" fill="#b7b7a9" opacity="0.55"/>
<ellipse cx="16.8" cy="-6.3" rx="1.4" ry="0.7" transform="rotate(160 16.8 -6.3)" fill="#d7d7c9" opacity="0.55"/>
<ellipse cx="14.1" cy="-9.4" rx="1.5" ry="0.6" transform="rotate(73 14.1 -9.4)" fill="#bfbfb0" opacity="0.55"/>
<ellipse cx="-15.6" cy="0.9" rx="1.2" ry="1.3" transform="rotate(163 -15.6 0.9)" fill="#b1b1a3" opacity="0.55"/>
<ellipse cx="-1.7" cy="0.3" rx="2.5" ry="1.6" transform="rotate(136 -1.7 0.3)" fill="#d8d8ca" opacity="0.55"/>
<ellipse cx="8.2" cy="-0.7" rx="1.5" ry="1.1" transform="rotate(54 8.2 -0.7)" fill="#c8c8b9" opacity="0.55"/>
<ellipse cx="-7.3" cy="14.4" rx="0.8" ry="1.3" transform="rotate(131 -7.3 14.4)" fill="#d8d8c9" opacity="0.55"/>
<ellipse cx="-6.5" cy="14.0" rx="1.1" ry="1.4" transform="rotate(122 -6.5 14.0)" fill="#dbdbcd" opacity="0.55"/>
<ellipse cx="10" cy="1" rx="8.5" ry="8.5" fill="#e8e8e0" opacity="1"/>
<ellipse cx="-11" cy="2" rx="3" ry="3" fill="#5a5040" opacity="0.8"/>
</g></g>
<ellipse cx="383.50" cy="456.65" rx="19.2" ry="16.9" fill="none" stroke="#8e968c" stroke-width="1.1" opacity="0.9"/>
</g>
<clipPath id="c11_0"><rect x="317.2" y="473.60" width="41.6" height="38.10"/></clipPath>
<clipPath id="c11_0d"><ellipse cx="338.00" cy="492.65" rx="19.7" ry="17.4"/></clipPath>
<g clip-path="url(#c11_0)">
<rect x="317.2" y="473.60" width="41.6" height="38.10" fill="#3c3c3c"/>
<ellipse cx="338.00" cy="492.65" rx="19.7" ry="17.4" fill="#a8ba84"/>
<g clip-path="url(#c11_0d)"><g transform="translate(338.00,492.65)">
<ellipse cx="6.4" cy="-10.2" rx="2.5" ry="0.9" transform="rotate(163 6.4 -10.2)" fill="#a8ba84" opacity="0.55"/>
<ellipse cx="3.2" cy="11.5" rx="1.7" ry="0.7" transform="rotate(6 3.2 11.5)" fill="#acbd8a" opacity="0.55"/>
<ellipse cx="-13.2" cy="-1.8" rx="1.6" ry="1.1" transform="rotate(55 -13.2 -1.8)" fill="#8d9c6f" opacity="0.55"/>
<ellipse cx="9.3" cy="-5.3" rx="1.9" ry="0.7" transform="rotate(139 9.3 -5.3)" fill="#9dae7c" opacity="0.55"/>
<ellipse cx="-17.4" cy="2.1" rx="0.9" ry="1.6" transform="rotate(124 -17.4 2.1)" fill="#859368" opacity="0.55"/>
<ellipse cx="-14.2" cy="8.9" rx="1.7" ry="1.4" transform="rotate(126 -14.2 8.9)" fill="#a6b882" opacity="0.55"/>
<ellipse cx="1.0" cy="-7.6" rx="1.4" ry="1.6" transform="rotate(22 1.0 -7.6)" fill="#96a676" opacity="0.55"/>
<ellipse cx="4.3" cy="-10.1" rx="1.3" ry="1.3" transform="rotate(16 4.3 -10.1)" fill="#839167" opacity="0.55"/>
<ellipse cx="17.2" cy="-5.9" rx="1.8" ry="0.7" transform="rotate(102 17.2 -5.9)" fill="#88976b" opacity="0.55"/>
<ellipse cx="-1.1" cy="-1.9" rx="1.8" ry="1.0" transform="rotate(17 -1.1 -1.9)" fill="#92a172" opacity="0.55"/>
<ellipse cx="-8.4" cy="6.7" rx="1.7" ry="1.6" transform="rotate(155 -8.4 6.7)" fill="#adbe8b" opacity="0.55"/>
<ellipse cx="7.7" cy="12.5" rx="1.6" ry="1.1" transform="rotate(128 7.7 12.5)" fill="#a7b983" opacity="0.55"/>
<ellipse cx="11.1" cy="1.8" rx="1.4" ry="1.0" transform="rotate(29 11.1 1.8)" fill="#95a575" opacity="0.55"/>
<ellipse cx="-4.9" cy="10.1" rx="2.3" ry="0.9" transform="rotate(32 -4.9 10.1)" fill="#8c9b6e" opacity="0.55"/>
<ellipse cx="-4.4" cy="-7.6" rx="1.3" ry="1.4" transform="rotate(164 -4.4 -7.6)" fill="#9bac7a" opacity="0.55"/>
<ellipse cx="12.6" cy="5.8" rx="1.7" ry="1.2" transform="rotate(63 12.6 5.8)" fill="#a8ba84" opacity="0.55"/>
<ellipse cx="13.0" cy="-6.4" rx="1.9" ry="1.2" transform="rotate(29 13.0 -6.4)" fill="#869469" opacity="0.55"/>
<ellipse cx="3.6" cy="-4.7" rx="1.6" ry="1.6" transform="rotate(144 3.6 -4.7)" fill="#adbe8c" opacity="0.55"/>
<ellipse cx="1.9" cy="8.7" rx="2.5" ry="1.7" transform="rotate(65 1.9 8.7)" fill="#9fb07c" opacity="0.55"/>
<ellipse cx="14.0" cy="9.0" rx="1.7" ry="1.3" transform="rotate(112 14.0 9.0)" fill="#a2b47f" opacity="0.55"/>
<ellipse cx="7.1" cy="-11.7" rx="2.6" ry="1.3" transform="rotate(46 7.1 -11.7)" fill="#b0c090" opacity="0.55"/>
<ellipse cx="1.7" cy="-14.0" rx="2.2" ry="1.5" transform="rotate(133 1.7 -14.0)" fill="#a9bb86" opacity="0.55"/>
<ellipse cx="1.5" cy="11.6" rx="2.0" ry="1.6" transform="rotate(59 1.5 11.6)" fill="#adbe8b" opacity="0.55"/>
<ellipse cx="8.8" cy="-10.8" rx="0.9" ry="1.3" transform="rotate(91 8.8 -10.8)" fill="#abbc89" opacity="0.55"/>
<ellipse cx="7.2" cy="-10.8" rx="1.5" ry="0.9" transform="rotate(173 7.2 -10.8)" fill="#b6c599" opacity="0.55"/>
<ellipse cx="-4.9" cy="-5.2" rx="1.8" ry="1.7" transform="rotate(31 -4.9 -5.2)" fill="#b5c496" opacity="0.55"/>
<ellipse cx="-0.5" cy="0.1" rx="1.9" ry="1.7" transform="rotate(23 -0.5 0.1)" fill="#8a996c" opacity="0.55"/>
<ellipse cx="-10.6" cy="-7.9" rx="2.3" ry="1.0" transform="rotate(90 -10.6 -7.9)" fill="#b1c191" opacity="0.55"/>
<ellipse cx="10.7" cy="-7.9" rx="1.2" ry="1.4" transform="rotate(140 10.7 -7.9)" fill="#9eaf7c" opacity="0.55"/>
<ellipse cx="-12.8" cy="-6.6" rx="2.6" ry="1.2" transform="rotate(22 -12.8 -6.6)" fill="#b3c293" opacity="0.55"/>
<ellipse cx="0" cy="1" rx="15" ry="13" fill="#7a9458" opacity="0.75"/>
<ellipse cx="-4" cy="-2" rx="6" ry="5" fill="#6a8448" opacity="0.6"/>
<ellipse cx="0" cy="1" rx="3" ry="2.5" fill="#b0a060" opacity="0.9"/>
</g></g>
<ellipse cx="338.00" cy="492.65" rx="19.2" ry="16.9" fill="none" stroke="#8e968c" stroke-width="1.1" opacity="0.9"/>
</g>
<clipPath id="c11_1"><rect x="362.8" y="473.60" width="41.4" height="38.10"/></clipPath>
<clipPath id="c11_1d"><ellipse cx="383.50" cy="492.65" rx="19.7" ry="17.4"/></clipPath>
<g clip-path="url(#c11_1)">
<rect x="362.8" y="473.60" width="41.4" height="38.10" fill="#3a3834"/>
<ellipse cx="383.50" cy="492.65" rx="19.7" ry="17.4" fill="#ccc494"/>
<g clip-path="url(#c11_1d)"><g transform="translate(383.50,492.65)">
<ellipse cx="-10.9" cy="9.2" rx="2.2" ry="1.0" transform="rotate(123 -10.9 9.2)" fill="#cbc393" opacity="0.55"/>
<ellipse cx="13.4" cy="3.2" rx="1.5" ry="1.8" transform="rotate(176 13.4 3.2)" fill="#c0b98b" opacity="0.55"/>
<ellipse cx="7.1" cy="-12.3" rx="2.4" ry="0.7" transform="rotate(158 7.1 -12.3)" fill="#bfb88a" opacity="0.55"/>
<ellipse cx="-1.0" cy="-10.9" rx="1.1" ry="1.6" transform="rotate(8 -1.0 -10.9)" fill="#cac293" opacity="0.55"/>
<ellipse cx="-0.3" cy="11.6" rx="1.0" ry="1.5" transform="rotate(25 -0.3 11.6)" fill="#a29c75" opacity="0.55"/>
<ellipse cx="9.3" cy="-12.2" rx="1.0" ry="1.3" transform="rotate(169 9.3 -12.2)" fill="#cec79a" opacity="0.55"/>
<ellipse cx="-4.9" cy="1.0" rx="2.2" ry="1.3" transform="rotate(113 -4.9 1.0)" fill="#b0a980" opacity="0.55"/>
<ellipse cx="5.6" cy="-15.1" rx="2.5" ry="0.7" transform="rotate(62 5.6 -15.1)" fill="#b0a97f" opacity="0.55"/>
<ellipse cx="-6.1" cy="12.5" rx="1.2" ry="1.7" transform="rotate(178 -6.1 12.5)" fill="#d1ca9f" opacity="0.55"/>
<ellipse cx="-13.6" cy="9.2" rx="1.0" ry="1.6" transform="rotate(3 -13.6 9.2)" fill="#c7bf90" opacity="0.55"/>
<ellipse cx="-0.9" cy="-3.7" rx="1.8" ry="1.0" transform="rotate(57 -0.9 -3.7)" fill="#cfc89b" opacity="0.55"/>
<ellipse cx="13.0" cy="-10.2" rx="2.3" ry="1.8" transform="rotate(167 13.0 -10.2)" fill="#d3cca4" opacity="0.55"/>
<ellipse cx="-3.5" cy="5.5" rx="1.4" ry="1.2" transform="rotate(23 -3.5 5.5)" fill="#d3cca3" opacity="0.55"/>
<ellipse cx="-16.2" cy="-4.4" rx="2.5" ry="1.3" transform="rotate(43 -16.2 -4.4)" fill="#beb78a" opacity="0.55"/>
<ellipse cx="-2.7" cy="-6.2" rx="1.1" ry="1.8" transform="rotate(63 -2.7 -6.2)" fill="#d3cda4" opacity="0.55"/>
<ellipse cx="15.1" cy="2.9" rx="2.3" ry="1.7" transform="rotate(173 15.1 2.9)" fill="#cfc89b" opacity="0.55"/>
<ellipse cx="-4.4" cy="6.1" rx="1.2" ry="1.0" transform="rotate(86 -4.4 6.1)" fill="#a69f78" opacity="0.55"/>
<ellipse cx="-6.9" cy="-8.4" rx="0.8" ry="0.8" transform="rotate(36 -6.9 -8.4)" fill="#b2ab81" opacity="0.55"/>
<ellipse cx="-16.9" cy="-2.2" rx="2.0" ry="1.8" transform="rotate(56 -16.9 -2.2)" fill="#d4cda4" opacity="0.55"/>
<ellipse cx="6.0" cy="13.2" rx="2.0" ry="0.8" transform="rotate(158 6.0 13.2)" fill="#c4bc8e" opacity="0.55"/>
<ellipse cx="-18.1" cy="0.1" rx="0.9" ry="1.2" transform="rotate(38 -18.1 0.1)" fill="#d0c99d" opacity="0.55"/>
<ellipse cx="9.4" cy="0.4" rx="1.1" ry="0.6" transform="rotate(83 9.4 0.4)" fill="#b2ab81" opacity="0.55"/>
<ellipse cx="-6.2" cy="-6.1" rx="2.2" ry="1.7" transform="rotate(48 -6.2 -6.1)" fill="#b8b085" opacity="0.55"/>
<ellipse cx="4.8" cy="-9.8" rx="1.1" ry="1.8" transform="rotate(71 4.8 -9.8)" fill="#beb68a" opacity="0.55"/>
<ellipse cx="-9.4" cy="-7.7" rx="1.0" ry="1.0" transform="rotate(151 -9.4 -7.7)" fill="#ada67e" opacity="0.55"/>
<ellipse cx="10.4" cy="12.2" rx="1.5" ry="1.7" transform="rotate(21 10.4 12.2)" fill="#b0a980" opacity="0.55"/>
<ellipse cx="-9.4" cy="-4.0" rx="2.3" ry="1.5" transform="rotate(48 -9.4 -4.0)" fill="#d0c89c" opacity="0.55"/>
<ellipse cx="4.2" cy="-11.3" rx="0.9" ry="1.0" transform="rotate(167 4.2 -11.3)" fill="#b0a980" opacity="0.55"/>
<ellipse cx="-4.6" cy="-0.3" rx="1.1" ry="1.4" transform="rotate(58 -4.6 -0.3)" fill="#cfc89b" opacity="0.55"/>
<ellipse cx="-5.1" cy="0.2" rx="1.9" ry="1.3" transform="rotate(99 -5.1 0.2)" fill="#cfc79a" opacity="0.55"/>
<path d="M3 -16 Q5 -8 2 0 Q4 8 2 16 L21 16 L21 -16 Z" fill="#9aa84c" opacity="1"/>
<rect x="-15" y="-5" width="7" height="6" fill="#f0f0e8" opacity="1"/>
<rect x="-14" y="-4" width="5" height="4" fill="#5a5040" opacity="1"/>
</g></g>
<ellipse cx="383.50" cy="492.65" rx="19.2" ry="16.9" fill="none" stroke="#8e968c" stroke-width="1.1" opacity="0.9"/>
</g>
<clipPath id="c12_0"><rect x="317.2" y="511.20" width="41.6" height="36.60"/></clipPath>
<clipPath id="c12_0d"><ellipse cx="338.00" cy="529.50" rx="19.7" ry="17.4"/></clipPath>
<g clip-path="url(#c12_0)">
<rect x="317.2" y="511.20" width="41.6" height="36.60" fill="#2c2c3a"/>
<ellipse cx="338.00" cy="529.50" rx="19.7" ry="17.4" fill="#bcbcb4"/>
<g clip-path="url(#c12_0d)"><g transform="translate(338.00,529.50)">
<ellipse cx="6.6" cy="-0.1" rx="2.3" ry="0.7" transform="rotate(6 6.6 -0.1)" fill="#c2c2bb" opacity="0.55"/>
<ellipse cx="-14.4" cy="9.5" rx="1.8" ry="0.8" transform="rotate(159 -14.4 9.5)" fill="#9c9c95" opacity="0.55"/>
<ellipse cx="-15.5" cy="-6.5" rx="2.4" ry="0.8" transform="rotate(71 -15.5 -6.5)" fill="#bebeb6" opacity="0.55"/>
<ellipse cx="-6.9" cy="4.1" rx="1.9" ry="1.3" transform="rotate(99 -6.9 4.1)" fill="#989891" opacity="0.55"/>
<ellipse cx="12.7" cy="4.9" rx="1.7" ry="0.8" transform="rotate(108 12.7 4.9)" fill="#c4c4bd" opacity="0.55"/>
<ellipse cx="3.6" cy="-11.0" rx="2.1" ry="0.7" transform="rotate(118 3.6 -11.0)" fill="#b2b2ab" opacity="0.55"/>
<ellipse cx="1.4" cy="-1.0" rx="2.0" ry="1.3" transform="rotate(9 1.4 -1.0)" fill="#bbbbb3" opacity="0.55"/>
<ellipse cx="-3.4" cy="13.8" rx="1.4" ry="1.1" transform="rotate(33 -3.4 13.8)" fill="#b3b3ac" opacity="0.55"/>
<ellipse cx="-3.9" cy="2.0" rx="1.0" ry="1.2" transform="rotate(60 -3.9 2.0)" fill="#c6c6bf" opacity="0.55"/>
<ellipse cx="5.2" cy="-9.0" rx="2.0" ry="1.4" transform="rotate(86 5.2 -9.0)" fill="#a7a7a0" opacity="0.55"/>
<ellipse cx="5.0" cy="0.6" rx="1.0" ry="1.8" transform="rotate(30 5.0 0.6)" fill="#989892" opacity="0.55"/>
<ellipse cx="-10.6" cy="3.8" rx="2.6" ry="1.4" transform="rotate(98 -10.6 3.8)" fill="#a3a39c" opacity="0.55"/>
<ellipse cx="9.8" cy="-9.8" rx="1.2" ry="0.8" transform="rotate(4 9.8 -9.8)" fill="#bfbfb7" opacity="0.55"/>
<ellipse cx="0.9" cy="15.8" rx="2.4" ry="0.9" transform="rotate(143 0.9 15.8)" fill="#bbbbb3" opacity="0.55"/>
<ellipse cx="-10.1" cy="-13.1" rx="2.5" ry="1.6" transform="rotate(162 -10.1 -13.1)" fill="#bfbfb8" opacity="0.55"/>
<ellipse cx="6.9" cy="14.3" rx="1.3" ry="0.9" transform="rotate(114 6.9 14.3)" fill="#a9a9a2" opacity="0.55"/>
<ellipse cx="-0.5" cy="-14.5" rx="1.4" ry="0.8" transform="rotate(42 -0.5 -14.5)" fill="#a2a29b" opacity="0.55"/>
<ellipse cx="5.5" cy="5.2" rx="2.0" ry="0.8" transform="rotate(7 5.5 5.2)" fill="#c5c5be" opacity="0.55"/>
<ellipse cx="-3.3" cy="-12.4" rx="1.4" ry="0.7" transform="rotate(10 -3.3 -12.4)" fill="#bdbdb5" opacity="0.55"/>
<ellipse cx="17.0" cy="3.2" rx="1.8" ry="1.7" transform="rotate(160 17.0 3.2)" fill="#c1c1ba" opacity="0.55"/>
<ellipse cx="-10.4" cy="-9.5" rx="1.0" ry="0.6" transform="rotate(101 -10.4 -9.5)" fill="#b8b8b0" opacity="0.55"/>
<ellipse cx="7.9" cy="7.3" rx="1.0" ry="1.3" transform="rotate(146 7.9 7.3)" fill="#b6b6ae" opacity="0.55"/>
<ellipse cx="6.5" cy="8.4" rx="0.9" ry="1.2" transform="rotate(26 6.5 8.4)" fill="#c5c5be" opacity="0.55"/>
<ellipse cx="14.1" cy="3.3" rx="1.9" ry="0.9" transform="rotate(62 14.1 3.3)" fill="#a6a69f" opacity="0.55"/>
<ellipse cx="5.9" cy="-6.0" rx="2.1" ry="1.2" transform="rotate(153 5.9 -6.0)" fill="#b6b6ae" opacity="0.55"/>
<ellipse cx="1.1" cy="-6.5" rx="0.9" ry="1.1" transform="rotate(132 1.1 -6.5)" fill="#c3c3bc" opacity="0.55"/>
<ellipse cx="16.2" cy="-1.9" rx="1.3" ry="1.5" transform="rotate(97 16.2 -1.9)" fill="#b8b8b0" opacity="0.55"/>
<ellipse cx="7.9" cy="14.2" rx="1.6" ry="1.3" transform="rotate(158 7.9 14.2)" fill="#a2a29b" opacity="0.55"/>
<ellipse cx="-0.5" cy="4.7" rx="2.4" ry="1.7" transform="rotate(39 -0.5 4.7)" fill="#a9a9a2" opacity="0.55"/>
<ellipse cx="-12.5" cy="-6.8" rx="2.3" ry="1.4" transform="rotate(127 -12.5 -6.8)" fill="#c2c2bb" opacity="0.55"/>
<path d="M-12 -6 Q-4 -4 0 -8 Q2 -2 8 -6" fill="none" stroke="#ececec" stroke-width="1.8" opacity="0.95"/>
<path d="M-6 8 Q-4 10 -2 12" fill="none" stroke="#ececec" stroke-width="1.4" opacity="0.9"/>
<ellipse cx="-10" cy="4" rx="4" ry="3" fill="#8a867c" opacity="0.7"/>
<ellipse cx="8" cy="6" rx="5" ry="3" fill="#d8d8d4" opacity="0.7"/>
</g></g>
<ellipse cx="338.00" cy="529.50" rx="19.2" ry="16.9" fill="none" stroke="#8e968c" stroke-width="1.1" opacity="0.9"/>
</g>
<clipPath id="c12_1"><rect x="362.8" y="511.20" width="41.4" height="36.60"/></clipPath>
<clipPath id="c12_1d"><ellipse cx="383.50" cy="529.50" rx="19.7" ry="17.4"/></clipPath>
<g clip-path="url(#c12_1)">
<rect x="362.8" y="511.20" width="41.4" height="36.60" fill="#34343a"/>
<ellipse cx="383.50" cy="529.50" rx="19.7" ry="17.4" fill="#d4d4d4"/>
<g clip-path="url(#c12_1d)"><g transform="translate(383.50,529.50)">
<ellipse cx="-2.0" cy="-11.9" rx="2.3" ry="1.7" transform="rotate(48 -2.0 -11.9)" fill="#b7b7b7" opacity="0.55"/>
<ellipse cx="0.5" cy="12.3" rx="1.0" ry="1.7" transform="rotate(4 0.5 12.3)" fill="#afafaf" opacity="0.55"/>
<ellipse cx="-11.2" cy="9.8" rx="2.4" ry="0.9" transform="rotate(16 -11.2 9.8)" fill="#dadada" opacity="0.55"/>
<ellipse cx="-14.0" cy="2.1" rx="1.3" ry="1.6" transform="rotate(20 -14.0 2.1)" fill="#b8b8b8" opacity="0.55"/>
<ellipse cx="10.5" cy="13.2" rx="1.2" ry="1.7" transform="rotate(78 10.5 13.2)" fill="#d7d7d7" opacity="0.55"/>
<ellipse cx="-11.5" cy="3.0" rx="1.7" ry="1.0" transform="rotate(135 -11.5 3.0)" fill="#d7d7d7" opacity="0.55"/>
<ellipse cx="-2.5" cy="-10.5" rx="1.2" ry="0.7" transform="rotate(120 -2.5 -10.5)" fill="#cecece" opacity="0.55"/>
<ellipse cx="-8.8" cy="1.9" rx="2.5" ry="0.7" transform="rotate(4 -8.8 1.9)" fill="#d4d4d4" opacity="0.55"/>
<ellipse cx="-1.1" cy="-14.1" rx="2.0" ry="1.0" transform="rotate(148 -1.1 -14.1)" fill="#c2c2c2" opacity="0.55"/>
<ellipse cx="-14.2" cy="-8.9" rx="2.1" ry="0.8" transform="rotate(49 -14.2 -8.9)" fill="#b7b7b7" opacity="0.55"/>
<ellipse cx="-14.9" cy="1.2" rx="1.6" ry="1.8" transform="rotate(107 -14.9 1.2)" fill="#bcbcbc" opacity="0.55"/>
<ellipse cx="14.2" cy="-6.5" rx="2.3" ry="1.7" transform="rotate(43 14.2 -6.5)" fill="#d5d5d5" opacity="0.55"/>
<ellipse cx="-4.0" cy="11.8" rx="1.5" ry="1.1" transform="rotate(41 -4.0 11.8)" fill="#d7d7d7" opacity="0.55"/>
<ellipse cx="-11.4" cy="8.0" rx="1.6" ry="1.1" transform="rotate(77 -11.4 8.0)" fill="#d1d1d1" opacity="0.55"/>
<ellipse cx="1.2" cy="6.7" rx="0.9" ry="1.1" transform="rotate(76 1.2 6.7)" fill="#d7d7d7" opacity="0.55"/>
<ellipse cx="-13.9" cy="-2.4" rx="2.4" ry="0.9" transform="rotate(81 -13.9 -2.4)" fill="#c9c9c9" opacity="0.55"/>
<ellipse cx="-15.2" cy="-2.6" rx="2.0" ry="1.0" transform="rotate(102 -15.2 -2.6)" fill="#d6d6d6" opacity="0.55"/>
<ellipse cx="5.2" cy="12.4" rx="2.0" ry="0.9" transform="rotate(22 5.2 12.4)" fill="#d4d4d4" opacity="0.55"/>
<ellipse cx="12.5" cy="6.7" rx="0.8" ry="1.6" transform="rotate(71 12.5 6.7)" fill="#c7c7c7" opacity="0.55"/>
<ellipse cx="4.9" cy="5.5" rx="1.9" ry="0.9" transform="rotate(35 4.9 5.5)" fill="#b2b2b2" opacity="0.55"/>
<ellipse cx="4.3" cy="6.6" rx="1.7" ry="1.3" transform="rotate(2 4.3 6.6)" fill="#cecece" opacity="0.55"/>
<ellipse cx="-6.4" cy="-2.7" rx="1.2" ry="1.2" transform="rotate(119 -6.4 -2.7)" fill="#d4d4d4" opacity="0.55"/>
<ellipse cx="0.4" cy="11.1" rx="1.9" ry="0.6" transform="rotate(139 0.4 11.1)" fill="#c9c9c9" opacity="0.55"/>
<ellipse cx="7.5" cy="8.1" rx="0.9" ry="0.9" transform="rotate(84 7.5 8.1)" fill="#d5d5d5" opacity="0.55"/>
<ellipse cx="4.3" cy="-5.2" rx="1.5" ry="1.1" transform="rotate(67 4.3 -5.2)" fill="#b0b0b0" opacity="0.55"/>
<ellipse cx="-3.4" cy="-2.8" rx="1.1" ry="1.1" transform="rotate(59 -3.4 -2.8)" fill="#bfbfbf" opacity="0.55"/>
<ellipse cx="-13.4" cy="1.3" rx="1.7" ry="1.5" transform="rotate(73 -13.4 1.3)" fill="#a8a8a8" opacity="0.55"/>
<ellipse cx="-9.7" cy="-13.9" rx="2.2" ry="0.7" transform="rotate(38 -9.7 -13.9)" fill="#bcbcbc" opacity="0.55"/>
<ellipse cx="2.8" cy="-7.5" rx="2.5" ry="1.3" transform="rotate(53 2.8 -7.5)" fill="#cfcfcf" opacity="0.55"/>
<ellipse cx="-2.9" cy="-6.8" rx="2.4" ry="1.4" transform="rotate(178 -2.9 -6.8)" fill="#bfbfbf" opacity="0.55"/>
<ellipse cx="0" cy="0" rx="2.8" ry="2.8" fill="#c89040" opacity="1"/>
</g></g>
<ellipse cx="383.50" cy="529.50" rx="19.2" ry="16.9" fill="none" stroke="#8e968c" stroke-width="1.1" opacity="0.9"/>
</g>
<clipPath id="c13_0"><rect x="317.2" y="547.30" width="41.6" height="36.70"/></clipPath>
<clipPath id="c13_0d"><ellipse cx="338.00" cy="565.65" rx="19.7" ry="17.4"/></clipPath>
<g clip-path="url(#c13_0)">
<rect x="317.2" y="547.30" width="41.6" height="36.70" fill="#34343c"/>
<ellipse cx="338.00" cy="565.65" rx="19.7" ry="17.4" fill="#d0ccb0"/>
<g clip-path="url(#c13_0d)"><g transform="translate(338.00,565.65)">
<ellipse cx="7.6" cy="-12.0" rx="2.1" ry="1.6" transform="rotate(35 7.6 -12.0)" fill="#d5d2b9" opacity="0.55"/>
<ellipse cx="2.5" cy="-2.0" rx="2.3" ry="0.8" transform="rotate(40 2.5 -2.0)" fill="#d6d2ba" opacity="0.55"/>
<ellipse cx="15.8" cy="-5.5" rx="2.5" ry="1.3" transform="rotate(179 15.8 -5.5)" fill="#a4a18b" opacity="0.55"/>
<ellipse cx="4.7" cy="-0.9" rx="1.3" ry="1.3" transform="rotate(11 4.7 -0.9)" fill="#c5c1a7" opacity="0.55"/>
<ellipse cx="-9.2" cy="-13.9" rx="1.7" ry="1.1" transform="rotate(53 -9.2 -13.9)" fill="#d7d4bd" opacity="0.55"/>
<ellipse cx="10.6" cy="9.1" rx="1.1" ry="1.4" transform="rotate(43 10.6 9.1)" fill="#adaa92" opacity="0.55"/>
<ellipse cx="10.8" cy="10.5" rx="1.7" ry="1.7" transform="rotate(104 10.8 10.5)" fill="#c5c1a6" opacity="0.55"/>
<ellipse cx="5.0" cy="1.2" rx="0.9" ry="0.8" transform="rotate(155 5.0 1.2)" fill="#b4b098" opacity="0.55"/>
<ellipse cx="4.7" cy="1.2" rx="1.1" ry="1.8" transform="rotate(75 4.7 1.2)" fill="#c6c2a7" opacity="0.55"/>
<ellipse cx="-9.5" cy="-1.7" rx="1.2" ry="1.6" transform="rotate(150 -9.5 -1.7)" fill="#b4b199" opacity="0.55"/>
<ellipse cx="14.5" cy="-6.1" rx="0.8" ry="1.2" transform="rotate(118 14.5 -6.1)" fill="#aeab93" opacity="0.55"/>
<ellipse cx="0.1" cy="11.9" rx="1.9" ry="1.7" transform="rotate(152 0.1 11.9)" fill="#d5d2b9" opacity="0.55"/>
<ellipse cx="0.3" cy="10.3" rx="2.0" ry="0.8" transform="rotate(72 0.3 10.3)" fill="#b3b098" opacity="0.55"/>
<ellipse cx="-7.6" cy="13.9" rx="1.0" ry="1.8" transform="rotate(60 -7.6 13.9)" fill="#d2ceb4" opacity="0.55"/>
<ellipse cx="-6.8" cy="-8.8" rx="1.4" ry="1.7" transform="rotate(92 -6.8 -8.8)" fill="#c9c5aa" opacity="0.55"/>
<ellipse cx="-12.3" cy="-10.8" rx="2.6" ry="0.8" transform="rotate(158 -12.3 -10.8)" fill="#a8a58e" opacity="0.55"/>
<ellipse cx="0.1" cy="-11.0" rx="1.8" ry="0.9" transform="rotate(152 0.1 -11.0)" fill="#d4d1b8" opacity="0.55"/>
<ellipse cx="-13.2" cy="6.0" rx="2.2" ry="0.8" transform="rotate(180 -13.2 6.0)" fill="#d0ccb0" opacity="0.55"/>
<ellipse cx="-11.9" cy="5.3" rx="2.5" ry="1.7" transform="rotate(168 -11.9 5.3)" fill="#c3c0a5" opacity="0.55"/>
<ellipse cx="-10.0" cy="6.3" rx="0.9" ry="0.7" transform="rotate(173 -10.0 6.3)" fill="#c0bca2" opacity="0.55"/>
<ellipse cx="1.0" cy="7.6" rx="1.6" ry="1.1" transform="rotate(50 1.0 7.6)" fill="#d2ceb3" opacity="0.55"/>
<ellipse cx="8.1" cy="-11.5" rx="1.9" ry="1.5" transform="rotate(98 8.1 -11.5)" fill="#d6d3bb" opacity="0.55"/>
<ellipse cx="-9.1" cy="5.0" rx="1.9" ry="1.6" transform="rotate(4 -9.1 5.0)" fill="#d1cdb3" opacity="0.55"/>
<ellipse cx="-17.1" cy="-1.0" rx="2.2" ry="1.4" transform="rotate(166 -17.1 -1.0)" fill="#d4d1b8" opacity="0.55"/>
<ellipse cx="-3.7" cy="11.3" rx="1.7" ry="1.5" transform="rotate(64 -3.7 11.3)" fill="#bcb99f" opacity="0.55"/>
<ellipse cx="-9.6" cy="-12.2" rx="1.5" ry="1.1" transform="rotate(172 -9.6 -12.2)" fill="#c3bfa5" opacity="0.55"/>
<ellipse cx="8.3" cy="14.2" rx="2.1" ry="1.4" transform="rotate(13 8.3 14.2)" fill="#d0ccb0" opacity="0.55"/>
<ellipse cx="4.8" cy="12.0" rx="1.1" ry="0.7" transform="rotate(176 4.8 12.0)" fill="#d5d1b8" opacity="0.55"/>
<ellipse cx="-11.5" cy="6.4" rx="1.7" ry="1.2" transform="rotate(71 -11.5 6.4)" fill="#b2ae96" opacity="0.55"/>
<ellipse cx="9.7" cy="-2.7" rx="1.2" ry="0.7" transform="rotate(146 9.7 -2.7)" fill="#cbc7ac" opacity="0.55"/>
<ellipse cx="0" cy="3" rx="13" ry="10" fill="#6a7c4c" opacity="1"/>
<ellipse cx="0" cy="-1" rx="4" ry="3" fill="#d0ccb0" opacity="0.9"/>
<ellipse cx="0" cy="-1" rx="2.6" ry="2.2" fill="#c8a040" opacity="1"/>
</g></g>
<ellipse cx="338.00" cy="565.65" rx="19.2" ry="16.9" fill="none" stroke="#8e968c" stroke-width="1.1" opacity="0.9"/>
</g>
<clipPath id="c13_1"><rect x="362.8" y="547.30" width="41.4" height="36.70"/></clipPath>
<clipPath id="c13_1d"><ellipse cx="383.50" cy="565.65" rx="19.7" ry="17.4"/></clipPath>
<g clip-path="url(#c13_1)">
<rect x="362.8" y="547.30" width="41.4" height="36.70" fill="#3c3a42"/>
<ellipse cx="383.50" cy="565.65" rx="19.7" ry="17.4" fill="#d8d0c0"/>
<g clip-path="url(#c13_1d)"><g transform="translate(383.50,565.65)">
<ellipse cx="-15.6" cy="0.5" rx="1.8" ry="1.6" transform="rotate(152 -15.6 0.5)" fill="#d9d1c2" opacity="0.55"/>
<ellipse cx="-5.3" cy="14.7" rx="2.4" ry="1.8" transform="rotate(10 -5.3 14.7)" fill="#beb7a9" opacity="0.55"/>
<ellipse cx="4.7" cy="-15.1" rx="1.4" ry="1.3" transform="rotate(141 4.7 -15.1)" fill="#d9d1c2" opacity="0.55"/>
<ellipse cx="2.3" cy="-5.6" rx="2.3" ry="1.3" transform="rotate(166 2.3 -5.6)" fill="#bfb8aa" opacity="0.55"/>
<ellipse cx="5.6" cy="13.8" rx="2.5" ry="0.8" transform="rotate(122 5.6 13.8)" fill="#dcd4c6" opacity="0.55"/>
<ellipse cx="17.4" cy="1.4" rx="1.4" ry="1.2" transform="rotate(130 17.4 1.4)" fill="#dcd5c6" opacity="0.55"/>
<ellipse cx="-0.2" cy="-4.4" rx="2.2" ry="0.7" transform="rotate(84 -0.2 -4.4)" fill="#dcd5c7" opacity="0.55"/>
<ellipse cx="16.7" cy="3.6" rx="1.1" ry="1.2" transform="rotate(72 16.7 3.6)" fill="#ada79a" opacity="0.55"/>
<ellipse cx="8.6" cy="5.5" rx="1.7" ry="1.2" transform="rotate(128 8.6 5.5)" fill="#ddd7c9" opacity="0.55"/>
<ellipse cx="-13.3" cy="8.7" rx="2.2" ry="1.6" transform="rotate(97 -13.3 8.7)" fill="#cec7b7" opacity="0.55"/>
<ellipse cx="8.2" cy="14.3" rx="2.1" ry="1.0" transform="rotate(15 8.2 14.3)" fill="#cbc3b4" opacity="0.55"/>
<ellipse cx="8.8" cy="10.3" rx="1.5" ry="1.1" transform="rotate(173 8.8 10.3)" fill="#bab3a5" opacity="0.55"/>
<ellipse cx="-0.6" cy="-15.8" rx="2.2" ry="1.2" transform="rotate(110 -0.6 -15.8)" fill="#afa89b" opacity="0.55"/>
<ellipse cx="-16.2" cy="5.1" rx="0.8" ry="1.8" transform="rotate(146 -16.2 5.1)" fill="#ddd6c8" opacity="0.55"/>
<ellipse cx="-17.8" cy="-2.7" rx="0.8" ry="0.9" transform="rotate(102 -17.8 -2.7)" fill="#cac2b3" opacity="0.55"/>
<ellipse cx="7.0" cy="-12.8" rx="2.5" ry="1.7" transform="rotate(104 7.0 -12.8)" fill="#b1ab9e" opacity="0.55"/>
<ellipse cx="11.2" cy="-4.0" rx="2.3" ry="1.2" transform="rotate(166 11.2 -4.0)" fill="#b7b1a3" opacity="0.55"/>
<ellipse cx="-3.6" cy="-4.2" rx="1.2" ry="1.8" transform="rotate(49 -3.6 -4.2)" fill="#ada69a" opacity="0.55"/>
<ellipse cx="-16.3" cy="-5.5" rx="1.2" ry="1.6" transform="rotate(40 -16.3 -5.5)" fill="#beb7a9" opacity="0.55"/>
<ellipse cx="5.4" cy="-7.4" rx="1.9" ry="0.7" transform="rotate(94 5.4 -7.4)" fill="#bfb8aa" opacity="0.55"/>
<ellipse cx="-16.1" cy="1.7" rx="1.7" ry="1.6" transform="rotate(115 -16.1 1.7)" fill="#dad3c4" opacity="0.55"/>
<ellipse cx="10.0" cy="-13.1" rx="1.5" ry="0.8" transform="rotate(177 10.0 -13.1)" fill="#dad2c3" opacity="0.55"/>
<ellipse cx="10.4" cy="2.5" rx="1.4" ry="0.9" transform="rotate(61 10.4 2.5)" fill="#b8b1a4" opacity="0.55"/>
<ellipse cx="-1.6" cy="-14.7" rx="1.8" ry="0.7" transform="rotate(145 -1.6 -14.7)" fill="#bdb6a8" opacity="0.55"/>
<ellipse cx="-2.4" cy="9.4" rx="1.3" ry="1.5" transform="rotate(38 -2.4 9.4)" fill="#b3ac9f" opacity="0.55"/>
<ellipse cx="16.2" cy="-1.9" rx="2.2" ry="1.0" transform="rotate(118 16.2 -1.9)" fill="#c6beb0" opacity="0.55"/>
<ellipse cx="12.3" cy="7.4" rx="1.8" ry="1.3" transform="rotate(19 12.3 7.4)" fill="#d1caba" opacity="0.55"/>
<ellipse cx="-1.6" cy="15.9" rx="1.2" ry="0.6" transform="rotate(138 -1.6 15.9)" fill="#dad2c4" opacity="0.55"/>
<ellipse cx="-1.4" cy="2.6" rx="2.1" ry="1.7" transform="rotate(84 -1.4 2.6)" fill="#b5aea1" opacity="0.55"/>
<ellipse cx="6.6" cy="-6.8" rx="2.5" ry="1.2" transform="rotate(166 6.6 -6.8)" fill="#c4bcae" opacity="0.55"/>
<path d="M5 -15 Q10 -6 6 2 Q2 8 -2 16 L21 16 L21 -15 Z" fill="#4a5a38" opacity="1"/>
<ellipse cx="-12" cy="2" rx="2.5" ry="2.5" fill="#b89868" opacity="0.9"/>
<ellipse cx="11" cy="3" rx="1.6" ry="1.6" fill="#c8a030" opacity="1"/>
</g></g>
<ellipse cx="383.50" cy="565.65" rx="19.2" ry="16.9" fill="none" stroke="#8e968c" stroke-width="1.1" opacity="0.9"/>
</g>
<clipPath id="c14_0"><rect x="317.2" y="583.50" width="41.6" height="35.30"/></clipPath>
<clipPath id="c14_0d"><ellipse cx="338.00" cy="601.15" rx="19.7" ry="17.4"/></clipPath>
<g clip-path="url(#c14_0)">
<rect x="317.2" y="583.50" width="41.6" height="35.30" fill="#a4a4c4"/>
<ellipse cx="338.00" cy="601.15" rx="19.7" ry="17.4" fill="#4c3e30"/>
<g clip-path="url(#c14_0d)"><g transform="translate(338.00,601.15)">
<ellipse cx="2.3" cy="3.0" rx="1.3" ry="1.5" transform="rotate(151 2.3 3.0)" fill="#483a2d" opacity="0.55"/>
<ellipse cx="-1.0" cy="5.3" rx="0.9" ry="0.6" transform="rotate(138 -1.0 5.3)" fill="#493b2e" opacity="0.55"/>
<ellipse cx="-6.7" cy="-2.1" rx="2.5" ry="1.3" transform="rotate(154 -6.7 -2.1)" fill="#514436" opacity="0.55"/>
<ellipse cx="15.1" cy="-5.9" rx="1.5" ry="1.4" transform="rotate(86 15.1 -5.9)" fill="#3d3226" opacity="0.55"/>
<ellipse cx="15.5" cy="7.2" rx="1.6" ry="1.4" transform="rotate(12 15.5 7.2)" fill="#514436" opacity="0.55"/>
<ellipse cx="-7.8" cy="9.5" rx="2.6" ry="1.7" transform="rotate(40 -7.8 9.5)" fill="#3f3327" opacity="0.55"/>
<ellipse cx="-7.4" cy="-3.4" rx="2.2" ry="0.6" transform="rotate(127 -7.4 -3.4)" fill="#493b2e" opacity="0.55"/>
<ellipse cx="1.4" cy="-10.7" rx="1.5" ry="1.7" transform="rotate(123 1.4 -10.7)" fill="#6c6055" opacity="0.55"/>
<ellipse cx="-11.3" cy="-2.3" rx="2.1" ry="1.6" transform="rotate(5 -11.3 -2.3)" fill="#493b2e" opacity="0.55"/>
<ellipse cx="-3.0" cy="1.0" rx="2.1" ry="0.6" transform="rotate(67 -3.0 1.0)" fill="#45392c" opacity="0.55"/>
<ellipse cx="-0.5" cy="-4.5" rx="2.1" ry="1.7" transform="rotate(80 -0.5 -4.5)" fill="#695e52" opacity="0.55"/>
<ellipse cx="-2.3" cy="-11.7" rx="1.0" ry="1.0" transform="rotate(155 -2.3 -11.7)" fill="#4d3f31" opacity="0.55"/>
<ellipse cx="1.0" cy="-0.4" rx="1.0" ry="1.2" transform="rotate(150 1.0 -0.4)" fill="#4b3d2f" opacity="0.55"/>
<ellipse cx="-8.7" cy="-5.9" rx="0.8" ry="0.7" transform="rotate(4 -8.7 -5.9)" fill="#493b2e" opacity="0.55"/>
<ellipse cx="-6.9" cy="5.1" rx="2.2" ry="1.5" transform="rotate(164 -6.9 5.1)" fill="#46392c" opacity="0.55"/>
<ellipse cx="-16.6" cy="0.2" rx="0.9" ry="0.7" transform="rotate(49 -16.6 0.2)" fill="#63574b" opacity="0.55"/>
<ellipse cx="-9.7" cy="-13.2" rx="2.4" ry="1.5" transform="rotate(164 -9.7 -13.2)" fill="#46392c" opacity="0.55"/>
<ellipse cx="-8.3" cy="-10.4" rx="2.4" ry="1.0" transform="rotate(135 -8.3 -10.4)" fill="#45382c" opacity="0.55"/>
<ellipse cx="-3.8" cy="-12.0" rx="1.6" ry="0.8" transform="rotate(108 -3.8 -12.0)" fill="#3f3327" opacity="0.55"/>
<ellipse cx="-9.5" cy="1.8" rx="1.3" ry="1.7" transform="rotate(19 -9.5 1.8)" fill="#524537" opacity="0.55"/>
<ellipse cx="0.8" cy="4.4" rx="1.6" ry="1.3" transform="rotate(54 0.8 4.4)" fill="#483b2d" opacity="0.55"/>
<ellipse cx="6.1" cy="2.9" rx="1.3" ry="1.3" transform="rotate(177 6.1 2.9)" fill="#4a3c2e" opacity="0.55"/>
<ellipse cx="11.8" cy="5.1" rx="1.3" ry="1.1" transform="rotate(80 11.8 5.1)" fill="#504235" opacity="0.55"/>
<ellipse cx="7.4" cy="8.5" rx="1.8" ry="0.7" transform="rotate(26 7.4 8.5)" fill="#3d3126" opacity="0.55"/>
<ellipse cx="-10.4" cy="11.1" rx="2.4" ry="1.5" transform="rotate(114 -10.4 11.1)" fill="#4f4133" opacity="0.55"/>
<ellipse cx="16.4" cy="-4.3" rx="1.4" ry="0.7" transform="rotate(8 16.4 -4.3)" fill="#46392c" opacity="0.55"/>
<ellipse cx="8.8" cy="-8.4" rx="1.8" ry="1.6" transform="rotate(44 8.8 -8.4)" fill="#43362a" opacity="0.55"/>
<ellipse cx="-15.8" cy="-8.5" rx="2.5" ry="0.9" transform="rotate(90 -15.8 -8.5)" fill="#46392c" opacity="0.55"/>
<ellipse cx="11.7" cy="1.0" rx="1.6" ry="1.3" transform="rotate(110 11.7 1.0)" fill="#3c3125" opacity="0.55"/>
<ellipse cx="4.8" cy="13.4" rx="1.9" ry="1.0" transform="rotate(160 4.8 13.4)" fill="#504335" opacity="0.55"/>
<ellipse cx="-8" cy="10" rx="7" ry="4" fill="#e8e8e0" opacity="1"/>
<ellipse cx="-1" cy="-1" rx="2.6" ry="2.2" fill="#ececb8" opacity="1"/>
<ellipse cx="-15" cy="-2" rx="3" ry="4" fill="#e0e0d8" opacity="0.9"/>
<ellipse cx="8" cy="12" rx="4" ry="3" fill="#e0e0d8" opacity="0.8"/>
</g></g>
<ellipse cx="338.00" cy="601.15" rx="19.2" ry="16.9" fill="none" stroke="#8e968c" stroke-width="1.1" opacity="0.9"/>
</g>
<clipPath id="c14_1"><rect x="362.8" y="583.50" width="41.4" height="35.30"/></clipPath>
<clipPath id="c14_1d"><ellipse cx="383.50" cy="601.15" rx="19.7" ry="17.4"/></clipPath>
<g clip-path="url(#c14_1)">
<rect x="362.8" y="583.50" width="41.4" height="35.30" fill="#8a8aa2"/>
<ellipse cx="383.50" cy="601.15" rx="19.7" ry="17.4" fill="#1e1e16"/>
<g clip-path="url(#c14_1d)"><g transform="translate(383.50,601.15)">
<ellipse cx="7.3" cy="-0.5" rx="2.2" ry="1.2" transform="rotate(78 7.3 -0.5)" fill="#181811" opacity="0.55"/>
<ellipse cx="6.1" cy="-13.9" rx="1.6" ry="0.7" transform="rotate(155 6.1 -13.9)" fill="#23231b" opacity="0.55"/>
<ellipse cx="6.8" cy="14.4" rx="1.5" ry="1.6" transform="rotate(131 6.8 14.4)" fill="#1a1a13" opacity="0.55"/>
<ellipse cx="16.0" cy="-2.3" rx="2.3" ry="1.1" transform="rotate(41 16.0 -2.3)" fill="#383831" opacity="0.55"/>
<ellipse cx="-3.6" cy="-0.4" rx="1.5" ry="1.0" transform="rotate(167 -3.6 -0.4)" fill="#2e2e26" opacity="0.55"/>
<ellipse cx="6.7" cy="13.2" rx="0.8" ry="1.3" transform="rotate(18 6.7 13.2)" fill="#1d1d15" opacity="0.55"/>
<ellipse cx="-2.5" cy="-14.8" rx="2.3" ry="0.7" transform="rotate(104 -2.5 -14.8)" fill="#3a3a33" opacity="0.55"/>
<ellipse cx="-10.3" cy="-10.9" rx="1.4" ry="0.9" transform="rotate(67 -10.3 -10.9)" fill="#1c1c14" opacity="0.55"/>
<ellipse cx="4.9" cy="-15.1" rx="1.2" ry="1.0" transform="rotate(126 4.9 -15.1)" fill="#1a1a13" opacity="0.55"/>
<ellipse cx="18.3" cy="2.4" rx="1.3" ry="0.9" transform="rotate(98 18.3 2.4)" fill="#1a1a13" opacity="0.55"/>
<ellipse cx="11.8" cy="5.0" rx="1.3" ry="1.7" transform="rotate(87 11.8 5.0)" fill="#1b1b14" opacity="0.55"/>
<ellipse cx="8.0" cy="-6.8" rx="1.7" ry="0.8" transform="rotate(168 8.0 -6.8)" fill="#1b1b14" opacity="0.55"/>
<ellipse cx="8.6" cy="11.8" rx="2.2" ry="1.2" transform="rotate(120 8.6 11.8)" fill="#191912" opacity="0.55"/>
<ellipse cx="3.2" cy="11.0" rx="1.4" ry="1.7" transform="rotate(61 3.2 11.0)" fill="#1c1c14" opacity="0.55"/>
<ellipse cx="17.1" cy="2.3" rx="2.2" ry="1.8" transform="rotate(62 17.1 2.3)" fill="#181812" opacity="0.55"/>
<ellipse cx="9.6" cy="-5.6" rx="1.4" ry="1.7" transform="rotate(128 9.6 -5.6)" fill="#3b3b34" opacity="0.55"/>
<ellipse cx="-14.5" cy="4.6" rx="0.9" ry="1.0" transform="rotate(178 -14.5 4.6)" fill="#191912" opacity="0.55"/>
<ellipse cx="4.1" cy="12.7" rx="1.0" ry="1.0" transform="rotate(1 4.1 12.7)" fill="#37372f" opacity="0.55"/>
<ellipse cx="8.1" cy="-2.7" rx="2.4" ry="1.2" transform="rotate(68 8.1 -2.7)" fill="#3b3b34" opacity="0.55"/>
<ellipse cx="-3.8" cy="12.6" rx="0.9" ry="1.3" transform="rotate(125 -3.8 12.6)" fill="#282820" opacity="0.55"/>
<ellipse cx="-1.4" cy="-16.1" rx="1.1" ry="1.0" transform="rotate(75 -1.4 -16.1)" fill="#2d2d26" opacity="0.55"/>
<ellipse cx="6.8" cy="12.0" rx="1.5" ry="1.8" transform="rotate(35 6.8 12.0)" fill="#36362f" opacity="0.55"/>
<ellipse cx="17.3" cy="5.5" rx="2.2" ry="0.6" transform="rotate(8 17.3 5.5)" fill="#3a3a33" opacity="0.55"/>
<ellipse cx="-12.2" cy="2.4" rx="2.4" ry="1.1" transform="rotate(153 -12.2 2.4)" fill="#2e2e26" opacity="0.55"/>
<ellipse cx="13.7" cy="-7.4" rx="1.7" ry="1.7" transform="rotate(17 13.7 -7.4)" fill="#26261f" opacity="0.55"/>
<ellipse cx="2.1" cy="15.6" rx="1.9" ry="1.8" transform="rotate(36 2.1 15.6)" fill="#1f1f17" opacity="0.55"/>
<ellipse cx="-17.7" cy="-3.6" rx="1.3" ry="1.5" transform="rotate(80 -17.7 -3.6)" fill="#383831" opacity="0.55"/>
<ellipse cx="13.2" cy="8.9" rx="1.7" ry="0.7" transform="rotate(22 13.2 8.9)" fill="#1f1f17" opacity="0.55"/>
<ellipse cx="-11.6" cy="-5.0" rx="2.4" ry="1.2" transform="rotate(61 -11.6 -5.0)" fill="#3e3e37" opacity="0.55"/>
<ellipse cx="-0.7" cy="14.4" rx="2.1" ry="1.2" transform="rotate(55 -0.7 14.4)" fill="#35352e" opacity="0.55"/>
<path d="M-18 -8 Q-10 -14 -2 -10 Q4 -6 0 -2 Q-4 2 -2 6 Q-8 8 -12 12 Q-18 8 -19 0 Z" fill="#f0f0ec" opacity="1"/>
</g></g>
<ellipse cx="383.50" cy="601.15" rx="19.2" ry="16.9" fill="none" stroke="#8e968c" stroke-width="1.1" opacity="0.9"/>
</g>
<clipPath id="c15_0"><rect x="317.2" y="618.30" width="41.6" height="36.00"/></clipPath>
<clipPath id="c15_0d"><ellipse cx="338.00" cy="636.30" rx="19.7" ry="17.4"/></clipPath>
<g clip-path="url(#c15_0)">
<rect x="317.2" y="618.30" width="41.6" height="36.00" fill="#8484a4"/>
<ellipse cx="338.00" cy="636.30" rx="19.7" ry="17.4" fill="#a8a252"/>
<g clip-path="url(#c15_0d)"><g transform="translate(338.00,636.30)">
<ellipse cx="6.8" cy="-12.8" rx="2.1" ry="0.9" transform="rotate(106 6.8 -12.8)" fill="#8f8a46" opacity="0.55"/>
<ellipse cx="4.9" cy="-14.9" rx="1.9" ry="1.3" transform="rotate(1 4.9 -14.9)" fill="#938e47" opacity="0.55"/>
<ellipse cx="-5.8" cy="-10.6" rx="1.7" ry="1.7" transform="rotate(143 -5.8 -10.6)" fill="#aca65b" opacity="0.55"/>
<ellipse cx="0.1" cy="-0.9" rx="1.8" ry="0.7" transform="rotate(76 0.1 -0.9)" fill="#aea85e" opacity="0.55"/>
<ellipse cx="-1.1" cy="-2.6" rx="1.3" ry="1.0" transform="rotate(171 -1.1 -2.6)" fill="#b2ad67" opacity="0.55"/>
<ellipse cx="-0.0" cy="1.9" rx="1.3" ry="1.7" transform="rotate(97 -0.0 1.9)" fill="#b6b16e" opacity="0.55"/>
<ellipse cx="-11.4" cy="6.1" rx="1.9" ry="1.4" transform="rotate(128 -11.4 6.1)" fill="#aba558" opacity="0.55"/>
<ellipse cx="-1.5" cy="1.9" rx="2.1" ry="1.3" transform="rotate(52 -1.5 1.9)" fill="#888442" opacity="0.55"/>
<ellipse cx="-2.5" cy="15.8" rx="0.8" ry="1.5" transform="rotate(127 -2.5 15.8)" fill="#8a8543" opacity="0.55"/>
<ellipse cx="8.9" cy="9.7" rx="1.5" ry="1.1" transform="rotate(35 8.9 9.7)" fill="#a7a151" opacity="0.55"/>
<ellipse cx="-8.9" cy="-3.4" rx="1.1" ry="1.6" transform="rotate(8 -8.9 -3.4)" fill="#8a8543" opacity="0.55"/>
<ellipse cx="2.7" cy="12.0" rx="2.4" ry="0.6" transform="rotate(165 2.7 12.0)" fill="#b3ae69" opacity="0.55"/>
<ellipse cx="-15.4" cy="-3.2" rx="1.8" ry="0.9" transform="rotate(113 -15.4 -3.2)" fill="#a09a4e" opacity="0.55"/>
<ellipse cx="7.1" cy="-13.0" rx="2.3" ry="1.3" transform="rotate(75 7.1 -13.0)" fill="#848040" opacity="0.55"/>
<ellipse cx="11.7" cy="-5.3" rx="1.9" ry="1.0" transform="rotate(169 11.7 -5.3)" fill="#a59f50" opacity="0.55"/>
<ellipse cx="-11.8" cy="-11.1" rx="2.2" ry="1.6" transform="rotate(178 -11.8 -11.1)" fill="#b4af6a" opacity="0.55"/>
<ellipse cx="-12.5" cy="-7.9" rx="1.3" ry="1.4" transform="rotate(157 -12.5 -7.9)" fill="#9c974c" opacity="0.55"/>
<ellipse cx="-4.2" cy="-6.1" rx="1.9" ry="1.6" transform="rotate(101 -4.2 -6.1)" fill="#908b46" opacity="0.55"/>
<ellipse cx="13.8" cy="-7.6" rx="2.2" ry="1.0" transform="rotate(42 13.8 -7.6)" fill="#b0aa62" opacity="0.55"/>
<ellipse cx="7.3" cy="-13.3" rx="1.6" ry="1.5" transform="rotate(72 7.3 -13.3)" fill="#928d47" opacity="0.55"/>
<ellipse cx="4.2" cy="-12.9" rx="2.1" ry="1.1" transform="rotate(100 4.2 -12.9)" fill="#8c8744" opacity="0.55"/>
<ellipse cx="9.2" cy="-10.4" rx="1.9" ry="1.1" transform="rotate(4 9.2 -10.4)" fill="#9a954b" opacity="0.55"/>
<ellipse cx="7.6" cy="-14.6" rx="2.5" ry="1.1" transform="rotate(105 7.6 -14.6)" fill="#8d8844" opacity="0.55"/>
<ellipse cx="-15.9" cy="-8.4" rx="1.1" ry="0.7" transform="rotate(68 -15.9 -8.4)" fill="#8d8844" opacity="0.55"/>
<ellipse cx="6.6" cy="7.3" rx="1.3" ry="1.2" transform="rotate(149 6.6 7.3)" fill="#a19b4e" opacity="0.55"/>
<ellipse cx="4.5" cy="-5.2" rx="2.6" ry="1.5" transform="rotate(34 4.5 -5.2)" fill="#aba659" opacity="0.55"/>
<ellipse cx="-5.4" cy="12.8" rx="1.3" ry="1.3" transform="rotate(142 -5.4 12.8)" fill="#aca65a" opacity="0.55"/>
<ellipse cx="-6.9" cy="9.2" rx="1.8" ry="1.4" transform="rotate(100 -6.9 9.2)" fill="#aea85e" opacity="0.55"/>
<ellipse cx="5.4" cy="-5.6" rx="1.0" ry="0.8" transform="rotate(158 5.4 -5.6)" fill="#928d47" opacity="0.55"/>
<ellipse cx="-10.4" cy="0.0" rx="0.9" ry="1.4" transform="rotate(79 -10.4 0.0)" fill="#b1ab64" opacity="0.55"/>
<ellipse cx="0" cy="0" rx="2.6" ry="2" fill="#e8e8d0" opacity="1"/>
<ellipse cx="13" cy="-3" rx="5" ry="6" fill="#c8c8a0" opacity="0.6"/>
</g></g>
<ellipse cx="338.00" cy="636.30" rx="19.2" ry="16.9" fill="none" stroke="#8e968c" stroke-width="1.1" opacity="0.9"/>
</g>
<clipPath id="c15_1"><rect x="362.8" y="618.30" width="41.4" height="36.00"/></clipPath>
<clipPath id="c15_1d"><ellipse cx="383.50" cy="636.30" rx="19.7" ry="17.4"/></clipPath>
<g clip-path="url(#c15_1)">
<rect x="362.8" y="618.30" width="41.4" height="36.00" fill="#303030"/>
<ellipse cx="383.50" cy="636.30" rx="19.7" ry="17.4" fill="#bcbc44"/>
<g clip-path="url(#c15_1d)"><g transform="translate(383.50,636.30)">
<ellipse cx="3.8" cy="-1.9" rx="2.5" ry="1.5" transform="rotate(18 3.8 -1.9)" fill="#adad3e" opacity="0.55"/>
<ellipse cx="-8.3" cy="8.5" rx="1.1" ry="0.8" transform="rotate(56 -8.3 8.5)" fill="#c7c763" opacity="0.55"/>
<ellipse cx="-16.6" cy="1.7" rx="1.4" ry="1.3" transform="rotate(62 -16.6 1.7)" fill="#c0c051" opacity="0.55"/>
<ellipse cx="-2.2" cy="-3.0" rx="2.4" ry="1.3" transform="rotate(122 -2.2 -3.0)" fill="#939335" opacity="0.55"/>
<ellipse cx="2.2" cy="-10.0" rx="1.2" ry="0.8" transform="rotate(32 2.2 -10.0)" fill="#bdbd47" opacity="0.55"/>
<ellipse cx="7.6" cy="13.2" rx="1.0" ry="1.8" transform="rotate(102 7.6 13.2)" fill="#c7c763" opacity="0.55"/>
<ellipse cx="-8.9" cy="-10.1" rx="2.1" ry="1.4" transform="rotate(158 -8.9 -10.1)" fill="#bdbd48" opacity="0.55"/>
<ellipse cx="-12.9" cy="10.6" rx="1.9" ry="1.2" transform="rotate(22 -12.9 10.6)" fill="#999937" opacity="0.55"/>
<ellipse cx="-1.2" cy="16.3" rx="1.2" ry="1.5" transform="rotate(91 -1.2 16.3)" fill="#c7c763" opacity="0.55"/>
<ellipse cx="-9.2" cy="-0.3" rx="2.4" ry="1.4" transform="rotate(136 -9.2 -0.3)" fill="#b8b842" opacity="0.55"/>
<ellipse cx="-9.9" cy="5.5" rx="1.1" ry="1.1" transform="rotate(113 -9.9 5.5)" fill="#abab3e" opacity="0.55"/>
<ellipse cx="-1.1" cy="1.4" rx="1.1" ry="1.5" transform="rotate(32 -1.1 1.4)" fill="#bfbf4d" opacity="0.55"/>
<ellipse cx="14.5" cy="3.5" rx="2.0" ry="0.9" transform="rotate(142 14.5 3.5)" fill="#c0c051" opacity="0.55"/>
<ellipse cx="-6.9" cy="6.4" rx="2.0" ry="0.8" transform="rotate(98 -6.9 6.4)" fill="#bebe4a" opacity="0.55"/>
<ellipse cx="-1.7" cy="12.7" rx="2.0" ry="1.0" transform="rotate(73 -1.7 12.7)" fill="#959536" opacity="0.55"/>
<ellipse cx="-0.1" cy="5.2" rx="1.9" ry="1.4" transform="rotate(51 -0.1 5.2)" fill="#c2c256" opacity="0.55"/>
<ellipse cx="7.7" cy="-11.6" rx="0.9" ry="0.7" transform="rotate(73 7.7 -11.6)" fill="#c6c660" opacity="0.55"/>
<ellipse cx="-14.9" cy="-9.2" rx="2.0" ry="1.4" transform="rotate(44 -14.9 -9.2)" fill="#c5c55d" opacity="0.55"/>
<ellipse cx="9.0" cy="3.3" rx="1.5" ry="0.7" transform="rotate(176 9.0 3.3)" fill="#c2c255" opacity="0.55"/>
<ellipse cx="13.8" cy="2.1" rx="2.4" ry="0.9" transform="rotate(7 13.8 2.1)" fill="#aeae3f" opacity="0.55"/>
<ellipse cx="-1.4" cy="-16.1" rx="2.4" ry="0.7" transform="rotate(65 -1.4 -16.1)" fill="#b3b341" opacity="0.55"/>
<ellipse cx="-10.8" cy="6.2" rx="1.2" ry="0.7" transform="rotate(26 -10.8 6.2)" fill="#b7b742" opacity="0.55"/>
<ellipse cx="-4.0" cy="13.8" rx="2.0" ry="1.5" transform="rotate(19 -4.0 13.8)" fill="#b2b240" opacity="0.55"/>
<ellipse cx="-4.9" cy="-7.3" rx="1.5" ry="0.9" transform="rotate(116 -4.9 -7.3)" fill="#bfbf4e" opacity="0.55"/>
<ellipse cx="5.4" cy="2.7" rx="2.5" ry="1.4" transform="rotate(46 5.4 2.7)" fill="#c6c662" opacity="0.55"/>
<ellipse cx="-17.1" cy="1.2" rx="0.8" ry="1.6" transform="rotate(172 -17.1 1.2)" fill="#bcbc46" opacity="0.55"/>
<ellipse cx="-6.3" cy="-4.6" rx="1.2" ry="1.5" transform="rotate(53 -6.3 -4.6)" fill="#c0c04f" opacity="0.55"/>
<ellipse cx="-15.1" cy="3.2" rx="1.7" ry="1.6" transform="rotate(107 -15.1 3.2)" fill="#bbbb43" opacity="0.55"/>
<ellipse cx="4.8" cy="12.6" rx="1.6" ry="1.1" transform="rotate(63 4.8 12.6)" fill="#b8b842" opacity="0.55"/>
<ellipse cx="-13.4" cy="-7.7" rx="1.2" ry="1.3" transform="rotate(83 -13.4 -7.7)" fill="#bcbc45" opacity="0.55"/>
<ellipse cx="0" cy="0" rx="12" ry="10" fill="#c4c44c" opacity="0.6"/>
</g></g>
<ellipse cx="383.50" cy="636.30" rx="19.2" ry="16.9" fill="none" stroke="#8e968c" stroke-width="1.1" opacity="0.9"/>
</g>
<path d="M533.3,82.7 L574.1,82.7 L574.1,120.0 L521.0,120.0" fill="none" stroke="#1c1c1c" stroke-width="1.3"/>
<path d="M577,101.0 L588.3,101.0" fill="none" stroke="#1c1c1c" stroke-width="1.3"/>
<path d="M594.8,101.0 L603.9,101.0 L603.9,160.0 L577.3,160.0" fill="none" stroke="#1c1c1c" stroke-width="1.3"/>
<path d="M607,125.9 L612.6,125.9" fill="none" stroke="#1c1c1c" stroke-width="1.3"/>
<path d="M619.4,125.9 L634.4,125.9 L634.4,195.9 L625.3,195.9" fill="none" stroke="#1c1c1c" stroke-width="1.3"/>
<path d="M638.6,159.5 L641.4,159.5 L641.4,259.6 L636.9,259.6" fill="none" stroke="#1c1c1c" stroke-width="1.3"/>
<path d="M635.1,229.9 L636.9,229.9 L636.9,279.6 L631.4,279.6" fill="none" stroke="#1c1c1c" stroke-width="1.3"/>
<path d="M623.5,268.2 L628.4,268.2 L628.4,307.6 L627.1,307.6" fill="none" stroke="#1c1c1c" stroke-width="1.3"/>
<path d="M643.6,208.7 L661.4,208.7 L661.4,344.1 L649.5,344.1" fill="none" stroke="#1c1c1c" stroke-width="1.3"/>
<path d="M663.7,277.0 L666.8,277.0 L666.8,454.0 L660.0,454.0" fill="none" stroke="#1c1c1c" stroke-width="1.3"/>
<path d="M658.0,384.2 L666.8,384.2" fill="none" stroke="#1c1c1c" stroke-width="1.3"/>
<path d="M669.5,365.3 L683.4,365.3 L683.4,688.2 L671.7,688.2" fill="none" stroke="#1c1c1c" stroke-width="1.3"/>
<path d="M653.4,423.9 L657.4,423.9 L657.4,488.0 L650.0,488.0" fill="none" stroke="#1c1c1c" stroke-width="1.3"/>
<path d="M639.3,459.9 L646.6,459.9 L646.6,516.9 L619.5,516.9" fill="none" stroke="#1c1c1c" stroke-width="1.3"/>
<path d="M613.0,498.4 L616.7,498.4 L616.7,535.9 L507.6,535.9" fill="none" stroke="#1c1c1c" stroke-width="1.3"/>
<path d="M675.4,574.4 L676.6,574.4 L676.6,631.4 L674.3,631.4" fill="none" stroke="#1c1c1c" stroke-width="1.3"/>
<path d="M679.9,602.6 L683.4,602.6" fill="none" stroke="#1c1c1c" stroke-width="1.3"/>
<path d="M667.0,612.1 L671.7,612.1 L671.7,650.3 L662.6,650.3" fill="none" stroke="#1c1c1c" stroke-width="1.3"/>
<line x1="586.3" y1="106.6" x2="591.7" y2="96.1" stroke="#1c1c1c" stroke-width="1.25"/>
<line x1="591.5" y1="106.6" x2="597.1" y2="96.1" stroke="#1c1c1c" stroke-width="1.25"/>
<line x1="610.9" y1="131.4" x2="616.0" y2="120.7" stroke="#1c1c1c" stroke-width="1.25"/>
<line x1="616.0" y1="131.4" x2="621.6" y2="120.7" stroke="#1c1c1c" stroke-width="1.25"/>
<rect x="684" y="482.7" width="1" height="211.3" fill="#8a8a8a"/>
<rect x="571.3" y="97.0" width="5.6" height="9.0" fill="#acacac" stroke="#222" stroke-width="1.1"/>
<rect x="601.2" y="120.5" width="5.6" height="8.8" fill="#acacac" stroke="#222" stroke-width="1.1"/>
<rect x="632.1" y="155.5" width="6.3" height="9.2" fill="#acacac" stroke="#222" stroke-width="1.1"/>
<rect x="637.6" y="206.5" width="6.0" height="8.2" fill="#acacac" stroke="#222" stroke-width="1.1"/>
<rect x="633.6" y="244.5" width="6.0" height="9.4" fill="#acacac" stroke="#222" stroke-width="1.1"/>
<rect x="625.4" y="274.9" width="6.0" height="9.4" fill="#acacac" stroke="#222" stroke-width="1.1"/>
<rect x="657.2" y="272.4" width="6.4" height="9.4" fill="#acacac" stroke="#222" stroke-width="1.1"/>
<rect x="663.4" y="362.6" width="6.1" height="9.2" fill="#acacac" stroke="#222" stroke-width="1.1"/>
<rect x="653.7" y="449.4" width="6.2" height="9.1" fill="#acacac" stroke="#222" stroke-width="1.1"/>
<rect x="643.8" y="483.6" width="6.2" height="9.1" fill="#acacac" stroke="#222" stroke-width="1.1"/>
<rect x="613.4" y="512.6" width="6.1" height="9.4" fill="#acacac" stroke="#222" stroke-width="1.1"/>
<rect x="674.3" y="598.1" width="5.6" height="8.9" fill="#acacac" stroke="#222" stroke-width="1.1"/>
<rect x="668.8" y="627.7" width="5.5" height="8.8" fill="#acacac" stroke="#222" stroke-width="1.1"/>
<text x="408" y="85.6" font-size="8.6" font-weight="bold" fill="#111" stroke="#111" stroke-width="0.2" textLength="84.9" lengthAdjust="spacingAndGlyphs"><tspan font-style="italic">Rhizomucor</tspan> MN913756</text>
<line x1="493.2" y1="82.5" x2="527.6" y2="82.5" stroke="#111" stroke-width="1.1" stroke-dasharray="3,1.7"/>
<ellipse cx="533.3" cy="82.7" rx="2.3" ry="2.7" fill="#000"/>
<text x="408" y="123.2" font-size="8.6" font-weight="bold" fill="#111" stroke="#111" stroke-width="0.2" textLength="104.3" lengthAdjust="spacingAndGlyphs"><tspan font-style="italic">Syncephalastrum</tspan> MN913763</text>
<line x1="512.5" y1="120.5" x2="519.0" y2="120.5" stroke="#111" stroke-width="1.1"/>
<ellipse cx="521.0" cy="120.0" rx="2.3" ry="2.7" fill="#000"/>
<text x="413.6" y="163.2" font-size="8.6" font-weight="bold" fill="#111" stroke="#111" stroke-width="0.2" textLength="65.4" lengthAdjust="spacingAndGlyphs"><tspan font-style="italic">Mucor</tspan> MN913757</text>
<line x1="483.7" y1="160.5" x2="575.3" y2="160.5" stroke="#111" stroke-width="1.1" stroke-dasharray="3,1.7"/>
<ellipse cx="577.3" cy="160.0" rx="2.3" ry="2.7" fill="#000"/>
<text x="408" y="199.1" font-size="8.6" font-weight="bold" fill="#111" stroke="#111" stroke-width="0.2" textLength="107.4" lengthAdjust="spacingAndGlyphs"><tspan font-style="italic">Paraconiothyrium</tspan> MN913759</text>
<line x1="515.6" y1="195.5" x2="623.3" y2="195.5" stroke="#111" stroke-width="1.1" stroke-dasharray="3,1.7"/>
<ellipse cx="625.3" cy="195.9" rx="2.3" ry="2.7" fill="#000"/>
<text x="415.6" y="233.1" font-size="8.6" font-weight="bold" fill="#111" stroke="#111" stroke-width="0.2" textLength="67.4" lengthAdjust="spacingAndGlyphs"><tspan font-style="italic">Phoma</tspan> MN913761</text>
<line x1="483.2" y1="229.5" x2="633.1" y2="229.5" stroke="#111" stroke-width="1.1" stroke-dasharray="3,1.7"/>
<ellipse cx="635.1" cy="229.9" rx="2.3" ry="2.7" fill="#000"/>
<text x="415.6" y="271.4" font-size="8.6" font-weight="bold" fill="#111" stroke="#111" stroke-width="0.2" textLength="79.4" lengthAdjust="spacingAndGlyphs"><tspan font-style="italic">Curvularia</tspan> MN913753</text>
<line x1="503" y1="268.5" x2="621.5" y2="268.5" stroke="#111" stroke-width="1.1" stroke-dasharray="3,1.7"/>
<ellipse cx="623.5" cy="268.2" rx="2.3" ry="2.7" fill="#000"/>
<text x="418.9" y="310.8" font-size="8.6" font-weight="bold" fill="#111" stroke="#111" stroke-width="0.2" textLength="78.5" lengthAdjust="spacingAndGlyphs"><tspan font-style="italic">Alternaria</tspan> MN913751</text>
<line x1="505" y1="307.5" x2="625.1" y2="307.5" stroke="#111" stroke-width="1.1" stroke-dasharray="3,1.7"/>
<ellipse cx="627.1" cy="307.6" rx="2.3" ry="2.7" fill="#000"/>
<text x="415.6" y="348.7" font-size="8.6" font-weight="bold" fill="#111" stroke="#111" stroke-width="0.2" textLength="90.2" lengthAdjust="spacingAndGlyphs"><tspan font-style="italic">Lasiodiplodia</tspan> MN913758</text>
<line x1="509.6" y1="345.5" x2="645.8" y2="345.5" stroke="#111" stroke-width="1.1" stroke-dasharray="3,1.7"/>
<ellipse cx="649.5" cy="344.1" rx="2.3" ry="2.7" fill="#000"/>
<text x="408" y="390.1" font-size="8.6" font-weight="bold" fill="#111" stroke="#111" stroke-width="0.2" textLength="78.7" lengthAdjust="spacingAndGlyphs"><tspan font-style="italic">Diaporthe</tspan> MN913762</text>
<line x1="487" y1="386.5" x2="652.3" y2="386.5" stroke="#111" stroke-width="1.1" stroke-dasharray="3,1.7"/>
<ellipse cx="658.0" cy="384.2" rx="2.3" ry="2.7" fill="#000"/>
<text x="408" y="427.1" font-size="8.6" font-weight="bold" fill="#111" stroke="#111" stroke-width="0.2" textLength="85.3" lengthAdjust="spacingAndGlyphs"><tspan font-style="italic">Phialotubus</tspan> MN913760</text>
<line x1="493.5" y1="423.5" x2="651.4" y2="423.5" stroke="#111" stroke-width="1.1" stroke-dasharray="3,1.7"/>
<ellipse cx="653.4" cy="423.9" rx="2.3" ry="2.7" fill="#000"/>
<text x="410.7" y="466.0" font-size="8.6" font-weight="bold" fill="#111" stroke="#111" stroke-width="0.2" textLength="75.6" lengthAdjust="spacingAndGlyphs"><tspan font-style="italic">Fusarium</tspan> MN913754</text>
<line x1="486.5" y1="462.5" x2="633.3" y2="462.5" stroke="#111" stroke-width="1.1" stroke-dasharray="3,1.7"/>
<ellipse cx="639.3" cy="459.9" rx="2.3" ry="2.7" fill="#000"/>
<text x="408" y="501.6" font-size="8.6" font-weight="bold" fill="#111" stroke="#111" stroke-width="0.2" textLength="87" lengthAdjust="spacingAndGlyphs"><tspan font-style="italic">Trichoderma</tspan> MN913767</text>
<line x1="495.2" y1="498.5" x2="611.0" y2="498.5" stroke="#111" stroke-width="1.1" stroke-dasharray="3,1.7"/>
<ellipse cx="613.0" cy="498.4" rx="2.3" ry="2.7" fill="#000"/>
<text x="411.1" y="539.1" font-size="8.6" font-weight="bold" fill="#111" stroke="#111" stroke-width="0.2" textLength="71.9" lengthAdjust="spacingAndGlyphs"><tspan font-style="italic">Ustilago</tspan> MN913772</text>
<line x1="483.2" y1="535.5" x2="505.6" y2="535.5" stroke="#111" stroke-width="1.1" stroke-dasharray="3,1.7"/>
<ellipse cx="507.6" cy="535.9" rx="2.3" ry="2.7" fill="#000"/>
<text x="410.7" y="577.5" font-size="8.6" font-weight="bold" fill="#111" stroke="#111" stroke-width="0.2" textLength="81.2" lengthAdjust="spacingAndGlyphs"><tspan font-style="italic">Penicillium</tspan> MN913771</text>
<line x1="492.1" y1="574.5" x2="668.3" y2="574.5" stroke="#111" stroke-width="1.1" stroke-dasharray="3,1.7"/>
<ellipse cx="675.4" cy="574.4" rx="2.3" ry="2.7" fill="#000"/>
<text x="408" y="615.7" font-size="8.6" font-weight="bold" fill="#111" stroke="#111" stroke-width="0.2" textLength="81.8" lengthAdjust="spacingAndGlyphs"><tspan font-style="italic">Aspergillus</tspan> MN913749</text>
<line x1="490" y1="612.5" x2="659.6" y2="612.5" stroke="#111" stroke-width="1.1" stroke-dasharray="3,1.7"/>
<ellipse cx="667.0" cy="612.1" rx="2.3" ry="2.7" fill="#000"/>
<text x="409.9" y="653.5" font-size="8.6" font-weight="bold" fill="#111" stroke="#111" stroke-width="0.2" textLength="82.1" lengthAdjust="spacingAndGlyphs"><tspan font-style="italic">Aspergillus</tspan> MN913750</text>
<line x1="492.2" y1="650.5" x2="660.6" y2="650.5" stroke="#111" stroke-width="1.1" stroke-dasharray="3,1.7"/>
<ellipse cx="662.6" cy="650.3" rx="2.3" ry="2.7" fill="#000"/>
<text x="578.1" y="691.4" font-size="8.6" font-weight="bold" fill="#111" stroke="#111" stroke-width="0.2" textLength="87.2" lengthAdjust="spacingAndGlyphs"><tspan font-style="italic">Talaromyces</tspan> MN860584</text>
<ellipse cx="671.7" cy="688.2" rx="2.3" ry="2.7" fill="#000"/>
</svg>
</body></html>
